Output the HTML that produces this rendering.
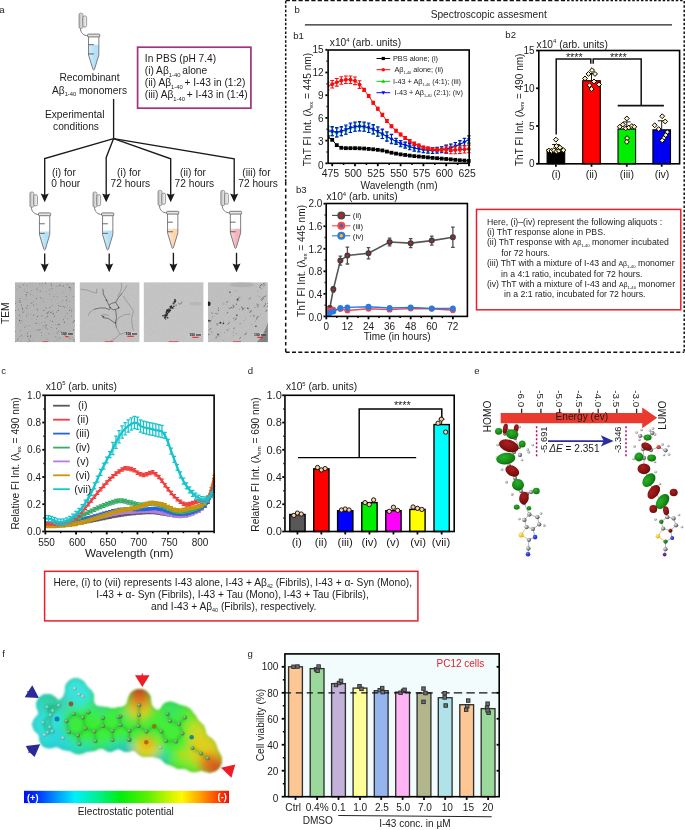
<!DOCTYPE html>
<html><head><meta charset="utf-8"><title>Figure</title>
<style>
html,body{margin:0;padding:0;background:#fff;}
body{width:685px;height:830px;overflow:hidden;font-family:"Liberation Sans",sans-serif;}
svg{display:block;will-change:transform;}
svg text{font-family:"Liberation Sans",sans-serif;fill:#1c1c1c;}
</style></head><body>
<svg width="685" height="830" viewBox="0 0 685 830">
<defs>
<filter id="blur1" x="-10%" y="-10%" width="120%" height="120%"><feGaussianBlur stdDeviation="1.2"/></filter>
<filter id="goo" x="-10%" y="-10%" width="120%" height="120%"><feGaussianBlur in="SourceGraphic" stdDeviation="2.6" result="b"/><feColorMatrix in="b" mode="matrix" values="1 0 0 0 0  0 1 0 0 0  0 0 1 0 0  0 0 0 16 -7.5" result="g"/><feGaussianBlur in="g" stdDeviation="0.85"/></filter>
<filter id="goo2" x="-10%" y="-10%" width="120%" height="120%"><feGaussianBlur in="SourceGraphic" stdDeviation="2.6" result="b"/><feColorMatrix in="b" mode="matrix" values="1 0 0 0 0  0 1 0 0 0  0 0 1 0 0  0 0 0 16 -7.5" result="g"/><feGaussianBlur in="g" stdDeviation="3.2"/></filter>
<filter id="grain" x="0" y="0" width="100%" height="100%"><feTurbulence type="fractalNoise" baseFrequency="0.85" numOctaves="2" seed="3" result="n"/><feColorMatrix in="n" type="matrix" values="0.33 0.33 0.33 0 0  0.33 0.33 0.33 0 0  0.33 0.33 0.33 0 0  0 0 0 0 0.35"/></filter>
<filter id="blur2" x="-20%" y="-20%" width="140%" height="140%"><feGaussianBlur stdDeviation="4"/></filter>
<radialGradient id="gDR" cx="0.4" cy="0.35" r="0.75"><stop offset="0" stop-color="#a82020"/><stop offset="0.6" stop-color="#861212"/><stop offset="1" stop-color="#560808"/></radialGradient>
<radialGradient id="gGR" cx="0.4" cy="0.35" r="0.75"><stop offset="0" stop-color="#2cb02c"/><stop offset="0.6" stop-color="#168a16"/><stop offset="1" stop-color="#0a5a0a"/></radialGradient>
<radialGradient id="gGY" cx="0.35" cy="0.35" r="0.7"><stop offset="0" stop-color="#ececec"/><stop offset="0.55" stop-color="#8e8e8e"/><stop offset="1" stop-color="#3c3c3c"/></radialGradient>
<radialGradient id="gWH" cx="0.35" cy="0.35" r="0.7"><stop offset="0" stop-color="#f6f6f6"/><stop offset="1" stop-color="#747474"/></radialGradient>
<radialGradient id="gYE" cx="0.35" cy="0.35" r="0.7"><stop offset="0" stop-color="#fff080"/><stop offset="1" stop-color="#d8b010"/></radialGradient>
<radialGradient id="gBL" cx="0.35" cy="0.35" r="0.7"><stop offset="0" stop-color="#5070ff"/><stop offset="1" stop-color="#1018c0"/></radialGradient>
<radialGradient id="gRD" cx="0.35" cy="0.35" r="0.7"><stop offset="0" stop-color="#ff6060"/><stop offset="1" stop-color="#e01010"/></radialGradient>
<radialGradient id="gPU" cx="0.35" cy="0.35" r="0.7"><stop offset="0" stop-color="#9040a0"/><stop offset="1" stop-color="#401080"/></radialGradient>
<radialGradient id="gGRs" cx="0.35" cy="0.35" r="0.7"><stop offset="0" stop-color="#30b030"/><stop offset="1" stop-color="#0a6a0a"/></radialGradient>
<radialGradient id="gDRs" cx="0.35" cy="0.35" r="0.7"><stop offset="0" stop-color="#a02020"/><stop offset="1" stop-color="#600808"/></radialGradient>
<radialGradient id="gAT" cx="0.35" cy="0.35" r="0.7"><stop offset="0" stop-color="#a8d0a0"/><stop offset="1" stop-color="#2c6630"/></radialGradient>
<linearGradient id="glid" x1="0" y1="0" x2="1" y2="0"><stop offset="0" stop-color="#b4b4b4"/><stop offset="1" stop-color="#f2f2f2"/></linearGradient>
<linearGradient id="glid2" x1="0" y1="0" x2="1" y2="0"><stop offset="0" stop-color="#c8c8c8"/><stop offset="1" stop-color="#f8f8f8"/></linearGradient>
<linearGradient id="gliq" x1="0" y1="0" x2="1" y2="0"><stop offset="0" stop-color="#fff" stop-opacity="0.45"/><stop offset="0.6" stop-color="#fff" stop-opacity="0"/></linearGradient>
<radialGradient id="gAT2" cx="0.35" cy="0.35" r="0.7"><stop offset="0" stop-color="#a8ece4"/><stop offset="1" stop-color="#2a9a94"/></radialGradient>
<linearGradient id="gsurf" x1="0" y1="0" x2="1" y2="0"><stop offset="0" stop-color="#34dce0"/><stop offset="0.2" stop-color="#30e0b8"/><stop offset="0.32" stop-color="#3cec40"/><stop offset="0.7" stop-color="#48ec38"/><stop offset="0.85" stop-color="#a8e824"/><stop offset="1" stop-color="#e08020"/></linearGradient>
<linearGradient id="gbar" x1="0" y1="0" x2="1" y2="0"><stop offset="0" stop-color="#0010f0"/><stop offset="0.07" stop-color="#0038ff"/><stop offset="0.16" stop-color="#0098ff"/><stop offset="0.25" stop-color="#00f0f8"/><stop offset="0.36" stop-color="#00f090"/><stop offset="0.47" stop-color="#00ee10"/><stop offset="0.6" stop-color="#58f000"/><stop offset="0.7" stop-color="#c0f400"/><stop offset="0.77" stop-color="#fff800"/><stop offset="0.86" stop-color="#ffa000"/><stop offset="0.94" stop-color="#ff4800"/><stop offset="1" stop-color="#f01000"/></linearGradient>
</defs>
<g id="pa">
<text x="-0.8" y="13.3" font-size="9.6">a</text>
<g><rect x="79" y="13.2" width="3.9" height="15.2" rx="1.5" fill="url(#glid)" stroke="#777" stroke-width="0.7"/><rect x="82.7" y="15.9" width="3.9" height="11.2" rx="1.6" fill="url(#glid2)" stroke="#777" stroke-width="0.7"/><path d="M80.5 28.4 C80.5 32.7 83.5 35.7 88 35.7" fill="none" stroke="#777" stroke-width="1"/><path d="M88.55 35.3 L88.55 55.03 L93 69.5 Q93.7 70.8 94.4 69.5 L98.85 55.03 L98.85 35.3 Z" fill="#fff" stroke="none"/><path d="M88.55 44.7 L88.55 55.03 L93 69.5 Q93.7 70.8 94.4 69.5 L98.85 55.03 L98.85 44.7 Z" fill="#b4e0f8"/><path d="M88.55 44.7 L88.55 55.03 L93 69.5 Q93.7 70.8 94.4 69.5 L98.85 55.03 L98.85 44.7 Z" fill="url(#gliq)"/><path d="M88.55 35.3 L88.55 55.03 L93 69.5 Q93.7 70.8 94.4 69.5 L98.85 55.03 L98.85 35.3 Z" fill="none" stroke="#707070" stroke-width="0.9"/><rect x="87.6" y="34.1" width="12.2" height="2.8" rx="0.9" fill="#e4e4e4" stroke="#5c5c5c" stroke-width="0.8"/><line x1="88.55" y1="44.66" x2="93.85" y2="44.66" stroke="#444" stroke-width="0.8" />
<line x1="88.55" y1="53.94" x2="93.85" y2="53.94" stroke="#444" stroke-width="0.8" />
</g>
<text x="89.5" y="81.4" font-size="10.2" text-anchor="middle">Recombinant</text>
<text x="89.5" y="93.8" font-size="10.2" text-anchor="middle">A&#946;<tspan font-size="5.8" dy="2.4">1-40</tspan><tspan dy="-2.4" dx="-0.2">&#8203;</tspan> monomers</text>
<text x="74.7" y="118.1" font-size="10.2" text-anchor="middle">Experimental</text>
<text x="76" y="130.4" font-size="10.2" text-anchor="middle">conditions</text>
<rect x="137.6" y="47.2" width="113.3" height="61" fill="#fff" stroke="#a3317b" stroke-width="1.7" />
<text x="144.8" y="61.5" font-size="10.2">In PBS (pH 7.4)</text>
<text x="144.8" y="74" font-size="10.2">(i) A&#946;<tspan font-size="5.8" dy="2.7">1-40</tspan><tspan dy="-2.7" dx="-1">&#8203;</tspan> alone</text>
<text x="144.8" y="86.1" font-size="10.2">(ii) A&#946;<tspan font-size="5.8" dy="2.7">1-40</tspan><tspan dy="-2.7" dx="-1">&#8203;</tspan> + I-43 in (1:2)</text>
<text x="144.8" y="98.3" font-size="10.2">(iii) A&#946;<tspan font-size="5.8" dy="2.7">1-40</tspan><tspan dy="-2.7" dx="-1">&#8203;</tspan> + I-43 in (1:4)</text>
<line x1="113.6" y1="99" x2="113.6" y2="138.6" stroke="#1a1a1a" stroke-width="1.35" />
<path d="M113.6 138.6 L44.7 158.6 L44.7 196" fill="none" stroke="#1a1a1a" stroke-width="1.35" stroke-linejoin="miter"/>
<path d="M44.7 202.2 L40.7 193.6 Q44.7 195.8 48.7 193.6 Z" fill="#1a1a1a"/>
<path d="M113.6 138.6 L106.2 157.5 L106.2 196" fill="none" stroke="#1a1a1a" stroke-width="1.35" stroke-linejoin="miter"/>
<path d="M106.2 202.2 L102.2 193.6 Q106.2 195.8 110.2 193.6 Z" fill="#1a1a1a"/>
<path d="M113.6 138.6 L170.7 158.8 L170.7 196" fill="none" stroke="#1a1a1a" stroke-width="1.35" stroke-linejoin="miter"/>
<path d="M170.7 202.2 L166.7 193.6 Q170.7 195.8 174.7 193.6 Z" fill="#1a1a1a"/>
<path d="M113.6 138.6 L234.2 158.8 L234.2 196" fill="none" stroke="#1a1a1a" stroke-width="1.35" stroke-linejoin="miter"/>
<path d="M234.2 202.2 L230.2 193.6 Q234.2 195.8 238.2 193.6 Z" fill="#1a1a1a"/>
<text x="64" y="176" font-size="10.2" text-anchor="middle">(i) for</text>
<text x="65.8" y="187.3" font-size="10.2" text-anchor="middle">0 hour</text>
<text x="129" y="176" font-size="10.2" text-anchor="middle">(i) for</text>
<text x="130.3" y="187.3" font-size="10.2" text-anchor="middle">72 hours</text>
<text x="193" y="176" font-size="10.2" text-anchor="middle">(ii) for</text>
<text x="194.4" y="187.3" font-size="10.2" text-anchor="middle">72 hours</text>
<text x="256.4" y="176" font-size="10.2" text-anchor="middle">(iii) for</text>
<text x="258.1" y="187.3" font-size="10.2" text-anchor="middle">72 hours</text>
<g><rect x="29.9" y="192" width="3.9" height="15.2" rx="1.5" fill="url(#glid)" stroke="#777" stroke-width="0.7"/><rect x="33.6" y="194.7" width="3.9" height="11.2" rx="1.6" fill="url(#glid2)" stroke="#777" stroke-width="0.7"/><path d="M31.4 207.2 C31.4 211.5 34.4 214.5 38.9 214.5" fill="none" stroke="#777" stroke-width="1"/><path d="M39.45 214.1 L39.45 234.46 L43.9 249.4 Q44.6 250.7 45.3 249.4 L49.75 234.46 L49.75 214.1 Z" fill="#fff" stroke="none"/><path d="M39.45 231.4 L39.45 234.46 L43.9 249.4 Q44.6 250.7 45.3 249.4 L49.75 234.46 L49.75 231.4 Z" fill="#b4e0f8"/><path d="M39.45 231.4 L39.45 234.46 L43.9 249.4 Q44.6 250.7 45.3 249.4 L49.75 234.46 L49.75 231.4 Z" fill="url(#gliq)"/><path d="M39.45 214.1 L39.45 234.46 L43.9 249.4 Q44.6 250.7 45.3 249.4 L49.75 234.46 L49.75 214.1 Z" fill="none" stroke="#707070" stroke-width="0.9"/><rect x="38.5" y="212.9" width="12.2" height="2.8" rx="0.9" fill="#e4e4e4" stroke="#5c5c5c" stroke-width="0.8"/><line x1="39.45" y1="223.78" x2="44.75" y2="223.78" stroke="#444" stroke-width="0.8" />
<line x1="39.45" y1="233.34" x2="44.75" y2="233.34" stroke="#444" stroke-width="0.8" />
</g>
<line x1="44.7" y1="253.5" x2="44.7" y2="266" stroke="#1a1a1a" stroke-width="1.35" />
<path d="M44.7 272.2 L40.7 263.6 Q44.7 265.8 48.7 263.6 Z" fill="#1a1a1a"/>
<g><rect x="93" y="192" width="3.9" height="15.2" rx="1.5" fill="url(#glid)" stroke="#777" stroke-width="0.7"/><rect x="96.7" y="194.7" width="3.9" height="11.2" rx="1.6" fill="url(#glid2)" stroke="#777" stroke-width="0.7"/><path d="M94.5 207.2 C94.5 211.5 97.5 214.5 102 214.5" fill="none" stroke="#777" stroke-width="1"/><path d="M102.55 214.1 L102.55 234.46 L107 249.4 Q107.7 250.7 108.4 249.4 L112.85 234.46 L112.85 214.1 Z" fill="#fff" stroke="none"/><path d="M102.55 230.5 L102.55 234.46 L107 249.4 Q107.7 250.7 108.4 249.4 L112.85 234.46 L112.85 230.5 Z" fill="#b4e0f8"/><path d="M102.55 230.5 L102.55 234.46 L107 249.4 Q107.7 250.7 108.4 249.4 L112.85 234.46 L112.85 230.5 Z" fill="url(#gliq)"/><path d="M102.55 214.1 L102.55 234.46 L107 249.4 Q107.7 250.7 108.4 249.4 L112.85 234.46 L112.85 214.1 Z" fill="none" stroke="#707070" stroke-width="0.9"/><rect x="101.6" y="212.9" width="12.2" height="2.8" rx="0.9" fill="#e4e4e4" stroke="#5c5c5c" stroke-width="0.8"/><line x1="102.55" y1="223.78" x2="107.85" y2="223.78" stroke="#444" stroke-width="0.8" />
<line x1="102.55" y1="233.34" x2="107.85" y2="233.34" stroke="#444" stroke-width="0.8" />
</g>
<line x1="109.2" y1="253.5" x2="109.2" y2="266" stroke="#1a1a1a" stroke-width="1.35" />
<path d="M109.2 272.2 L105.2 263.6 Q109.2 265.8 113.2 263.6 Z" fill="#1a1a1a"/>
<g><rect x="158" y="190.4" width="3.9" height="15.2" rx="1.5" fill="url(#glid)" stroke="#777" stroke-width="0.7"/><rect x="161.7" y="193.1" width="3.9" height="11.2" rx="1.6" fill="url(#glid2)" stroke="#777" stroke-width="0.7"/><path d="M159.5 205.6 C159.5 209.9 162.5 212.9 167 212.9" fill="none" stroke="#777" stroke-width="1"/><path d="M167.55 212.5 L167.55 232.86 L172 247.8 Q172.7 249.1 173.4 247.8 L177.85 232.86 L177.85 212.5 Z" fill="#fff" stroke="none"/><path d="M167.55 228.7 L167.55 232.86 L172 247.8 Q172.7 249.1 173.4 247.8 L177.85 232.86 L177.85 228.7 Z" fill="#fbd7ae"/><path d="M167.55 228.7 L167.55 232.86 L172 247.8 Q172.7 249.1 173.4 247.8 L177.85 232.86 L177.85 228.7 Z" fill="url(#gliq)"/><path d="M167.55 212.5 L167.55 232.86 L172 247.8 Q172.7 249.1 173.4 247.8 L177.85 232.86 L177.85 212.5 Z" fill="none" stroke="#707070" stroke-width="0.9"/><rect x="166.6" y="211.3" width="12.2" height="2.8" rx="0.9" fill="#e4e4e4" stroke="#5c5c5c" stroke-width="0.8"/><line x1="167.55" y1="222.18" x2="172.85" y2="222.18" stroke="#444" stroke-width="0.8" />
<line x1="167.55" y1="231.74" x2="172.85" y2="231.74" stroke="#444" stroke-width="0.8" />
</g>
<line x1="173.4" y1="252.8" x2="173.4" y2="266" stroke="#1a1a1a" stroke-width="1.35" />
<path d="M173.4 272.2 L169.4 263.6 Q173.4 265.8 177.4 263.6 Z" fill="#1a1a1a"/>
<g><rect x="220.8" y="190.4" width="3.9" height="15.2" rx="1.5" fill="url(#glid)" stroke="#777" stroke-width="0.7"/><rect x="224.5" y="193.1" width="3.9" height="11.2" rx="1.6" fill="url(#glid2)" stroke="#777" stroke-width="0.7"/><path d="M222.3 205.6 C222.3 209.9 225.3 212.9 229.8 212.9" fill="none" stroke="#777" stroke-width="1"/><path d="M230.35 212.5 L230.35 232.86 L234.8 247.8 Q235.5 249.1 236.2 247.8 L240.65 232.86 L240.65 212.5 Z" fill="#fff" stroke="none"/><path d="M230.35 228.7 L230.35 232.86 L234.8 247.8 Q235.5 249.1 236.2 247.8 L240.65 232.86 L240.65 228.7 Z" fill="#f2b4be"/><path d="M230.35 228.7 L230.35 232.86 L234.8 247.8 Q235.5 249.1 236.2 247.8 L240.65 232.86 L240.65 228.7 Z" fill="url(#gliq)"/><path d="M230.35 212.5 L230.35 232.86 L234.8 247.8 Q235.5 249.1 236.2 247.8 L240.65 232.86 L240.65 212.5 Z" fill="none" stroke="#707070" stroke-width="0.9"/><rect x="229.4" y="211.3" width="12.2" height="2.8" rx="0.9" fill="#e4e4e4" stroke="#5c5c5c" stroke-width="0.8"/><line x1="230.35" y1="222.18" x2="235.65" y2="222.18" stroke="#444" stroke-width="0.8" />
<line x1="230.35" y1="231.74" x2="235.65" y2="231.74" stroke="#444" stroke-width="0.8" />
</g>
<line x1="236.5" y1="252.8" x2="236.5" y2="266" stroke="#1a1a1a" stroke-width="1.35" />
<path d="M236.5 272.2 L232.5 263.6 Q236.5 265.8 240.5 263.6 Z" fill="#1a1a1a"/>
<text x="9.2" y="313.2" font-size="10.2" text-anchor="middle" transform="rotate(-90 9.2 313.2)">TEM</text>
<clipPath id="ct0"><rect x="14.9" y="282.2" width="60" height="60"/></clipPath><g clip-path="url(#ct0)"><rect x="14.9" y="282.2" width="60" height="60" fill="#b4b4b4" />
<rect x="14.9" y="282.2" width="60" height="60" fill="#808080" filter="url(#grain)" opacity="0.4"/>
<circle cx="42.04" cy="315.79" r="0.58" fill="#505050" opacity="0.66"/><circle cx="45.37" cy="317.44" r="0.36" fill="#505050" opacity="0.68"/><circle cx="52.69" cy="329.78" r="0.33" fill="#505050" opacity="0.59"/><circle cx="20.34" cy="330.78" r="0.51" fill="#505050" opacity="0.47"/><circle cx="73.83" cy="340.09" r="0.5" fill="#505050" opacity="0.73"/><circle cx="24.35" cy="283.1" r="0.46" fill="#505050" opacity="0.48"/><circle cx="26.31" cy="296.72" r="0.31" fill="#505050" opacity="0.66"/><circle cx="41.33" cy="332.75" r="0.46" fill="#505050" opacity="0.74"/><circle cx="44.89" cy="321.95" r="0.44" fill="#505050" opacity="0.58"/><circle cx="74.76" cy="341.94" r="0.55" fill="#505050" opacity="0.77"/><circle cx="33.82" cy="295.98" r="0.39" fill="#505050" opacity="0.48"/><circle cx="60.88" cy="306.22" r="0.55" fill="#505050" opacity="0.62"/><circle cx="72.38" cy="333.04" r="0.3" fill="#505050" opacity="0.54"/><circle cx="69.52" cy="310.4" r="0.59" fill="#505050" opacity="0.63"/><circle cx="19.28" cy="319.97" r="0.53" fill="#505050" opacity="0.57"/><circle cx="20.13" cy="302.16" r="0.59" fill="#505050" opacity="0.79"/><circle cx="21.98" cy="296.98" r="0.33" fill="#505050" opacity="0.48"/><circle cx="62.72" cy="292.86" r="0.47" fill="#505050" opacity="0.65"/><circle cx="26.34" cy="326.11" r="0.34" fill="#505050" opacity="0.74"/><circle cx="21.89" cy="307.45" r="0.36" fill="#505050" opacity="0.57"/><circle cx="73.16" cy="330.4" r="0.39" fill="#505050" opacity="0.85"/><circle cx="27.54" cy="305.86" r="0.56" fill="#505050" opacity="0.74"/><circle cx="20.92" cy="341.56" r="0.36" fill="#505050" opacity="0.57"/><circle cx="61.26" cy="301.94" r="0.39" fill="#505050" opacity="0.48"/><circle cx="20.31" cy="317.16" r="0.37" fill="#505050" opacity="0.72"/><circle cx="37.2" cy="309.39" r="0.59" fill="#505050" opacity="0.67"/><circle cx="49.37" cy="334.19" r="0.35" fill="#505050" opacity="0.52"/><circle cx="69.41" cy="331.27" r="0.37" fill="#505050" opacity="0.54"/><circle cx="59.27" cy="338.62" r="0.36" fill="#505050" opacity="0.88"/><circle cx="67.83" cy="318.41" r="0.43" fill="#505050" opacity="0.5"/><circle cx="17.22" cy="339.96" r="0.37" fill="#505050" opacity="0.77"/><circle cx="30.32" cy="331.62" r="0.48" fill="#505050" opacity="0.58"/><circle cx="25.43" cy="325.42" r="0.32" fill="#505050" opacity="0.55"/><circle cx="48.46" cy="333.34" r="0.48" fill="#505050" opacity="0.58"/><circle cx="69.94" cy="294.44" r="0.3" fill="#505050" opacity="0.57"/><circle cx="41.64" cy="285.83" r="0.35" fill="#505050" opacity="0.62"/><circle cx="49.23" cy="290.09" r="0.41" fill="#505050" opacity="0.85"/><circle cx="73.73" cy="321.62" r="0.51" fill="#505050" opacity="0.71"/><circle cx="23.32" cy="284.3" r="0.31" fill="#505050" opacity="0.86"/><circle cx="56.96" cy="339.97" r="0.31" fill="#505050" opacity="0.74"/><circle cx="43.83" cy="326.03" r="0.4" fill="#505050" opacity="0.9"/><circle cx="19.42" cy="314.97" r="0.52" fill="#505050" opacity="0.86"/><circle cx="59.13" cy="324.42" r="0.54" fill="#505050" opacity="0.86"/><circle cx="36.01" cy="323.31" r="0.57" fill="#505050" opacity="0.84"/><circle cx="39.93" cy="329.63" r="0.56" fill="#505050" opacity="0.71"/><circle cx="52.4" cy="305.14" r="0.47" fill="#505050" opacity="0.72"/><circle cx="19.71" cy="320.56" r="0.6" fill="#505050" opacity="0.85"/><circle cx="58.59" cy="305.51" r="0.52" fill="#505050" opacity="0.71"/><circle cx="41.33" cy="332.5" r="0.33" fill="#505050" opacity="0.79"/><circle cx="16.69" cy="318.28" r="0.44" fill="#505050" opacity="0.55"/><circle cx="56.8" cy="312.04" r="0.48" fill="#505050" opacity="0.86"/><circle cx="30.25" cy="282.88" r="0.39" fill="#505050" opacity="0.76"/><circle cx="27.05" cy="292.38" r="0.57" fill="#505050" opacity="0.75"/><circle cx="41.42" cy="335.7" r="0.4" fill="#505050" opacity="0.75"/><circle cx="26.81" cy="308.05" r="0.54" fill="#505050" opacity="0.86"/><circle cx="67.72" cy="305.27" r="0.47" fill="#505050" opacity="0.59"/><circle cx="23.07" cy="311.99" r="0.55" fill="#505050" opacity="0.83"/><circle cx="57.57" cy="339.2" r="0.38" fill="#505050" opacity="0.53"/><circle cx="41.94" cy="298.71" r="0.36" fill="#505050" opacity="0.64"/><circle cx="52.44" cy="311.83" r="0.39" fill="#505050" opacity="0.83"/><circle cx="73.82" cy="309.35" r="0.32" fill="#505050" opacity="0.46"/><circle cx="67.27" cy="284.69" r="0.51" fill="#505050" opacity="0.71"/><circle cx="33.44" cy="329.69" r="0.31" fill="#505050" opacity="0.51"/><circle cx="42.19" cy="283.68" r="0.55" fill="#505050" opacity="0.56"/><circle cx="23.35" cy="285.02" r="0.49" fill="#505050" opacity="0.65"/><circle cx="52.7" cy="321.5" r="0.54" fill="#505050" opacity="0.88"/><circle cx="55.97" cy="294.16" r="0.44" fill="#505050" opacity="0.53"/><circle cx="15.55" cy="310.53" r="0.51" fill="#505050" opacity="0.53"/><circle cx="31.24" cy="302.94" r="0.51" fill="#505050" opacity="0.68"/><circle cx="51.77" cy="327.57" r="0.42" fill="#505050" opacity="0.81"/><circle cx="69.27" cy="287.43" r="0.58" fill="#505050" opacity="0.78"/><circle cx="22.69" cy="309.41" r="0.49" fill="#505050" opacity="0.86"/><circle cx="37.51" cy="316.33" r="0.56" fill="#505050" opacity="0.81"/><circle cx="71.56" cy="310.02" r="0.5" fill="#505050" opacity="0.54"/><circle cx="58.22" cy="331.3" r="0.49" fill="#505050" opacity="0.77"/><circle cx="27.7" cy="336.2" r="0.59" fill="#505050" opacity="0.89"/><circle cx="47.12" cy="329.65" r="0.4" fill="#505050" opacity="0.86"/><circle cx="66.25" cy="303.11" r="0.32" fill="#505050" opacity="0.65"/><circle cx="47.92" cy="328.29" r="0.45" fill="#505050" opacity="0.46"/><circle cx="63.45" cy="286.04" r="0.54" fill="#505050" opacity="0.53"/><circle cx="35" cy="329.47" r="0.34" fill="#505050" opacity="0.52"/><circle cx="45.89" cy="325.61" r="0.55" fill="#505050" opacity="0.76"/><circle cx="71.64" cy="311.75" r="0.58" fill="#505050" opacity="0.49"/><circle cx="28.18" cy="313.8" r="0.39" fill="#505050" opacity="0.78"/><circle cx="53.23" cy="313.57" r="0.55" fill="#505050" opacity="0.7"/><circle cx="33.6" cy="305.07" r="0.55" fill="#505050" opacity="0.86"/><circle cx="27.39" cy="333.25" r="0.59" fill="#505050" opacity="0.69"/><circle cx="49.28" cy="294.26" r="0.46" fill="#505050" opacity="0.68"/><circle cx="51.21" cy="283.87" r="0.59" fill="#505050" opacity="0.68"/><circle cx="38.94" cy="330.26" r="0.47" fill="#505050" opacity="0.67"/><circle cx="56.36" cy="286.15" r="0.46" fill="#505050" opacity="0.64"/><circle cx="72.31" cy="337.61" r="0.38" fill="#505050" opacity="0.66"/><circle cx="22.52" cy="308.22" r="0.54" fill="#505050" opacity="0.86"/><circle cx="43.49" cy="301.23" r="0.36" fill="#505050" opacity="0.73"/><circle cx="70.42" cy="289.97" r="0.53" fill="#505050" opacity="0.46"/><circle cx="26.55" cy="295.84" r="0.51" fill="#505050" opacity="0.59"/><circle cx="36.22" cy="319.39" r="0.33" fill="#505050" opacity="0.78"/><circle cx="22.27" cy="312.83" r="0.38" fill="#505050" opacity="0.54"/><circle cx="46.72" cy="308.41" r="0.41" fill="#505050" opacity="0.64"/><circle cx="46.66" cy="291.78" r="0.36" fill="#505050" opacity="0.73"/><circle cx="53.21" cy="313.98" r="0.56" fill="#505050" opacity="0.73"/><circle cx="66.31" cy="296.16" r="0.52" fill="#505050" opacity="0.81"/><circle cx="69.06" cy="301.15" r="0.39" fill="#505050" opacity="0.87"/><circle cx="27.99" cy="342.1" r="0.57" fill="#505050" opacity="0.51"/><circle cx="29.26" cy="325.79" r="0.38" fill="#505050" opacity="0.49"/><circle cx="64.83" cy="307.5" r="0.54" fill="#505050" opacity="0.51"/><circle cx="39.07" cy="323.31" r="0.31" fill="#505050" opacity="0.54"/><circle cx="55.84" cy="336.88" r="0.59" fill="#505050" opacity="0.5"/><circle cx="45.24" cy="327.69" r="0.45" fill="#505050" opacity="0.76"/><circle cx="26.24" cy="286.43" r="0.33" fill="#505050" opacity="0.47"/><circle cx="48" cy="313.09" r="0.47" fill="#505050" opacity="0.52"/><circle cx="25.97" cy="294.43" r="0.55" fill="#505050" opacity="0.9"/><circle cx="70.51" cy="287.91" r="0.32" fill="#505050" opacity="0.88"/><circle cx="42.62" cy="328.08" r="0.4" fill="#505050" opacity="0.66"/><circle cx="45.82" cy="308" r="0.48" fill="#505050" opacity="0.46"/><circle cx="56.96" cy="332.86" r="0.35" fill="#505050" opacity="0.65"/><circle cx="59.26" cy="306.52" r="0.36" fill="#505050" opacity="0.52"/><circle cx="45.65" cy="283.13" r="0.57" fill="#505050" opacity="0.81"/><circle cx="57.18" cy="333.84" r="0.49" fill="#505050" opacity="0.63"/><circle cx="50.88" cy="312.46" r="0.59" fill="#505050" opacity="0.81"/><circle cx="30.4" cy="336.88" r="0.52" fill="#505050" opacity="0.8"/><circle cx="63.78" cy="306.54" r="0.57" fill="#505050" opacity="0.85"/><circle cx="56.59" cy="328.24" r="0.53" fill="#505050" opacity="0.63"/><circle cx="58.26" cy="286.43" r="0.4" fill="#505050" opacity="0.66"/><circle cx="15.54" cy="303.54" r="0.49" fill="#505050" opacity="0.73"/><circle cx="28.83" cy="338.88" r="0.5" fill="#505050" opacity="0.6"/><circle cx="54.49" cy="316.37" r="0.46" fill="#505050" opacity="0.63"/><circle cx="74.89" cy="320.74" r="0.51" fill="#505050" opacity="0.79"/><circle cx="73.71" cy="283.57" r="0.48" fill="#505050" opacity="0.78"/><circle cx="30.3" cy="306.29" r="0.32" fill="#505050" opacity="0.54"/><circle cx="37.44" cy="288.11" r="0.38" fill="#505050" opacity="0.86"/><circle cx="47.9" cy="312.67" r="0.59" fill="#505050" opacity="0.71"/><circle cx="74.61" cy="320.48" r="0.54" fill="#505050" opacity="0.48"/><circle cx="50.75" cy="327.75" r="0.31" fill="#505050" opacity="0.87"/><circle cx="24.5" cy="310.51" r="0.35" fill="#505050" opacity="0.67"/><circle cx="51.57" cy="285.71" r="0.58" fill="#505050" opacity="0.64"/><circle cx="46.51" cy="318.07" r="0.41" fill="#505050" opacity="0.58"/><circle cx="54.21" cy="315.84" r="0.39" fill="#505050" opacity="0.77"/><circle cx="32.66" cy="283.04" r="0.37" fill="#505050" opacity="0.47"/><circle cx="24.3" cy="327.48" r="0.42" fill="#505050" opacity="0.85"/><circle cx="59.8" cy="285.21" r="0.6" fill="#505050" opacity="0.88"/><circle cx="19.31" cy="336.53" r="0.43" fill="#505050" opacity="0.66"/><circle cx="73.29" cy="296.82" r="0.46" fill="#505050" opacity="0.87"/><circle cx="58.26" cy="310.3" r="0.59" fill="#505050" opacity="0.82"/><circle cx="51.12" cy="289.11" r="0.49" fill="#505050" opacity="0.66"/><circle cx="27.12" cy="285.32" r="0.46" fill="#505050" opacity="0.51"/><circle cx="41.47" cy="322.27" r="0.44" fill="#505050" opacity="0.57"/><circle cx="49.83" cy="307.37" r="0.53" fill="#505050" opacity="0.69"/><circle cx="74.76" cy="339.36" r="0.52" fill="#505050" opacity="0.56"/><circle cx="21.73" cy="335.76" r="0.54" fill="#505050" opacity="0.73"/><circle cx="36.45" cy="298.49" r="0.51" fill="#505050" opacity="0.7"/><circle cx="50.4" cy="320.19" r="0.53" fill="#505050" opacity="0.54"/><circle cx="29.84" cy="340.98" r="0.57" fill="#505050" opacity="0.85"/><circle cx="17.27" cy="285.85" r="0.38" fill="#505050" opacity="0.64"/><circle cx="52.3" cy="288.35" r="0.46" fill="#505050" opacity="0.48"/><circle cx="20.09" cy="322.78" r="0.47" fill="#505050" opacity="0.73"/><circle cx="37.29" cy="310.91" r="0.36" fill="#505050" opacity="0.6"/><circle cx="59.59" cy="332.51" r="0.32" fill="#505050" opacity="0.5"/><circle cx="63.45" cy="319.62" r="0.53" fill="#505050" opacity="0.55"/><circle cx="40.36" cy="297.68" r="0.54" fill="#505050" opacity="0.62"/><circle cx="54.12" cy="341.55" r="0.4" fill="#505050" opacity="0.7"/><circle cx="59.67" cy="337.45" r="0.43" fill="#505050" opacity="0.62"/><circle cx="20.72" cy="334.71" r="0.32" fill="#505050" opacity="0.49"/><circle cx="48.75" cy="311.29" r="0.51" fill="#505050" opacity="0.58"/><circle cx="61.43" cy="286.76" r="0.36" fill="#505050" opacity="0.75"/><circle cx="19.8" cy="300.43" r="0.52" fill="#505050" opacity="0.76"/><circle cx="31.87" cy="290.78" r="0.41" fill="#505050" opacity="0.78"/><circle cx="36.88" cy="289.24" r="0.51" fill="#505050" opacity="0.71"/><circle cx="70.01" cy="338.6" r="0.57" fill="#505050" opacity="0.65"/><circle cx="63.08" cy="300.49" r="0.4" fill="#505050" opacity="0.63"/><circle cx="70.98" cy="335.88" r="0.37" fill="#505050" opacity="0.61"/><circle cx="36.83" cy="304" r="0.42" fill="#505050" opacity="0.62"/><circle cx="26.6" cy="316.03" r="0.54" fill="#505050" opacity="0.69"/><circle cx="65.08" cy="315.97" r="0.35" fill="#505050" opacity="0.79"/><circle cx="67.75" cy="299.09" r="0.31" fill="#505050" opacity="0.68"/><circle cx="47.55" cy="316.25" r="0.59" fill="#505050" opacity="0.74"/><circle cx="63.16" cy="286.04" r="0.46" fill="#505050" opacity="0.8"/><circle cx="19.94" cy="287.1" r="0.52" fill="#505050" opacity="0.85"/><circle cx="19.98" cy="320.25" r="0.34" fill="#505050" opacity="0.79"/><circle cx="53.84" cy="296.93" r="0.37" fill="#505050" opacity="0.79"/><circle cx="46.19" cy="328.08" r="0.42" fill="#505050" opacity="0.6"/><circle cx="73" cy="322.54" r="0.45" fill="#505050" opacity="0.69"/><circle cx="58.16" cy="324.69" r="0.57" fill="#505050" opacity="0.63"/><circle cx="64.47" cy="322.2" r="0.56" fill="#505050" opacity="0.81"/><circle cx="64.93" cy="335.52" r="0.59" fill="#505050" opacity="0.74"/><circle cx="46.33" cy="324.81" r="0.54" fill="#505050" opacity="0.64"/><circle cx="40.13" cy="290.97" r="0.52" fill="#505050" opacity="0.9"/><circle cx="37.43" cy="292.26" r="0.36" fill="#505050" opacity="0.64"/><circle cx="32.42" cy="340.39" r="0.32" fill="#505050" opacity="0.59"/><circle cx="21.79" cy="321.08" r="0.53" fill="#505050" opacity="0.53"/><circle cx="18.64" cy="309.73" r="0.48" fill="#505050" opacity="0.86"/><circle cx="17.08" cy="288.72" r="0.36" fill="#505050" opacity="0.55"/><circle cx="29.02" cy="325.23" r="0.48" fill="#505050" opacity="0.55"/><circle cx="26" cy="299.06" r="0.35" fill="#505050" opacity="0.79"/><circle cx="33.6" cy="315.09" r="0.55" fill="#505050" opacity="0.67"/><circle cx="30.53" cy="335.45" r="0.57" fill="#505050" opacity="0.6"/><circle cx="47.74" cy="339.62" r="0.44" fill="#505050" opacity="0.55"/><circle cx="17.88" cy="339.05" r="0.54" fill="#505050" opacity="0.62"/><circle cx="46.56" cy="313.15" r="0.38" fill="#505050" opacity="0.9"/><circle cx="54.35" cy="296.46" r="0.3" fill="#505050" opacity="0.66"/><circle cx="37.19" cy="330.01" r="0.51" fill="#505050" opacity="0.72"/><circle cx="24.34" cy="291.61" r="0.4" fill="#505050" opacity="0.57"/><circle cx="67.05" cy="313.17" r="0.49" fill="#505050" opacity="0.9"/><circle cx="30.89" cy="314.27" r="0.35" fill="#505050" opacity="0.8"/><circle cx="14.98" cy="331.49" r="0.55" fill="#505050" opacity="0.82"/><circle cx="19.85" cy="298.4" r="0.51" fill="#505050" opacity="0.49"/><circle cx="43.71" cy="310.32" r="0.59" fill="#505050" opacity="0.71"/><circle cx="66.34" cy="300.42" r="0.54" fill="#505050" opacity="0.64"/><circle cx="69.91" cy="287.66" r="0.55" fill="#505050" opacity="0.54"/><circle cx="47.5" cy="313.74" r="0.35" fill="#505050" opacity="0.82"/><circle cx="33.58" cy="300.84" r="0.32" fill="#505050" opacity="0.59"/><circle cx="42.93" cy="325.11" r="0.41" fill="#505050" opacity="0.76"/><circle cx="21.25" cy="305.85" r="0.44" fill="#505050" opacity="0.89"/><circle cx="64.68" cy="321.44" r="0.3" fill="#505050" opacity="0.62"/><circle cx="57.5" cy="296.45" r="0.47" fill="#505050" opacity="0.66"/><circle cx="15.53" cy="341.7" r="0.54" fill="#505050" opacity="0.54"/><circle cx="51.86" cy="299.62" r="0.41" fill="#505050" opacity="0.69"/><circle cx="32.79" cy="302.44" r="0.42" fill="#505050" opacity="0.75"/><circle cx="30.29" cy="294.2" r="0.52" fill="#505050" opacity="0.6"/><circle cx="71.6" cy="315.97" r="0.52" fill="#505050" opacity="0.6"/><circle cx="64.51" cy="287.74" r="0.34" fill="#505050" opacity="0.49"/><circle cx="55.56" cy="324.7" r="0.35" fill="#505050" opacity="0.63"/><circle cx="65.12" cy="317.76" r="0.33" fill="#505050" opacity="0.55"/><circle cx="24.33" cy="289.65" r="0.42" fill="#505050" opacity="0.48"/><circle cx="70.14" cy="307.82" r="0.45" fill="#505050" opacity="0.74"/><circle cx="60.91" cy="331.47" r="0.42" fill="#505050" opacity="0.6"/><circle cx="39.63" cy="283.13" r="0.42" fill="#505050" opacity="0.76"/><circle cx="73.82" cy="329.58" r="0.5" fill="#505050" opacity="0.72"/><circle cx="16.01" cy="302.06" r="0.4" fill="#505050" opacity="0.74"/><circle cx="21.28" cy="304.86" r="0.45" fill="#505050" opacity="0.8"/>
<rect x="60.2" y="332.6" width="13.4" height="3" fill="#e8e8e8" opacity="0.3"/>
<text x="66.9" y="335.2" font-size="3.4" text-anchor="middle" style="fill:#000" font-weight="bold">100 nm</text>
<rect x="65.2" y="336.2" width="3.5" height="1" fill="#ee1c1c" />
<rect x="42.4" y="341.2" width="6" height="0.9" fill="#e03838" opacity="0.85"/>
</g>
<clipPath id="ct1"><rect x="79.6" y="282.2" width="60" height="60"/></clipPath><g clip-path="url(#ct1)"><rect x="79.6" y="282.2" width="60" height="60" fill="#c2c2c2" />
<rect x="79.6" y="282.2" width="60" height="60" fill="#808080" filter="url(#grain)" opacity="0.4"/>
<path d="M23.3 6.6 L23.7 11.7 L26.1 16.4 L28.4 21.1 L30.8 25.8 L33.6 27.6 L37.9 26.7 L39.3 25.3" transform="translate(79.6 282.2)" fill="none" stroke="#3a3a3a" stroke-width="0.75" stroke-linejoin="round" opacity="0.8"/><path d="M39.3 25.3 L36 20.1 L38.8 15.5 L42.6 10.8" transform="translate(79.6 282.2)" fill="none" stroke="#3a3a3a" stroke-width="0.75" stroke-linejoin="round" opacity="0.8"/><path d="M14.3 27.2 L20 25.8 L25.6 25.8 L30.3 27.6" transform="translate(79.6 282.2)" fill="none" stroke="#3a3a3a" stroke-width="0.75" stroke-linejoin="round" opacity="0.8"/><path d="M21.8 32.8 L23.7 35.6 L28.4 36.1 L31.3 38 L36 41.2 L36.9 45.5" transform="translate(79.6 282.2)" fill="none" stroke="#3a3a3a" stroke-width="0.75" stroke-linejoin="round" opacity="0.8"/><path d="M36 27.6 L36.9 35.1 L36 39.8" transform="translate(79.6 282.2)" fill="none" stroke="#3a3a3a" stroke-width="0.75" stroke-linejoin="round" opacity="0.8"/><path d="M29.4 23 L32.2 21.1 L36 20.1" transform="translate(79.6 282.2)" fill="none" stroke="#3a3a3a" stroke-width="0.75" stroke-linejoin="round" opacity="0.8"/><path d="M42.6 10.8 L45.4 7 L47.3 3.3" transform="translate(79.6 282.2)" fill="none" stroke="#4a4a4a" stroke-width="0.42" stroke-linejoin="round" opacity="0.75"/><path d="M41.6 0.5 L42.1 5.2 L40.7 9.8 L37.9 14.5" transform="translate(79.6 282.2)" fill="none" stroke="#4a4a4a" stroke-width="0.42" stroke-linejoin="round" opacity="0.75"/><path d="M8.7 33.7 L10.1 30 L14.3 27.2" transform="translate(79.6 282.2)" fill="none" stroke="#4a4a4a" stroke-width="0.42" stroke-linejoin="round" opacity="0.75"/><path d="M1.1 7 L7.7 8 L14.3 10.3 L17.1 10.8 L17.1 6.6" transform="translate(79.6 282.2)" fill="none" stroke="#4a4a4a" stroke-width="0.42" stroke-linejoin="round" opacity="0.75"/><path d="M36.9 45.5 L38.8 49.2 L40.7 52 L36 55.8 L30.3 59.5" transform="translate(79.6 282.2)" fill="none" stroke="#4a4a4a" stroke-width="0.42" stroke-linejoin="round" opacity="0.75"/><path d="M21.8 32.8 L25.6 32.3 L29.4 33.3" transform="translate(79.6 282.2)" fill="none" stroke="#4a4a4a" stroke-width="0.42" stroke-linejoin="round" opacity="0.75"/><path d="M36 39.8 L39.7 35.1 L45.4 32.3 L51 31.9" transform="translate(79.6 282.2)" fill="none" stroke="#4a4a4a" stroke-width="0.42" stroke-linejoin="round" opacity="0.75"/><path d="M43.5 13.6 L49.2 22 L53.9 28.6 L52 37 L52.9 44.5 L53.9 48.3" transform="translate(79.6 282.2)" fill="none" stroke="#4a4a4a" stroke-width="0.42" stroke-linejoin="round" opacity="0.75"/><path d="M40.7 52 L47.3 50.1 L51 53" transform="translate(79.6 282.2)" fill="none" stroke="#4a4a4a" stroke-width="0.42" stroke-linejoin="round" opacity="0.75"/><circle cx="118.6" cy="307.8" r="0.8" fill="#2a2a2a" opacity="0.8"/><circle cx="115.6" cy="322.7" r="0.8" fill="#2a2a2a" opacity="0.8"/><circle cx="110.1" cy="307.7" r="0.8" fill="#2a2a2a" opacity="0.8"/><circle cx="103.6" cy="316.7" r="0.8" fill="#2a2a2a" opacity="0.8"/><circle cx="106.6" cy="300.2" r="0.8" fill="#2a2a2a" opacity="0.8"/>
<rect x="125.6" y="332.2" width="11.5" height="3" fill="#e8e8e8" opacity="0.3"/>
<text x="131.35" y="334.8" font-size="3.4" text-anchor="middle" style="fill:#000" font-weight="bold">100 nm</text>
<rect x="127.3" y="335.8" width="6.5" height="1" fill="#ee1c1c" />
<rect x="104.6" y="341.2" width="8.8" height="0.9" fill="#e03838" opacity="0.85"/>
</g>
<clipPath id="ct2"><rect x="143.6" y="282.2" width="60" height="60"/></clipPath><g clip-path="url(#ct2)"><rect x="143.6" y="282.2" width="60" height="60" fill="#c6c6c6" />
<rect x="143.6" y="282.2" width="60" height="60" fill="#808080" filter="url(#grain)" opacity="0.4"/>
<circle cx="167.41" cy="310.22" r="0.96" fill="#262626" opacity="0.85"/><circle cx="167.55" cy="314.25" r="0.59" fill="#262626" opacity="0.85"/><circle cx="174.03" cy="306.54" r="0.58" fill="#262626" opacity="0.85"/><circle cx="166.29" cy="312.97" r="0.82" fill="#262626" opacity="0.85"/><circle cx="165.63" cy="316.82" r="0.97" fill="#262626" opacity="0.85"/><circle cx="174.54" cy="301.42" r="0.9" fill="#262626" opacity="0.85"/><circle cx="175.37" cy="300.85" r="0.96" fill="#262626" opacity="0.85"/><circle cx="170.52" cy="306.97" r="0.71" fill="#262626" opacity="0.85"/><circle cx="168.22" cy="311.29" r="0.52" fill="#262626" opacity="0.85"/><circle cx="174.93" cy="299.73" r="0.86" fill="#262626" opacity="0.85"/><circle cx="171.14" cy="307.08" r="0.86" fill="#262626" opacity="0.85"/><circle cx="170.42" cy="310.45" r="0.76" fill="#262626" opacity="0.85"/><circle cx="166.42" cy="312.92" r="0.69" fill="#262626" opacity="0.85"/><circle cx="165.96" cy="314.3" r="0.59" fill="#262626" opacity="0.85"/><circle cx="167.21" cy="313.72" r="0.84" fill="#262626" opacity="0.85"/><circle cx="173.54" cy="303.42" r="1.01" fill="#262626" opacity="0.85"/><circle cx="167.51" cy="317.66" r="0.95" fill="#262626" opacity="0.85"/><circle cx="172.71" cy="307.92" r="0.97" fill="#262626" opacity="0.85"/><circle cx="174.75" cy="301.95" r="0.96" fill="#262626" opacity="0.85"/><circle cx="169.2" cy="309.78" r="1.03" fill="#262626" opacity="0.85"/><circle cx="171.48" cy="306.13" r="0.82" fill="#262626" opacity="0.85"/><circle cx="170.38" cy="306.72" r="0.89" fill="#262626" opacity="0.85"/><circle cx="168.79" cy="311.94" r="0.86" fill="#262626" opacity="0.85"/><circle cx="166.8" cy="315.08" r="0.84" fill="#262626" opacity="0.85"/><circle cx="170.81" cy="307.74" r="0.71" fill="#262626" opacity="0.85"/><circle cx="169.11" cy="311.12" r="1.05" fill="#262626" opacity="0.85"/><circle cx="166.49" cy="315.5" r="0.81" fill="#262626" opacity="0.85"/><circle cx="165.15" cy="315.31" r="0.95" fill="#262626" opacity="0.85"/><circle cx="164.88" cy="317.63" r="1.03" fill="#262626" opacity="0.85"/><circle cx="168.86" cy="308.81" r="0.63" fill="#262626" opacity="0.85"/><circle cx="163.06" cy="315.7" r="0.89" fill="#262626" opacity="0.85"/><circle cx="167.17" cy="309.65" r="0.61" fill="#262626" opacity="0.85"/><circle cx="170.88" cy="308.26" r="0.62" fill="#262626" opacity="0.85"/><circle cx="167.42" cy="313.48" r="0.69" fill="#262626" opacity="0.85"/><circle cx="166.56" cy="312.87" r="0.45" fill="#262626" opacity="0.85"/><circle cx="173.88" cy="306.19" r="0.78" fill="#262626" opacity="0.85"/><circle cx="168.59" cy="312.76" r="0.53" fill="#262626" opacity="0.85"/><circle cx="176.08" cy="305.05" r="0.58" fill="#262626" opacity="0.85"/><circle cx="168.37" cy="311.9" r="0.53" fill="#262626" opacity="0.85"/><circle cx="166.73" cy="311.88" r="1.04" fill="#262626" opacity="0.85"/><circle cx="165.37" cy="315.37" r="0.93" fill="#262626" opacity="0.85"/><circle cx="170.1" cy="310.19" r="0.53" fill="#262626" opacity="0.85"/><circle cx="165.68" cy="319.14" r="0.54" fill="#262626" opacity="0.85"/><circle cx="169.56" cy="310.01" r="0.93" fill="#262626" opacity="0.85"/><circle cx="167.36" cy="310.81" r="1.01" fill="#262626" opacity="0.85"/><circle cx="172.03" cy="307.63" r="0.79" fill="#262626" opacity="0.85"/><circle cx="180.58" cy="303.8" r="0.5" fill="#444" opacity="0.7"/><circle cx="181.69" cy="301.99" r="0.5" fill="#444" opacity="0.7"/><circle cx="178.65" cy="303.03" r="0.5" fill="#444" opacity="0.7"/><circle cx="181.35" cy="303.03" r="0.5" fill="#444" opacity="0.7"/><circle cx="179.3" cy="304.1" r="0.5" fill="#444" opacity="0.7"/><ellipse cx="195.6" cy="303.7" rx="6.5" ry="2" fill="#a8a8a8" opacity="0.45"/>
<rect x="188.6" y="333.2" width="13" height="3" fill="#e8e8e8" opacity="0.3"/>
<text x="195.1" y="335.8" font-size="3.4" text-anchor="middle" style="fill:#000" font-weight="bold">100 nm</text>
<rect x="192.3" y="336.8" width="6.3" height="1" fill="#ee1c1c" />
<rect x="168.6" y="341.2" width="10" height="0.9" fill="#e03838" opacity="0.85"/>
</g>
<clipPath id="ct3"><rect x="207.9" y="282.2" width="60" height="60"/></clipPath><g clip-path="url(#ct3)"><rect x="207.9" y="282.2" width="60" height="60" fill="#c0c0c0" />
<rect x="207.9" y="282.2" width="60" height="60" fill="#808080" filter="url(#grain)" opacity="0.4"/>
<path d="M207.9 282.2 H231.9 L207.9 300.2 Z" fill="#c0c0c0" opacity="0.3"/><circle cx="223.25" cy="303.91" r="0.49" fill="#3a3a3a" opacity="0.59"/><circle cx="248.95" cy="310.2" r="0.36" fill="#3a3a3a" opacity="0.84"/><circle cx="226.84" cy="329.4" r="0.4" fill="#3a3a3a" opacity="0.73"/><circle cx="238.88" cy="296.5" r="0.33" fill="#3a3a3a" opacity="0.74"/><circle cx="215.28" cy="338.68" r="0.29" fill="#3a3a3a" opacity="0.57"/><circle cx="259.14" cy="296.75" r="0.42" fill="#3a3a3a" opacity="0.72"/><circle cx="242.63" cy="308.68" r="0.56" fill="#3a3a3a" opacity="0.68"/><circle cx="245.35" cy="318.91" r="0.31" fill="#3a3a3a" opacity="0.82"/><circle cx="213.27" cy="339.55" r="0.32" fill="#3a3a3a" opacity="0.52"/><circle cx="239.99" cy="323.4" r="0.41" fill="#3a3a3a" opacity="0.82"/><circle cx="216.5" cy="338.01" r="0.46" fill="#3a3a3a" opacity="0.46"/><circle cx="250.19" cy="315.99" r="0.4" fill="#3a3a3a" opacity="0.66"/><circle cx="231.17" cy="295.76" r="0.34" fill="#3a3a3a" opacity="0.46"/><circle cx="229.4" cy="328.53" r="0.32" fill="#3a3a3a" opacity="0.88"/><circle cx="223.77" cy="321.38" r="0.35" fill="#3a3a3a" opacity="0.76"/><circle cx="227.82" cy="330.16" r="0.52" fill="#3a3a3a" opacity="0.8"/><circle cx="217.39" cy="325.26" r="0.4" fill="#3a3a3a" opacity="0.62"/><circle cx="265.5" cy="303.41" r="0.44" fill="#3a3a3a" opacity="0.88"/><circle cx="236.04" cy="319.22" r="0.32" fill="#3a3a3a" opacity="0.47"/><circle cx="210.95" cy="322.03" r="0.36" fill="#3a3a3a" opacity="0.62"/><circle cx="233.4" cy="304.98" r="0.54" fill="#3a3a3a" opacity="0.53"/><circle cx="208.93" cy="334.34" r="0.59" fill="#3a3a3a" opacity="0.84"/><circle cx="257.1" cy="316.07" r="0.29" fill="#3a3a3a" opacity="0.63"/><circle cx="223.86" cy="340.5" r="0.38" fill="#3a3a3a" opacity="0.48"/><circle cx="212.02" cy="313.03" r="0.56" fill="#3a3a3a" opacity="0.82"/><circle cx="254.96" cy="307.16" r="0.51" fill="#3a3a3a" opacity="0.46"/><circle cx="240.8" cy="297.32" r="0.39" fill="#3a3a3a" opacity="0.5"/><circle cx="234.62" cy="317.15" r="0.36" fill="#3a3a3a" opacity="0.58"/><circle cx="241.89" cy="307.15" r="0.59" fill="#3a3a3a" opacity="0.69"/><circle cx="258.02" cy="306.7" r="0.6" fill="#3a3a3a" opacity="0.6"/><circle cx="233.25" cy="335.83" r="0.4" fill="#3a3a3a" opacity="0.77"/><circle cx="222.7" cy="302.08" r="0.3" fill="#3a3a3a" opacity="0.54"/><circle cx="256.62" cy="319.1" r="0.49" fill="#3a3a3a" opacity="0.8"/><circle cx="233.34" cy="306.62" r="0.3" fill="#3a3a3a" opacity="0.77"/><circle cx="250.98" cy="311.17" r="0.5" fill="#3a3a3a" opacity="0.62"/><circle cx="244.05" cy="320.29" r="0.39" fill="#3a3a3a" opacity="0.69"/><circle cx="224.4" cy="332.45" r="0.45" fill="#3a3a3a" opacity="0.52"/><circle cx="239.16" cy="309.14" r="0.4" fill="#3a3a3a" opacity="0.88"/><circle cx="218.37" cy="310.43" r="0.35" fill="#3a3a3a" opacity="0.8"/><circle cx="267.72" cy="306.01" r="0.55" fill="#3a3a3a" opacity="0.72"/><circle cx="257.3" cy="295.74" r="0.34" fill="#3a3a3a" opacity="0.56"/><circle cx="259.69" cy="287.27" r="0.59" fill="#3a3a3a" opacity="0.5"/><circle cx="218.21" cy="323.86" r="0.44" fill="#3a3a3a" opacity="0.78"/><circle cx="267.23" cy="306.68" r="0.52" fill="#3a3a3a" opacity="0.48"/><circle cx="240.44" cy="337.78" r="0.4" fill="#3a3a3a" opacity="0.69"/><circle cx="260.22" cy="314.6" r="0.31" fill="#3a3a3a" opacity="0.66"/><circle cx="236.15" cy="333.41" r="0.44" fill="#3a3a3a" opacity="0.74"/><circle cx="261.18" cy="288.81" r="0.55" fill="#3a3a3a" opacity="0.52"/><circle cx="236.93" cy="290.62" r="0.48" fill="#3a3a3a" opacity="0.47"/><circle cx="234.98" cy="291.08" r="0.34" fill="#3a3a3a" opacity="0.69"/><circle cx="229.1" cy="308.09" r="0.57" fill="#3a3a3a" opacity="0.64"/><circle cx="218.6" cy="308.1" r="0.54" fill="#3a3a3a" opacity="0.7"/><circle cx="265.04" cy="296.42" r="0.33" fill="#3a3a3a" opacity="0.87"/><circle cx="240.4" cy="323.31" r="0.37" fill="#3a3a3a" opacity="0.53"/><circle cx="220.72" cy="332.35" r="0.32" fill="#3a3a3a" opacity="0.55"/><circle cx="219.71" cy="336.35" r="0.36" fill="#3a3a3a" opacity="0.6"/><circle cx="216" cy="313.27" r="0.54" fill="#3a3a3a" opacity="0.82"/><circle cx="237.17" cy="300.22" r="0.52" fill="#3a3a3a" opacity="0.67"/><circle cx="216.96" cy="324.02" r="0.59" fill="#3a3a3a" opacity="0.87"/><circle cx="264.05" cy="306.57" r="0.47" fill="#3a3a3a" opacity="0.75"/><circle cx="263.23" cy="297.23" r="0.59" fill="#3a3a3a" opacity="0.6"/><circle cx="233.35" cy="318.53" r="0.45" fill="#3a3a3a" opacity="0.83"/><circle cx="212.06" cy="318.21" r="0.33" fill="#3a3a3a" opacity="0.53"/><circle cx="264.14" cy="296.54" r="0.46" fill="#3a3a3a" opacity="0.83"/><circle cx="212.54" cy="316.68" r="0.44" fill="#3a3a3a" opacity="0.71"/><circle cx="253.9" cy="315.95" r="0.58" fill="#3a3a3a" opacity="0.87"/><circle cx="250.75" cy="312.55" r="0.39" fill="#3a3a3a" opacity="0.62"/><circle cx="241.94" cy="307.45" r="0.29" fill="#3a3a3a" opacity="0.78"/><circle cx="256.82" cy="304.11" r="0.58" fill="#3a3a3a" opacity="0.47"/><circle cx="232.65" cy="305.36" r="0.47" fill="#3a3a3a" opacity="0.84"/><circle cx="218.52" cy="310.27" r="0.55" fill="#3a3a3a" opacity="0.6"/><circle cx="211.74" cy="331.9" r="0.58" fill="#3a3a3a" opacity="0.46"/><circle cx="251.49" cy="324.41" r="0.35" fill="#3a3a3a" opacity="0.63"/><circle cx="260.72" cy="287.45" r="0.39" fill="#3a3a3a" opacity="0.72"/><circle cx="233.04" cy="332.48" r="0.45" fill="#3a3a3a" opacity="0.46"/><circle cx="265.72" cy="295.76" r="0.54" fill="#3a3a3a" opacity="0.51"/><circle cx="225.95" cy="304.22" r="0.29" fill="#3a3a3a" opacity="0.78"/><circle cx="257.77" cy="291.56" r="0.37" fill="#3a3a3a" opacity="0.88"/><circle cx="236.38" cy="304.09" r="0.56" fill="#3a3a3a" opacity="0.75"/><circle cx="255.04" cy="321.19" r="0.35" fill="#3a3a3a" opacity="0.89"/><circle cx="217.53" cy="313.94" r="0.5" fill="#3a3a3a" opacity="0.6"/><path d="M263.28 284.23 l1.08 -1.35" stroke="#333" stroke-width="0.72" opacity="0.8" stroke-linecap="round"/><path d="M209.63 321.76 l1.22 -1.53" stroke="#333" stroke-width="0.82" opacity="0.8" stroke-linecap="round"/><path d="M217.66 336.07 l1.32 -1.66" stroke="#333" stroke-width="0.65" opacity="0.8" stroke-linecap="round"/><path d="M230.81 308.23 l0.68 -0.85" stroke="#333" stroke-width="0.9" opacity="0.8" stroke-linecap="round"/><path d="M261.67 300.51 l1.66 -2.09" stroke="#333" stroke-width="0.62" opacity="0.8" stroke-linecap="round"/><path d="M260.23 286.15 l1.36 -1.71" stroke="#333" stroke-width="0.86" opacity="0.8" stroke-linecap="round"/><path d="M267.63 303.58 l0.89 -1.12" stroke="#333" stroke-width="0.68" opacity="0.8" stroke-linecap="round"/><path d="M261.16 299.22 l1.03 -1.29" stroke="#333" stroke-width="0.55" opacity="0.8" stroke-linecap="round"/><path d="M227.89 324.33 l1.68 -2.12" stroke="#333" stroke-width="0.59" opacity="0.8" stroke-linecap="round"/><path d="M249.16 299.36 l1.41 -1.78" stroke="#333" stroke-width="0.54" opacity="0.8" stroke-linecap="round"/><path d="M234.84 320.11 l1.75 -2.2" stroke="#333" stroke-width="0.61" opacity="0.8" stroke-linecap="round"/><path d="M227.01 313.23 l0.71 -0.89" stroke="#333" stroke-width="0.61" opacity="0.8" stroke-linecap="round"/><path d="M244.94 334.82 l1.52 -1.92" stroke="#333" stroke-width="0.74" opacity="0.8" stroke-linecap="round"/><path d="M264.3 306.02 l1.04 -1.31" stroke="#333" stroke-width="0.66" opacity="0.8" stroke-linecap="round"/><path d="M226.66 302.64 l1.15 -1.45" stroke="#333" stroke-width="0.54" opacity="0.8" stroke-linecap="round"/><path d="M232.76 308.12 l1.72 -2.16" stroke="#333" stroke-width="0.68" opacity="0.8" stroke-linecap="round"/><path d="M263.54 286.31 l1.33 -1.67" stroke="#333" stroke-width="0.62" opacity="0.8" stroke-linecap="round"/><path d="M233.68 328.89 l0.87 -1.1" stroke="#333" stroke-width="0.61" opacity="0.8" stroke-linecap="round"/><path d="M257.53 305.49 l0.78 -0.99" stroke="#333" stroke-width="0.66" opacity="0.8" stroke-linecap="round"/><path d="M242.55 310 l1.7 -2.13" stroke="#333" stroke-width="0.61" opacity="0.8" stroke-linecap="round"/><path d="M266.07 311.25 l0.79 -1" stroke="#333" stroke-width="0.88" opacity="0.8" stroke-linecap="round"/><path d="M209.21 330.33 l1.66 -2.08" stroke="#333" stroke-width="0.55" opacity="0.8" stroke-linecap="round"/><path d="M256.89 318.1 l1.28 -1.61" stroke="#333" stroke-width="0.78" opacity="0.8" stroke-linecap="round"/><path d="M249.85 312.35 l1.28 -1.61" stroke="#333" stroke-width="0.57" opacity="0.8" stroke-linecap="round"/><path d="M237.56 300.98 l1.15 -1.45" stroke="#333" stroke-width="0.64" opacity="0.8" stroke-linecap="round"/><path d="M215.83 337.74 l0.86 -1.08" stroke="#333" stroke-width="0.61" opacity="0.8" stroke-linecap="round"/><path d="M238.54 298.44 l0.82 -1.03" stroke="#333" stroke-width="0.64" opacity="0.8" stroke-linecap="round"/><path d="M239.76 338.23 l0.6 -0.75" stroke="#333" stroke-width="0.58" opacity="0.8" stroke-linecap="round"/><circle cx="220.4" cy="322.7" r="1.0" fill="#1e1e1e" opacity="0.85"/><circle cx="223.4" cy="323.4" r="0.8" fill="#1e1e1e" opacity="0.85"/><circle cx="236.9" cy="315.2" r="0.8" fill="#1e1e1e" opacity="0.85"/><circle cx="237.4" cy="299.2" r="0.8" fill="#1e1e1e" opacity="0.85"/><circle cx="229.9" cy="292.2" r="0.7" fill="#1e1e1e" opacity="0.85"/><circle cx="208.9" cy="320.7" r="0.9" fill="#1e1e1e" opacity="0.85"/><circle cx="247.9" cy="308.2" r="0.7" fill="#1e1e1e" opacity="0.85"/><circle cx="255.9" cy="326.2" r="0.8" fill="#1e1e1e" opacity="0.85"/><circle cx="217.9" cy="334.2" r="0.7" fill="#1e1e1e" opacity="0.85"/><path d="M267.9 322.2 L267.9 342.2 L256.9 342.2 Q263.9 335.2 267.9 322.2 Z" fill="#6c6c6c" opacity="0.75"/><ellipse cx="208.9" cy="303.7" rx="1.7" ry="2.3" fill="#1c1c1c"/><ellipse cx="241.9" cy="284.7" rx="12" ry="2.6" fill="#8e8e8e" opacity="0.3"/>
<rect x="253.9" y="333.2" width="12" height="3" fill="#e8e8e8" opacity="0.3"/>
<text x="259.9" y="335.8" font-size="3.4" text-anchor="middle" style="fill:#000" font-weight="bold">100 nm</text>
<rect x="257.2" y="336.8" width="5.9" height="1" fill="#ee1c1c" />
<rect x="232.9" y="341.2" width="8" height="0.9" fill="#e03838" opacity="0.85"/>
</g>
</g>
<g id="pb">
<g fill="none" stroke="#111" stroke-width="1.5">
<path d="M285.7 0.6 H567" stroke-dasharray="4.2 2.2"/>
<path d="M567 0.6 H684.2" stroke-dasharray="2.5 1.85"/>
<path d="M684.2 1 V352.2" stroke-dasharray="2.5 1.85"/>
<path d="M285.7 1 V182" stroke-dasharray="2.5 1.85"/>
<path d="M285.7 182 V352.2" stroke-dasharray="3.6 2.8"/>
<path d="M285.7 352.2 H684.2" stroke-dasharray="4 2.3"/>
</g>
<text x="294.6" y="13.4" font-size="9.6">b</text>
<text x="488.7" y="18.4" font-size="10.2" text-anchor="middle">Spectroscopic assesment</text>
<line x1="304.9" y1="24.85" x2="672" y2="24.85" stroke="#222" stroke-width="1.2" />
<g id="b1">
<text x="293.2" y="38.7" font-size="9.6">b1</text>
<text x="329.8" y="45.9" font-size="10.2">x10<tspan font-size="5.92" dy="-4.08">4</tspan><tspan dy="4.08"> (arb. units)</tspan></text>
<clipPath id="cb1"><rect x="328.1" y="50.0" width="142.6" height="113.3"/></clipPath>
<g clip-path="url(#cb1)">
<path d="M327.64 136.82 L332.2 139.84 L336.76 145.14 L341.32 147.79 L345.88 148.17 L350.44 148.17 L355 148.17 L359.56 148.32 L364.12 148.54 L368.68 148.92 L373.24 149.3 L377.8 149.83 L382.36 150.44 L386.92 151.57 L391.48 152.71 L396.04 153.61 L400.6 154.37 L405.16 154.98 L409.72 155.58 L414.28 156.11 L418.84 156.49 L423.4 156.94 L427.96 157.4 L432.52 157.85 L437.08 158.23 L441.64 158.61 L446.2 158.99 L450.76 159.37 L455.32 159.82 L459.88 160.27 L464.44 160.58 L469 160.88" fill="none" stroke="#000" stroke-width="1" />
<rect x="325.74" y="134.92" width="3.8" height="3.8" fill="#000" />
<rect x="330.3" y="137.94" width="3.8" height="3.8" fill="#000" />
<rect x="334.86" y="143.24" width="3.8" height="3.8" fill="#000" />
<rect x="339.42" y="145.89" width="3.8" height="3.8" fill="#000" />
<rect x="343.98" y="146.27" width="3.8" height="3.8" fill="#000" />
<rect x="348.54" y="146.27" width="3.8" height="3.8" fill="#000" />
<rect x="353.1" y="146.27" width="3.8" height="3.8" fill="#000" />
<rect x="357.66" y="146.42" width="3.8" height="3.8" fill="#000" />
<rect x="362.22" y="146.64" width="3.8" height="3.8" fill="#000" />
<rect x="366.78" y="147.02" width="3.8" height="3.8" fill="#000" />
<rect x="371.34" y="147.4" width="3.8" height="3.8" fill="#000" />
<rect x="375.9" y="147.93" width="3.8" height="3.8" fill="#000" />
<rect x="380.46" y="148.54" width="3.8" height="3.8" fill="#000" />
<rect x="385.02" y="149.67" width="3.8" height="3.8" fill="#000" />
<rect x="389.58" y="150.81" width="3.8" height="3.8" fill="#000" />
<rect x="394.14" y="151.71" width="3.8" height="3.8" fill="#000" />
<rect x="398.7" y="152.47" width="3.8" height="3.8" fill="#000" />
<rect x="403.26" y="153.08" width="3.8" height="3.8" fill="#000" />
<rect x="407.82" y="153.68" width="3.8" height="3.8" fill="#000" />
<rect x="412.38" y="154.21" width="3.8" height="3.8" fill="#000" />
<rect x="416.94" y="154.59" width="3.8" height="3.8" fill="#000" />
<rect x="421.5" y="155.04" width="3.8" height="3.8" fill="#000" />
<rect x="426.06" y="155.5" width="3.8" height="3.8" fill="#000" />
<rect x="430.62" y="155.95" width="3.8" height="3.8" fill="#000" />
<rect x="435.18" y="156.33" width="3.8" height="3.8" fill="#000" />
<rect x="439.74" y="156.71" width="3.8" height="3.8" fill="#000" />
<rect x="444.3" y="157.09" width="3.8" height="3.8" fill="#000" />
<rect x="448.86" y="157.47" width="3.8" height="3.8" fill="#000" />
<rect x="453.42" y="157.92" width="3.8" height="3.8" fill="#000" />
<rect x="457.98" y="158.37" width="3.8" height="3.8" fill="#000" />
<rect x="462.54" y="158.68" width="3.8" height="3.8" fill="#000" />
<rect x="467.1" y="158.98" width="3.8" height="3.8" fill="#000" />

<path d="M327.64 131.22 L332.2 131.59 L336.76 132.73 L341.32 131.59 L345.88 130.08 L350.44 128.19 L355 127.05 L359.56 126.68 L364.12 127.05 L368.68 128.19 L373.24 129.7 L377.8 131.97 L382.36 134.24 L386.92 136.89 L391.48 138.93 L396.04 141.2 L400.6 143.47 L405.16 144.99 L409.72 146.5 L414.28 148.01 L418.84 148.77 L423.4 149.53 L427.96 150.13 L432.52 150.28 L437.08 150.13 L441.64 149.53 L446.2 148.77 L450.76 147.64 L455.32 146.12 L459.88 144.23 L464.44 141.96 L469 139.31" fill="none" stroke="#00d000" stroke-width="1" />
<g stroke="#00d000" stroke-width="1.05"><path d="M327.64 127.05 V135.38 M325.94 127.05 h3.4 M325.94 135.38 h3.4"/><path d="M332.2 127.43 V135.76 M330.5 127.43 h3.4 M330.5 135.76 h3.4"/><path d="M336.76 128.57 V136.89 M335.06 128.57 h3.4 M335.06 136.89 h3.4"/><path d="M341.32 127.43 V135.76 M339.62 127.43 h3.4 M339.62 135.76 h3.4"/><path d="M345.88 125.92 V134.24 M344.18 125.92 h3.4 M344.18 134.24 h3.4"/><path d="M350.44 124.03 V132.35 M348.74 124.03 h3.4 M348.74 132.35 h3.4"/><path d="M355 122.89 V131.22 M353.3 122.89 h3.4 M353.3 131.22 h3.4"/><path d="M359.56 122.51 V130.84 M357.86 122.51 h3.4 M357.86 130.84 h3.4"/><path d="M364.12 122.89 V131.22 M362.42 122.89 h3.4 M362.42 131.22 h3.4"/><path d="M368.68 124.03 V132.35 M366.98 124.03 h3.4 M366.98 132.35 h3.4"/><path d="M373.24 125.54 V133.86 M371.54 125.54 h3.4 M371.54 133.86 h3.4"/><path d="M377.8 127.81 V136.13 M376.1 127.81 h3.4 M376.1 136.13 h3.4"/><path d="M382.36 130.08 V138.4 M380.66 130.08 h3.4 M380.66 138.4 h3.4"/><path d="M386.92 132.73 V141.05 M385.22 132.73 h3.4 M385.22 141.05 h3.4"/><path d="M391.48 134.77 V143.1 M389.78 134.77 h3.4 M389.78 143.1 h3.4"/><path d="M396.04 138.56 V143.85 M394.34 138.56 h3.4 M394.34 143.85 h3.4"/><path d="M400.6 140.83 V146.12 M398.9 140.83 h3.4 M398.9 146.12 h3.4"/><path d="M405.16 142.34 V147.64 M403.46 142.34 h3.4 M403.46 147.64 h3.4"/><path d="M409.72 143.85 V149.15 M408.02 143.85 h3.4 M408.02 149.15 h3.4"/><path d="M414.28 145.37 V150.66 M412.58 145.37 h3.4 M412.58 150.66 h3.4"/><path d="M418.84 146.12 V151.42 M417.14 146.12 h3.4 M417.14 151.42 h3.4"/><path d="M423.4 146.88 V152.18 M421.7 146.88 h3.4 M421.7 152.18 h3.4"/><path d="M427.96 147.48 V152.78 M426.26 147.48 h3.4 M426.26 152.78 h3.4"/><path d="M432.52 147.64 V152.93 M430.82 147.64 h3.4 M430.82 152.93 h3.4"/><path d="M437.08 147.48 V152.78 M435.38 147.48 h3.4 M435.38 152.78 h3.4"/><path d="M441.64 146.88 V152.18 M439.94 146.88 h3.4 M439.94 152.18 h3.4"/><path d="M446.2 145.37 V152.18 M444.5 145.37 h3.4 M444.5 152.18 h3.4"/><path d="M450.76 144.23 V151.04 M449.06 144.23 h3.4 M449.06 151.04 h3.4"/><path d="M455.32 142.72 V149.53 M453.62 142.72 h3.4 M453.62 149.53 h3.4"/><path d="M459.88 140.83 V147.64 M458.18 140.83 h3.4 M458.18 147.64 h3.4"/><path d="M464.44 138.56 V145.37 M462.74 138.56 h3.4 M462.74 145.37 h3.4"/><path d="M469 135.91 V142.72 M467.3 135.91 h3.4 M467.3 142.72 h3.4"/></g>
<path d="M327.64 129.12 L325.74 132.62 L329.54 132.62 Z" fill="#00d800"/><path d="M332.2 129.49 L330.3 132.99 L334.1 132.99 Z" fill="#00d800"/><path d="M336.76 130.63 L334.86 134.13 L338.66 134.13 Z" fill="#00d800"/><path d="M341.32 129.49 L339.42 132.99 L343.22 132.99 Z" fill="#00d800"/><path d="M345.88 127.98 L343.98 131.48 L347.78 131.48 Z" fill="#00d800"/><path d="M350.44 126.09 L348.54 129.59 L352.34 129.59 Z" fill="#00d800"/><path d="M355 124.95 L353.1 128.45 L356.9 128.45 Z" fill="#00d800"/><path d="M359.56 124.58 L357.66 128.08 L361.46 128.08 Z" fill="#00d800"/><path d="M364.12 124.95 L362.22 128.45 L366.02 128.45 Z" fill="#00d800"/><path d="M368.68 126.09 L366.78 129.59 L370.58 129.59 Z" fill="#00d800"/><path d="M373.24 127.6 L371.34 131.1 L375.14 131.1 Z" fill="#00d800"/><path d="M377.8 129.87 L375.9 133.37 L379.7 133.37 Z" fill="#00d800"/><path d="M382.36 132.14 L380.46 135.64 L384.26 135.64 Z" fill="#00d800"/><path d="M386.92 134.79 L385.02 138.29 L388.82 138.29 Z" fill="#00d800"/><path d="M391.48 136.83 L389.58 140.33 L393.38 140.33 Z" fill="#00d800"/><path d="M396.04 139.1 L394.14 142.6 L397.94 142.6 Z" fill="#00d800"/><path d="M400.6 141.37 L398.7 144.87 L402.5 144.87 Z" fill="#00d800"/><path d="M405.16 142.89 L403.26 146.39 L407.06 146.39 Z" fill="#00d800"/><path d="M409.72 144.4 L407.82 147.9 L411.62 147.9 Z" fill="#00d800"/><path d="M414.28 145.91 L412.38 149.41 L416.18 149.41 Z" fill="#00d800"/><path d="M418.84 146.67 L416.94 150.17 L420.74 150.17 Z" fill="#00d800"/><path d="M423.4 147.43 L421.5 150.93 L425.3 150.93 Z" fill="#00d800"/><path d="M427.96 148.03 L426.06 151.53 L429.86 151.53 Z" fill="#00d800"/><path d="M432.52 148.18 L430.62 151.68 L434.42 151.68 Z" fill="#00d800"/><path d="M437.08 148.03 L435.18 151.53 L438.98 151.53 Z" fill="#00d800"/><path d="M441.64 147.43 L439.74 150.93 L443.54 150.93 Z" fill="#00d800"/><path d="M446.2 146.67 L444.3 150.17 L448.1 150.17 Z" fill="#00d800"/><path d="M450.76 145.54 L448.86 149.04 L452.66 149.04 Z" fill="#00d800"/><path d="M455.32 144.02 L453.42 147.52 L457.22 147.52 Z" fill="#00d800"/><path d="M459.88 142.13 L457.98 145.63 L461.78 145.63 Z" fill="#00d800"/><path d="M464.44 139.86 L462.54 143.36 L466.34 143.36 Z" fill="#00d800"/><path d="M469 137.21 L467.1 140.71 L470.9 140.71 Z" fill="#00d800"/>
<path d="M327.64 130.76 L332.2 131.14 L336.76 132.28 L341.32 131.14 L345.88 129.63 L350.44 127.74 L355 126.6 L359.56 126.22 L364.12 126.6 L368.68 127.74 L373.24 129.25 L377.8 131.52 L382.36 133.79 L386.92 136.44 L391.48 139.09 L396.04 141.36 L400.6 143.63 L405.16 145.14 L409.72 146.65 L414.28 148.17 L418.84 148.92 L423.4 149.68 L427.96 150.28 L432.52 150.44 L437.08 150.28 L441.64 149.68 L446.2 148.92 L450.76 147.79 L455.32 146.27 L459.88 144.38 L464.44 142.11 L469 139.46" fill="none" stroke="#0a0af4" stroke-width="1" />
<g stroke="#0a0af4" stroke-width="1.05"><path d="M327.64 126.07 V135.45 M325.94 126.07 h3.4 M325.94 135.45 h3.4"/><path d="M332.2 126.45 V135.83 M330.5 126.45 h3.4 M330.5 135.83 h3.4"/><path d="M336.76 127.58 V136.97 M335.06 127.58 h3.4 M335.06 136.97 h3.4"/><path d="M341.32 126.45 V135.83 M339.62 126.45 h3.4 M339.62 135.83 h3.4"/><path d="M345.88 124.94 V134.32 M344.18 124.94 h3.4 M344.18 134.32 h3.4"/><path d="M350.44 123.04 V132.43 M348.74 123.04 h3.4 M348.74 132.43 h3.4"/><path d="M355 121.91 V131.29 M353.3 121.91 h3.4 M353.3 131.29 h3.4"/><path d="M359.56 121.53 V130.91 M357.86 121.53 h3.4 M357.86 130.91 h3.4"/><path d="M364.12 121.91 V131.29 M362.42 121.91 h3.4 M362.42 131.29 h3.4"/><path d="M368.68 123.04 V132.43 M366.98 123.04 h3.4 M366.98 132.43 h3.4"/><path d="M373.24 124.56 V133.94 M371.54 124.56 h3.4 M371.54 133.94 h3.4"/><path d="M377.8 126.83 V136.21 M376.1 126.83 h3.4 M376.1 136.21 h3.4"/><path d="M382.36 129.1 V138.48 M380.66 129.1 h3.4 M380.66 138.48 h3.4"/><path d="M386.92 131.75 V141.13 M385.22 131.75 h3.4 M385.22 141.13 h3.4"/><path d="M391.48 134.39 V143.78 M389.78 134.39 h3.4 M389.78 143.78 h3.4"/><path d="M396.04 138.33 V144.38 M394.34 138.33 h3.4 M394.34 144.38 h3.4"/><path d="M400.6 140.6 V146.65 M398.9 140.6 h3.4 M398.9 146.65 h3.4"/><path d="M405.16 142.11 V148.17 M403.46 142.11 h3.4 M403.46 148.17 h3.4"/><path d="M409.72 143.63 V149.68 M408.02 143.63 h3.4 M408.02 149.68 h3.4"/><path d="M414.28 145.14 V151.19 M412.58 145.14 h3.4 M412.58 151.19 h3.4"/><path d="M418.84 145.9 V151.95 M417.14 145.9 h3.4 M417.14 151.95 h3.4"/><path d="M423.4 146.65 V152.71 M421.7 146.65 h3.4 M421.7 152.71 h3.4"/><path d="M427.96 147.26 V153.31 M426.26 147.26 h3.4 M426.26 153.31 h3.4"/><path d="M432.52 147.41 V153.46 M430.82 147.41 h3.4 M430.82 153.46 h3.4"/><path d="M437.08 147.26 V153.31 M435.38 147.26 h3.4 M435.38 153.31 h3.4"/><path d="M441.64 146.65 V152.71 M439.94 146.65 h3.4 M439.94 152.71 h3.4"/><path d="M446.2 145.14 V152.71 M444.5 145.14 h3.4 M444.5 152.71 h3.4"/><path d="M450.76 144 V151.57 M449.06 144 h3.4 M449.06 151.57 h3.4"/><path d="M455.32 142.49 V150.06 M453.62 142.49 h3.4 M453.62 150.06 h3.4"/><path d="M459.88 140.6 V148.17 M458.18 140.6 h3.4 M458.18 148.17 h3.4"/><path d="M464.44 138.33 V145.9 M462.74 138.33 h3.4 M462.74 145.9 h3.4"/><path d="M469 135.68 V143.25 M467.3 135.68 h3.4 M467.3 143.25 h3.4"/></g>
<path d="M327.64 132.86 L325.74 129.36 L329.54 129.36 Z" fill="#0a0af4"/><path d="M332.2 133.24 L330.3 129.74 L334.1 129.74 Z" fill="#0a0af4"/><path d="M336.76 134.38 L334.86 130.88 L338.66 130.88 Z" fill="#0a0af4"/><path d="M341.32 133.24 L339.42 129.74 L343.22 129.74 Z" fill="#0a0af4"/><path d="M345.88 131.73 L343.98 128.23 L347.78 128.23 Z" fill="#0a0af4"/><path d="M350.44 129.84 L348.54 126.34 L352.34 126.34 Z" fill="#0a0af4"/><path d="M355 128.7 L353.1 125.2 L356.9 125.2 Z" fill="#0a0af4"/><path d="M359.56 128.32 L357.66 124.82 L361.46 124.82 Z" fill="#0a0af4"/><path d="M364.12 128.7 L362.22 125.2 L366.02 125.2 Z" fill="#0a0af4"/><path d="M368.68 129.84 L366.78 126.34 L370.58 126.34 Z" fill="#0a0af4"/><path d="M373.24 131.35 L371.34 127.85 L375.14 127.85 Z" fill="#0a0af4"/><path d="M377.8 133.62 L375.9 130.12 L379.7 130.12 Z" fill="#0a0af4"/><path d="M382.36 135.89 L380.46 132.39 L384.26 132.39 Z" fill="#0a0af4"/><path d="M386.92 138.54 L385.02 135.04 L388.82 135.04 Z" fill="#0a0af4"/><path d="M391.48 141.19 L389.58 137.69 L393.38 137.69 Z" fill="#0a0af4"/><path d="M396.04 143.46 L394.14 139.96 L397.94 139.96 Z" fill="#0a0af4"/><path d="M400.6 145.73 L398.7 142.23 L402.5 142.23 Z" fill="#0a0af4"/><path d="M405.16 147.24 L403.26 143.74 L407.06 143.74 Z" fill="#0a0af4"/><path d="M409.72 148.75 L407.82 145.25 L411.62 145.25 Z" fill="#0a0af4"/><path d="M414.28 150.27 L412.38 146.77 L416.18 146.77 Z" fill="#0a0af4"/><path d="M418.84 151.02 L416.94 147.52 L420.74 147.52 Z" fill="#0a0af4"/><path d="M423.4 151.78 L421.5 148.28 L425.3 148.28 Z" fill="#0a0af4"/><path d="M427.96 152.38 L426.06 148.88 L429.86 148.88 Z" fill="#0a0af4"/><path d="M432.52 152.54 L430.62 149.04 L434.42 149.04 Z" fill="#0a0af4"/><path d="M437.08 152.38 L435.18 148.88 L438.98 148.88 Z" fill="#0a0af4"/><path d="M441.64 151.78 L439.74 148.28 L443.54 148.28 Z" fill="#0a0af4"/><path d="M446.2 151.02 L444.3 147.52 L448.1 147.52 Z" fill="#0a0af4"/><path d="M450.76 149.89 L448.86 146.39 L452.66 146.39 Z" fill="#0a0af4"/><path d="M455.32 148.37 L453.42 144.87 L457.22 144.87 Z" fill="#0a0af4"/><path d="M459.88 146.48 L457.98 142.98 L461.78 142.98 Z" fill="#0a0af4"/><path d="M464.44 144.21 L462.54 140.71 L466.34 140.71 Z" fill="#0a0af4"/><path d="M469 141.56 L467.1 138.06 L470.9 138.06 Z" fill="#0a0af4"/>
<path d="M327.64 86.12 L332.2 84.22 L336.76 82.33 L341.32 80.44 L345.88 79.68 L350.44 79.68 L355 80.82 L359.56 84.6 L364.12 89.9 L368.68 95.95 L373.24 102.76 L377.8 108.82 L382.36 114.87 L386.92 120.92 L391.48 126.22 L396.04 130.76 L400.6 134.55 L405.16 137.95 L409.72 140.98 L414.28 143.63 L418.84 145.52 L423.4 147.41 L427.96 148.54 L432.52 149.3 L437.08 149.68 L441.64 149.68 L446.2 149.68 L450.76 150.06 L455.32 150.06 L459.88 149.68 L464.44 149.3 L469 148.92" fill="none" stroke="#f80c0c" stroke-width="1" />
<g stroke="#f80c0c" stroke-width="1.05"><path d="M327.64 82.33 V89.9 M325.74 82.33 h3.8 M325.74 89.9 h3.8"/><path d="M332.2 80.44 V88.01 M330.3 80.44 h3.8 M330.3 88.01 h3.8"/><path d="M336.76 78.55 V86.12 M334.86 78.55 h3.8 M334.86 86.12 h3.8"/><path d="M341.32 76.66 V84.22 M339.42 76.66 h3.8 M339.42 84.22 h3.8"/><path d="M345.88 75.9 V83.47 M343.98 75.9 h3.8 M343.98 83.47 h3.8"/><path d="M350.44 75.9 V83.47 M348.54 75.9 h3.8 M348.54 83.47 h3.8"/><path d="M355 77.04 V84.6 M353.1 77.04 h3.8 M353.1 84.6 h3.8"/><path d="M359.56 80.82 V88.39 M357.66 80.82 h3.8 M357.66 88.39 h3.8"/><path d="M364.12 88.39 V91.41 M362.22 88.39 h3.8 M362.22 91.41 h3.8"/><path d="M368.68 94.44 V97.47 M366.78 94.44 h3.8 M366.78 97.47 h3.8"/><path d="M373.24 101.25 V104.28 M371.34 101.25 h3.8 M371.34 104.28 h3.8"/><path d="M377.8 107.3 V110.33 M375.9 107.3 h3.8 M375.9 110.33 h3.8"/><path d="M382.36 113.36 V116.38 M380.46 113.36 h3.8 M380.46 116.38 h3.8"/><path d="M386.92 119.41 V122.44 M385.02 119.41 h3.8 M385.02 122.44 h3.8"/><path d="M391.48 124.71 V127.74 M389.58 124.71 h3.8 M389.58 127.74 h3.8"/><path d="M396.04 129.25 V132.28 M394.14 129.25 h3.8 M394.14 132.28 h3.8"/><path d="M400.6 133.03 V136.06 M398.7 133.03 h3.8 M398.7 136.06 h3.8"/><path d="M405.16 136.44 V139.46 M403.26 136.44 h3.8 M403.26 139.46 h3.8"/><path d="M409.72 139.46 V142.49 M407.82 139.46 h3.8 M407.82 142.49 h3.8"/><path d="M414.28 142.11 V145.14 M412.38 142.11 h3.8 M412.38 145.14 h3.8"/><path d="M418.84 144 V147.03 M416.94 144 h3.8 M416.94 147.03 h3.8"/><path d="M423.4 145.9 V148.92 M421.5 145.9 h3.8 M421.5 148.92 h3.8"/><path d="M427.96 147.03 V150.06 M426.06 147.03 h3.8 M426.06 150.06 h3.8"/><path d="M432.52 147.79 V150.81 M430.62 147.79 h3.8 M430.62 150.81 h3.8"/><path d="M437.08 148.17 V151.19 M435.18 148.17 h3.8 M435.18 151.19 h3.8"/><path d="M441.64 148.17 V151.19 M439.74 148.17 h3.8 M439.74 151.19 h3.8"/><path d="M446.2 145.9 V153.46 M444.3 145.9 h3.8 M444.3 153.46 h3.8"/><path d="M450.76 146.27 V153.84 M448.86 146.27 h3.8 M448.86 153.84 h3.8"/><path d="M455.32 146.27 V153.84 M453.42 146.27 h3.8 M453.42 153.84 h3.8"/><path d="M459.88 145.9 V153.46 M457.98 145.9 h3.8 M457.98 153.46 h3.8"/><path d="M464.44 145.52 V153.08 M462.54 145.52 h3.8 M462.54 153.08 h3.8"/><path d="M469 145.14 V152.71 M467.1 145.14 h3.8 M467.1 152.71 h3.8"/></g>
<circle cx="327.64" cy="86.12" r="1.95" fill="#f80c0c" />
<circle cx="332.2" cy="84.22" r="1.95" fill="#f80c0c" />
<circle cx="336.76" cy="82.33" r="1.95" fill="#f80c0c" />
<circle cx="341.32" cy="80.44" r="1.95" fill="#f80c0c" />
<circle cx="345.88" cy="79.68" r="1.95" fill="#f80c0c" />
<circle cx="350.44" cy="79.68" r="1.95" fill="#f80c0c" />
<circle cx="355" cy="80.82" r="1.95" fill="#f80c0c" />
<circle cx="359.56" cy="84.6" r="1.95" fill="#f80c0c" />
<circle cx="364.12" cy="89.9" r="1.95" fill="#f80c0c" />
<circle cx="368.68" cy="95.95" r="1.95" fill="#f80c0c" />
<circle cx="373.24" cy="102.76" r="1.95" fill="#f80c0c" />
<circle cx="377.8" cy="108.82" r="1.95" fill="#f80c0c" />
<circle cx="382.36" cy="114.87" r="1.95" fill="#f80c0c" />
<circle cx="386.92" cy="120.92" r="1.95" fill="#f80c0c" />
<circle cx="391.48" cy="126.22" r="1.95" fill="#f80c0c" />
<circle cx="396.04" cy="130.76" r="1.95" fill="#f80c0c" />
<circle cx="400.6" cy="134.55" r="1.95" fill="#f80c0c" />
<circle cx="405.16" cy="137.95" r="1.95" fill="#f80c0c" />
<circle cx="409.72" cy="140.98" r="1.95" fill="#f80c0c" />
<circle cx="414.28" cy="143.63" r="1.95" fill="#f80c0c" />
<circle cx="418.84" cy="145.52" r="1.95" fill="#f80c0c" />
<circle cx="423.4" cy="147.41" r="1.95" fill="#f80c0c" />
<circle cx="427.96" cy="148.54" r="1.95" fill="#f80c0c" />
<circle cx="432.52" cy="149.3" r="1.95" fill="#f80c0c" />
<circle cx="437.08" cy="149.68" r="1.95" fill="#f80c0c" />
<circle cx="441.64" cy="149.68" r="1.95" fill="#f80c0c" />
<circle cx="446.2" cy="149.68" r="1.95" fill="#f80c0c" />
<circle cx="450.76" cy="150.06" r="1.95" fill="#f80c0c" />
<circle cx="455.32" cy="150.06" r="1.95" fill="#f80c0c" />
<circle cx="459.88" cy="149.68" r="1.95" fill="#f80c0c" />
<circle cx="464.44" cy="149.3" r="1.95" fill="#f80c0c" />
<circle cx="469" cy="148.92" r="1.95" fill="#f80c0c" />
</g>
<rect x="328.1" y="50" width="141.1" height="113.3" fill="none" stroke="#000" stroke-width="1.6" />
<line x1="325.4" y1="163.3" x2="327.5" y2="163.3" stroke="#000" stroke-width="1.8" />
<text x="323.6" y="168.65" font-size="10" text-anchor="end">0</text>
<line x1="325.4" y1="140.6" x2="327.5" y2="140.6" stroke="#000" stroke-width="1.8" />
<text x="323.6" y="145.4" font-size="10" text-anchor="end">3</text>
<line x1="325.4" y1="117.9" x2="327.5" y2="117.9" stroke="#000" stroke-width="1.8" />
<text x="323.6" y="122.35" font-size="10" text-anchor="end">6</text>
<line x1="325.4" y1="95.2" x2="327.5" y2="95.2" stroke="#000" stroke-width="1.8" />
<text x="323.6" y="99.25" font-size="10" text-anchor="end">9</text>
<line x1="325.4" y1="72.5" x2="327.5" y2="72.5" stroke="#000" stroke-width="1.8" />
<text x="323.6" y="76.15" font-size="10" text-anchor="end">12</text>
<line x1="325.4" y1="49.8" x2="327.5" y2="49.8" stroke="#000" stroke-width="1.8" />
<text x="323.6" y="53.3" font-size="10" text-anchor="end">15</text>
<line x1="326.5" y1="151.95" x2="327.5" y2="151.95" stroke="#000" stroke-width="1.5" />
<line x1="326.5" y1="129.25" x2="327.5" y2="129.25" stroke="#000" stroke-width="1.5" />
<line x1="326.5" y1="106.55" x2="327.5" y2="106.55" stroke="#000" stroke-width="1.5" />
<line x1="326.5" y1="83.85" x2="327.5" y2="83.85" stroke="#000" stroke-width="1.5" />
<line x1="326.5" y1="61.15" x2="327.5" y2="61.15" stroke="#000" stroke-width="1.5" />
<line x1="332.2" y1="163.9" x2="332.2" y2="166.2" stroke="#000" stroke-width="1.8" />
<text x="330.4" y="177" font-size="10.4" text-anchor="middle">475</text>
<line x1="355" y1="163.9" x2="355" y2="166.2" stroke="#000" stroke-width="1.8" />
<text x="353.2" y="177" font-size="10.4" text-anchor="middle">500</text>
<line x1="377.8" y1="163.9" x2="377.8" y2="166.2" stroke="#000" stroke-width="1.8" />
<text x="376" y="177" font-size="10.4" text-anchor="middle">525</text>
<line x1="400.6" y1="163.9" x2="400.6" y2="166.2" stroke="#000" stroke-width="1.8" />
<text x="398.8" y="177" font-size="10.4" text-anchor="middle">550</text>
<line x1="423.4" y1="163.9" x2="423.4" y2="166.2" stroke="#000" stroke-width="1.8" />
<text x="421.6" y="177" font-size="10.4" text-anchor="middle">575</text>
<line x1="446.2" y1="163.9" x2="446.2" y2="166.2" stroke="#000" stroke-width="1.8" />
<text x="444.4" y="177" font-size="10.4" text-anchor="middle">600</text>
<line x1="469" y1="163.9" x2="469" y2="166.2" stroke="#000" stroke-width="1.8" />
<text x="467.2" y="177" font-size="10.4" text-anchor="middle">625</text>
<line x1="343.6" y1="163.9" x2="343.6" y2="165" stroke="#000" stroke-width="1.5" />
<line x1="366.4" y1="163.9" x2="366.4" y2="165" stroke="#000" stroke-width="1.5" />
<line x1="389.2" y1="163.9" x2="389.2" y2="165" stroke="#000" stroke-width="1.5" />
<line x1="412" y1="163.9" x2="412" y2="165" stroke="#000" stroke-width="1.5" />
<line x1="434.8" y1="163.9" x2="434.8" y2="165" stroke="#000" stroke-width="1.5" />
<line x1="457.6" y1="163.9" x2="457.6" y2="165" stroke="#000" stroke-width="1.5" />
<text x="399" y="188.6" font-size="10.2" text-anchor="middle">Wavelength (nm)</text>
<text x="311.2" y="109.5" font-size="10.2" text-anchor="middle" transform="rotate(-90 311.2 109.5)">ThT FI Int. (&#955;<tspan font-size="6" dy="1.8">ex</tspan><tspan dy="-1.8"> = 445 nm)</tspan></text>
<line x1="376.5" y1="58.5" x2="390.2" y2="58.5" stroke="#000" stroke-width="1" />
<rect x="381.7" y="56.9" width="3.2" height="3.2" fill="#000" />
<text x="393" y="61.1" font-size="7.3">PBS alone; (i)</text>
<line x1="376.5" y1="69.7" x2="390.2" y2="69.7" stroke="#f80c0c" stroke-width="1" />
<circle cx="383.3" cy="69.7" r="1.75" fill="#f80c0c" />
<text x="394.5" y="72.3" font-size="7.3">A&#946;<tspan font-size="3.8" dy="1.6">1-40</tspan><tspan dy="-1.6"> alone; (ii)</tspan></text>
<line x1="376.5" y1="81.3" x2="390.2" y2="81.3" stroke="#00d000" stroke-width="1" />
<path d="M383.3 79.2 l-1.9 3.5 h3.8 Z" fill="#00d800"/><text x="393" y="83.9" font-size="7.3">I-43 + A&#946;<tspan font-size="3.8" dy="1.6">1-40</tspan><tspan dy="-1.6"> (4:1); (iii)</tspan></text>
<line x1="376.5" y1="92.7" x2="390.2" y2="92.7" stroke="#0a0af4" stroke-width="1" />
<path d="M383.3 94.8 l-1.9 -3.5 h3.8 Z" fill="#0a0af4"/><text x="394.5" y="95.3" font-size="7.3">I-43 + A&#946;<tspan font-size="3.8" dy="1.6">1-40</tspan><tspan dy="-1.6"> (2:1); (iv)</tspan></text>
</g>
<g id="b2">
<text x="505.3" y="37.7" font-size="9.6">b2</text>
<text x="536.6" y="47.5" font-size="10.2">x10<tspan font-size="5.92" dy="-4.08">4</tspan><tspan dy="4.08"> (arb. units)</tspan></text>
<rect x="547.1" y="149.45" width="17.6" height="14.35" fill="#000" stroke="#000" stroke-width="1.1" />
<path d="M555.9 149.45 V144.54 M552.1 144.54 h7.6" stroke="#000" stroke-width="0.9" fill="none"/><path d="M548.9 148.13 L551.35 150.58 L548.9 153.03 L546.45 150.58 Z" fill="#fff0b4" stroke="#000" stroke-width="1"/><path d="M551.4 148.51 L553.85 150.96 L551.4 153.41 L548.95 150.96 Z" fill="#fff0b4" stroke="#000" stroke-width="1"/><path d="M553.9 147.75 L556.35 150.2 L553.9 152.65 L551.45 150.2 Z" fill="#fff0b4" stroke="#000" stroke-width="1"/><path d="M556.4 149.11 L558.85 151.56 L556.4 154.01 L553.95 151.56 Z" fill="#fff0b4" stroke="#000" stroke-width="1"/><path d="M558.9 148.36 L561.35 150.81 L558.9 153.26 L556.45 150.81 Z" fill="#fff0b4" stroke="#000" stroke-width="1"/><path d="M561.4 146.85 L563.85 149.3 L561.4 151.75 L558.95 149.3 Z" fill="#fff0b4" stroke="#000" stroke-width="1"/><path d="M563.4 147.75 L565.85 150.2 L563.4 152.65 L560.95 150.2 Z" fill="#fff0b4" stroke="#000" stroke-width="1"/><path d="M556.4 143.6 L558.85 146.05 L556.4 148.5 L553.95 146.05 Z" fill="#fff0b4" stroke="#000" stroke-width="1"/><path d="M559.9 145.11 L562.35 147.56 L559.9 150.01 L557.45 147.56 Z" fill="#fff0b4" stroke="#000" stroke-width="1"/><path d="M555.9 137.18 L558.35 139.63 L555.9 142.08 L553.45 139.63 Z" fill="#fff0b4" stroke="#000" stroke-width="1"/>
<rect x="582.7" y="80.72" width="17.6" height="83.08" fill="#ff0000" stroke="#000" stroke-width="1.1" />
<path d="M591.5 80.72 V73.54 M587.7 73.54 h7.6" stroke="#000" stroke-width="0.9" fill="none"/><path d="M585 76 L587.45 78.45 L585 80.9 L582.55 78.45 Z" fill="#fff0b4" stroke="#000" stroke-width="1"/><path d="M588.5 71.47 L590.95 73.92 L588.5 76.37 L586.05 73.92 Z" fill="#fff0b4" stroke="#000" stroke-width="1"/><path d="M592 67.69 L594.45 70.14 L592 72.59 L589.55 70.14 Z" fill="#fff0b4" stroke="#000" stroke-width="1"/><path d="M595 71.47 L597.45 73.92 L595 76.37 L592.55 73.92 Z" fill="#fff0b4" stroke="#000" stroke-width="1"/><path d="M599 82.04 L601.45 84.49 L599 86.94 L596.55 84.49 Z" fill="#fff0b4" stroke="#000" stroke-width="1"/><path d="M589.5 82.8 L591.95 85.25 L589.5 87.7 L587.05 85.25 Z" fill="#fff0b4" stroke="#000" stroke-width="1"/><path d="M594 79.02 L596.45 81.47 L594 83.92 L591.55 81.47 Z" fill="#fff0b4" stroke="#000" stroke-width="1"/><path d="M591.5 86.58 L593.95 89.03 L591.5 91.48 L589.05 89.03 Z" fill="#fff0b4" stroke="#000" stroke-width="1"/>
<rect x="618" y="129.06" width="17.6" height="34.74" fill="#00ee00" stroke="#000" stroke-width="1.1" />
<path d="M626.8 129.06 V121.88 M623 121.88 h7.6" stroke="#000" stroke-width="0.9" fill="none"/><path d="M619.8 124.34 L622.25 126.79 L619.8 129.24 L617.35 126.79 Z" fill="#fff0b4" stroke="#000" stroke-width="1"/><path d="M622.8 122.07 L625.25 124.52 L622.8 126.97 L620.35 124.52 Z" fill="#fff0b4" stroke="#000" stroke-width="1"/><path d="M625.8 125.85 L628.25 128.3 L625.8 130.75 L623.35 128.3 Z" fill="#fff0b4" stroke="#000" stroke-width="1"/><path d="M628.8 125.1 L631.25 127.55 L628.8 130 L626.35 127.55 Z" fill="#fff0b4" stroke="#000" stroke-width="1"/><path d="M631.8 123.59 L634.25 126.04 L631.8 128.49 L629.35 126.04 Z" fill="#fff0b4" stroke="#000" stroke-width="1"/><path d="M634.3 124.34 L636.75 126.79 L634.3 129.24 L631.85 126.79 Z" fill="#fff0b4" stroke="#000" stroke-width="1"/><path d="M626.8 116.03 L629.25 118.48 L626.8 120.93 L624.35 118.48 Z" fill="#fff0b4" stroke="#000" stroke-width="1"/><path d="M627.1 135.67 L629.55 138.12 L627.1 140.57 L624.65 138.12 Z" fill="#fff0b4" stroke="#000" stroke-width="1"/><path d="M626.8 139.45 L629.25 141.9 L626.8 144.35 L624.35 141.9 Z" fill="#fff0b4" stroke="#000" stroke-width="1"/>
<rect x="652.9" y="129.81" width="17.6" height="33.99" fill="#0000f0" stroke="#000" stroke-width="1.1" />
<path d="M661.7 129.81 V120.75 M657.9 120.75 h7.6" stroke="#000" stroke-width="0.9" fill="none"/><path d="M654.7 122.83 L657.15 125.28 L654.7 127.73 L652.25 125.28 Z" fill="#fff0b4" stroke="#000" stroke-width="1"/><path d="M658.7 126.61 L661.15 129.06 L658.7 131.51 L656.25 129.06 Z" fill="#fff0b4" stroke="#000" stroke-width="1"/><path d="M662.2 113.77 L664.65 116.22 L662.2 118.67 L659.75 116.22 Z" fill="#fff0b4" stroke="#000" stroke-width="1"/><path d="M665.2 119.05 L667.65 121.5 L665.2 123.95 L662.75 121.5 Z" fill="#fff0b4" stroke="#000" stroke-width="1"/><path d="M667.2 129.63 L669.65 132.08 L667.2 134.53 L664.75 132.08 Z" fill="#fff0b4" stroke="#000" stroke-width="1"/><path d="M663.7 135.67 L666.15 138.12 L663.7 140.57 L661.25 138.12 Z" fill="#fff0b4" stroke="#000" stroke-width="1"/><path d="M662.2 137.94 L664.65 140.39 L662.2 142.84 L659.75 140.39 Z" fill="#fff0b4" stroke="#000" stroke-width="1"/><path d="M665.7 132.65 L668.15 135.1 L665.7 137.55 L663.25 135.1 Z" fill="#fff0b4" stroke="#000" stroke-width="1"/>
<rect x="538.8" y="50.5" width="140.8" height="113.3" fill="none" stroke="#000" stroke-width="1.6" />
<line x1="536.1" y1="163.8" x2="538.2" y2="163.8" stroke="#000" stroke-width="1.8" />
<text x="534.5" y="167.4" font-size="10" text-anchor="end">0</text>
<line x1="536.1" y1="126.04" x2="538.2" y2="126.04" stroke="#000" stroke-width="1.8" />
<text x="534.5" y="129.64" font-size="10" text-anchor="end">5</text>
<line x1="536.1" y1="88.27" x2="538.2" y2="88.27" stroke="#000" stroke-width="1.8" />
<text x="534.5" y="91.87" font-size="10" text-anchor="end">10</text>
<line x1="536.1" y1="50.51" x2="538.2" y2="50.51" stroke="#000" stroke-width="1.8" />
<text x="534.5" y="54.11" font-size="10" text-anchor="end">15</text>
<line x1="555.9" y1="164.4" x2="555.9" y2="166.7" stroke="#000" stroke-width="1.8" />
<line x1="591.5" y1="164.4" x2="591.5" y2="166.7" stroke="#000" stroke-width="1.8" />
<line x1="626.8" y1="164.4" x2="626.8" y2="166.7" stroke="#000" stroke-width="1.8" />
<line x1="661.7" y1="164.4" x2="661.7" y2="166.7" stroke="#000" stroke-width="1.8" />
<text x="556.2" y="177.6" font-size="10.6" text-anchor="middle">(i)</text>
<text x="591.6" y="177.6" font-size="10.6" text-anchor="middle">(ii)</text>
<text x="626.9" y="177.6" font-size="10.6" text-anchor="middle">(iii)</text>
<text x="662" y="177.6" font-size="10.6" text-anchor="middle">(iv)</text>
<text x="522.6" y="109.8" font-size="10" text-anchor="middle" transform="rotate(-90 522.6 109.8)">ThT FI Int. (&#955;<tspan font-size="5.2" dy="1.8">em</tspan><tspan dy="-1.8"> = 490 nm)</tspan></text>
<path d="M556.2 134.4 V58.9 H590.8 V63.8" fill="none" stroke="#111" stroke-width="1.5" />
<path d="M593.2 63.8 V58.9 H641.2 V105.6" fill="none" stroke="#111" stroke-width="1.5" />
<path d="M617.7 105.7 H663.9" fill="none" stroke="#111" stroke-width="1.8" />
<text x="574.3" y="61.3" font-size="10.8" text-anchor="middle">****</text>
<text x="618.3" y="61.3" font-size="10.8" text-anchor="middle">****</text>
</g>
<g id="b3">
<text x="296" y="193.1" font-size="9.6">b3</text>
<text x="326.4" y="199.6" font-size="10.2">x10<tspan font-size="5.92" dy="-4.08">4</tspan><tspan dy="4.08"> (arb. units)</tspan></text>
<clipPath id="cb3"><rect x="326.2" y="203.5" width="141.2" height="113.9"/></clipPath>
<g clip-path="url(#cb3)">
<path d="M326.3 310.76 L329.82 307.95 L333.33 289.35 L340.36 260.61 L347.4 255.54 L368.49 253.29 L389.59 242.02 L410.68 243.14 L431.78 240.61 L452.88 237.23" fill="none" stroke="#555555" stroke-width="1.6" />
<path d="M326.3 309.64 V311.89 M324.5 309.64 h3.6 M324.5 311.89 h3.6" stroke="#505050" stroke-width="1.3" fill="none"/><path d="M329.82 306.26 V309.64 M328.02 306.26 h3.6 M328.02 309.64 h3.6" stroke="#505050" stroke-width="1.3" fill="none"/><path d="M333.33 286.53 V292.17 M331.53 286.53 h3.6 M331.53 292.17 h3.6" stroke="#505050" stroke-width="1.3" fill="none"/><path d="M340.36 256.11 V265.12 M338.56 256.11 h3.6 M338.56 265.12 h3.6" stroke="#505050" stroke-width="1.3" fill="none"/><path d="M347.4 247.09 V263.99 M345.6 247.09 h3.6 M345.6 263.99 h3.6" stroke="#505050" stroke-width="1.3" fill="none"/><path d="M368.49 247.65 V258.92 M366.69 247.65 h3.6 M366.69 258.92 h3.6" stroke="#505050" stroke-width="1.3" fill="none"/><path d="M389.59 238.07 V245.96 M387.79 238.07 h3.6 M387.79 245.96 h3.6" stroke="#505050" stroke-width="1.3" fill="none"/><path d="M410.68 238.64 V247.65 M408.88 238.64 h3.6 M408.88 247.65 h3.6" stroke="#505050" stroke-width="1.3" fill="none"/><path d="M431.78 236.1 V245.12 M429.98 236.1 h3.6 M429.98 245.12 h3.6" stroke="#505050" stroke-width="1.3" fill="none"/><path d="M452.88 227.09 V247.37 M451.08 227.09 h3.6 M451.08 247.37 h3.6" stroke="#505050" stroke-width="1.3" fill="none"/><circle cx="326.3" cy="310.76" r="2.05" fill="#e8141c" stroke="#404040" stroke-width="1.9" />
<circle cx="329.82" cy="307.95" r="2.05" fill="#e8141c" stroke="#404040" stroke-width="1.9" />
<circle cx="333.33" cy="289.35" r="2.05" fill="#e8141c" stroke="#404040" stroke-width="1.9" />
<circle cx="340.36" cy="260.61" r="2.05" fill="#e8141c" stroke="#404040" stroke-width="1.9" />
<circle cx="347.4" cy="255.54" r="2.05" fill="#e8141c" stroke="#404040" stroke-width="1.9" />
<circle cx="368.49" cy="253.29" r="2.05" fill="#e8141c" stroke="#404040" stroke-width="1.9" />
<circle cx="389.59" cy="242.02" r="2.05" fill="#e8141c" stroke="#404040" stroke-width="1.9" />
<circle cx="410.68" cy="243.14" r="2.05" fill="#e8141c" stroke="#404040" stroke-width="1.9" />
<circle cx="431.78" cy="240.61" r="2.05" fill="#e8141c" stroke="#404040" stroke-width="1.9" />
<circle cx="452.88" cy="237.23" r="2.05" fill="#e8141c" stroke="#404040" stroke-width="1.9" />

<path d="M326.3 309.64 L329.82 310.76 L333.33 309.64 L340.36 309.07 L347.4 310.48 L368.49 308.79 L389.59 309.64 L410.68 308.51 L431.78 308.79 L452.88 310.2" fill="none" stroke="#ef4a52" stroke-width="1.4" />
<circle cx="326.3" cy="309.64" r="2" fill="#4a6a9a" stroke="#ef4a52" stroke-width="1.9" />
<circle cx="329.82" cy="310.76" r="2" fill="#4a6a9a" stroke="#ef4a52" stroke-width="1.9" />
<circle cx="333.33" cy="309.64" r="2" fill="#4a6a9a" stroke="#ef4a52" stroke-width="1.9" />
<circle cx="340.36" cy="309.07" r="2" fill="#4a6a9a" stroke="#ef4a52" stroke-width="1.9" />
<circle cx="347.4" cy="310.48" r="2" fill="#4a6a9a" stroke="#ef4a52" stroke-width="1.9" />
<circle cx="368.49" cy="308.79" r="2" fill="#4a6a9a" stroke="#ef4a52" stroke-width="1.9" />
<circle cx="389.59" cy="309.64" r="2" fill="#4a6a9a" stroke="#ef4a52" stroke-width="1.9" />
<circle cx="410.68" cy="308.51" r="2" fill="#4a6a9a" stroke="#ef4a52" stroke-width="1.9" />
<circle cx="431.78" cy="308.79" r="2" fill="#4a6a9a" stroke="#ef4a52" stroke-width="1.9" />
<circle cx="452.88" cy="310.2" r="2" fill="#4a6a9a" stroke="#ef4a52" stroke-width="1.9" />

<path d="M326.3 313.58 L329.82 313.02 L333.33 311.61 L340.36 307.95 L347.4 307.38 L368.49 306.82 L389.59 307.95 L410.68 307.38 L431.78 308.51 L452.88 308.51" fill="none" stroke="#2a7ae2" stroke-width="1.4" />
<circle cx="326.3" cy="313.58" r="2" fill="#2a7ae2" stroke="#2a7ae2" stroke-width="1.9" />
<circle cx="329.82" cy="313.02" r="2" fill="#2a7ae2" stroke="#2a7ae2" stroke-width="1.9" />
<circle cx="333.33" cy="311.61" r="2" fill="#2a7ae2" stroke="#2a7ae2" stroke-width="1.9" />
<circle cx="340.36" cy="307.95" r="2" fill="#2a7ae2" stroke="#2a7ae2" stroke-width="1.9" />
<circle cx="347.4" cy="307.38" r="2" fill="#2a7ae2" stroke="#2a7ae2" stroke-width="1.9" />
<circle cx="368.49" cy="306.82" r="2" fill="#2a7ae2" stroke="#2a7ae2" stroke-width="1.9" />
<circle cx="389.59" cy="307.95" r="2" fill="#2a7ae2" stroke="#2a7ae2" stroke-width="1.9" />
<circle cx="410.68" cy="307.38" r="2" fill="#2a7ae2" stroke="#2a7ae2" stroke-width="1.9" />
<circle cx="431.78" cy="308.51" r="2" fill="#2a7ae2" stroke="#2a7ae2" stroke-width="1.9" />
<circle cx="452.88" cy="308.51" r="2" fill="#2a7ae2" stroke="#2a7ae2" stroke-width="1.9" />
</g>
<rect x="326.2" y="203.5" width="141.2" height="112.9" fill="none" stroke="#000" stroke-width="1.6" />
<line x1="323.5" y1="316.4" x2="325.6" y2="316.4" stroke="#000" stroke-width="1.8" />
<text x="322.4" y="321.2" font-size="10" text-anchor="end">0.0</text>
<line x1="323.5" y1="293.86" x2="325.6" y2="293.86" stroke="#000" stroke-width="1.8" />
<text x="322.4" y="298.16" font-size="10" text-anchor="end">0.4</text>
<line x1="323.5" y1="271.32" x2="325.6" y2="271.32" stroke="#000" stroke-width="1.8" />
<text x="322.4" y="275.42" font-size="10" text-anchor="end">0.8</text>
<line x1="323.5" y1="248.78" x2="325.6" y2="248.78" stroke="#000" stroke-width="1.8" />
<text x="322.4" y="252.78" font-size="10" text-anchor="end">1.2</text>
<line x1="323.5" y1="226.24" x2="325.6" y2="226.24" stroke="#000" stroke-width="1.8" />
<text x="322.4" y="229.94" font-size="10" text-anchor="end">1.6</text>
<line x1="323.5" y1="203.7" x2="325.6" y2="203.7" stroke="#000" stroke-width="1.8" />
<text x="322.4" y="207.3" font-size="10" text-anchor="end">2.0</text>
<line x1="324.6" y1="305.13" x2="325.6" y2="305.13" stroke="#000" stroke-width="1.5" />
<line x1="324.6" y1="282.59" x2="325.6" y2="282.59" stroke="#000" stroke-width="1.5" />
<line x1="324.6" y1="260.05" x2="325.6" y2="260.05" stroke="#000" stroke-width="1.5" />
<line x1="324.6" y1="237.51" x2="325.6" y2="237.51" stroke="#000" stroke-width="1.5" />
<line x1="324.6" y1="214.97" x2="325.6" y2="214.97" stroke="#000" stroke-width="1.5" />
<line x1="326.3" y1="317" x2="326.3" y2="319.3" stroke="#000" stroke-width="1.8" />
<text x="326.3" y="330.2" font-size="10" text-anchor="middle">0</text>
<line x1="347.4" y1="317" x2="347.4" y2="319.3" stroke="#000" stroke-width="1.8" />
<text x="347.4" y="330.2" font-size="10" text-anchor="middle">12</text>
<line x1="368.49" y1="317" x2="368.49" y2="319.3" stroke="#000" stroke-width="1.8" />
<text x="368.49" y="330.2" font-size="10" text-anchor="middle">24</text>
<line x1="389.59" y1="317" x2="389.59" y2="319.3" stroke="#000" stroke-width="1.8" />
<text x="389.59" y="330.2" font-size="10" text-anchor="middle">36</text>
<line x1="410.68" y1="317" x2="410.68" y2="319.3" stroke="#000" stroke-width="1.8" />
<text x="410.68" y="330.2" font-size="10" text-anchor="middle">48</text>
<line x1="431.78" y1="317" x2="431.78" y2="319.3" stroke="#000" stroke-width="1.8" />
<text x="431.78" y="330.2" font-size="10" text-anchor="middle">60</text>
<line x1="452.88" y1="317" x2="452.88" y2="319.3" stroke="#000" stroke-width="1.8" />
<text x="452.88" y="330.2" font-size="10" text-anchor="middle">72</text>
<line x1="336.85" y1="317" x2="336.85" y2="318.1" stroke="#000" stroke-width="1.5" />
<line x1="357.94" y1="317" x2="357.94" y2="318.1" stroke="#000" stroke-width="1.5" />
<line x1="379.04" y1="317" x2="379.04" y2="318.1" stroke="#000" stroke-width="1.5" />
<line x1="400.14" y1="317" x2="400.14" y2="318.1" stroke="#000" stroke-width="1.5" />
<line x1="421.23" y1="317" x2="421.23" y2="318.1" stroke="#000" stroke-width="1.5" />
<line x1="442.33" y1="317" x2="442.33" y2="318.1" stroke="#000" stroke-width="1.5" />
<text x="397.2" y="339.6" font-size="10" text-anchor="middle">Time (in hours)</text>
<text x="304.9" y="261" font-size="10.1" text-anchor="middle" transform="rotate(-90 304.9 261)">ThT FI Int. (&#955;<tspan font-size="5.6" dy="1.8">ex</tspan><tspan dy="-1.8"> = 445 nm)</tspan></text>
<line x1="332" y1="215.4" x2="350.3" y2="215.4" stroke="#484848" stroke-width="1.1" />
<circle cx="341.3" cy="215.4" r="2.9" fill="#f01010" stroke="#484848" stroke-width="2.2" />
<line x1="332" y1="225.8" x2="350.3" y2="225.8" stroke="#ef4a52" stroke-width="1.1" />
<circle cx="341.3" cy="225.8" r="2.9" fill="#3a6aa8" stroke="#ef4a52" stroke-width="2.2" />
<line x1="332" y1="235.8" x2="350.3" y2="235.8" stroke="#2a7ae2" stroke-width="1.1" />
<circle cx="341.3" cy="235.8" r="2.9" fill="#f8bc10" stroke="#2a7ae2" stroke-width="2.2" />
<text x="352.8" y="218.1" font-size="7.8">(ii)</text>
<text x="352.8" y="228.5" font-size="7.8">(iii)</text>
<text x="352.8" y="238.5" font-size="7.8">(iv)</text>
</g>
<g id="btext">
<rect x="476.5" y="209.4" width="204.3" height="100.4" fill="#fff" stroke="#e8202c" stroke-width="1.5" />
<text x="486.9" y="224.9" font-size="8.7">Here, (i)&#8211;(iv) represent the following aliquots :</text>
<text x="486.9" y="235" font-size="8.7">(i) ThT response alone in PBS.</text>
<text x="486.9" y="245.4" font-size="8.7">(ii) ThT response with <tspan font-size="7">A&#946;</tspan><tspan font-size="4.2" dy="1.8">1-40</tspan><tspan dy="-1.8"> monomer incubated</tspan></text>
<text x="501.2" y="255.8" font-size="8.7">for 72 hours.</text>
<text x="486.9" y="266.2" font-size="8.7">(iii) ThT with a mixture of I-43 and <tspan font-size="7">A&#946;</tspan><tspan font-size="4.2" dy="1.8">1-40</tspan><tspan dy="-1.8"> monomer</tspan></text>
<text x="501" y="276.5" font-size="8.7">in a 4:1 ratio, incubated for 72 hours.</text>
<text x="486.9" y="286.8" font-size="8.7">(iv) ThT with a mixture of I-43 and <tspan font-size="7">A&#946;</tspan><tspan font-size="4.2" dy="1.8">1-40</tspan><tspan dy="-1.8"> monomer</tspan></text>
<text x="504" y="297.2" font-size="8.7">in a 2:1 ratio, incubated for 72 hours.</text>
</g>
</g>
<g id="pc">
<text x="1.2" y="374.3" font-size="9.6">c</text>
<text x="45.7" y="389.5" font-size="10.2">x10<tspan font-size="5.92" dy="-4.08">5</tspan><tspan dy="4.08"> (arb. units)</tspan></text>
<clipPath id="cc"><rect x="45.0" y="395.3" width="170.1" height="136.2"/></clipPath>
<g clip-path="url(#cc)">
<path d="M45.4 526.05 L48.47 526.05 L51.53 526.05 L54.6 525.92 L57.67 525.78 L60.74 525.51 L63.8 525.23 L66.87 524.96 L69.94 524.69 L73.01 524.28 L76.08 523.87 L79.14 523.33 L82.21 522.78 L85.28 522.17 L88.34 521.56 L91.41 520.94 L94.48 520.33 L97.55 519.72 L100.62 519.11 L103.68 518.49 L106.75 517.88 L109.82 517.2 L112.88 516.52 L115.95 515.97 L119.02 515.43 L122.09 514.95 L125.16 514.48 L128.22 514.13 L131.29 513.79 L134.36 513.45 L137.43 513.11 L140.49 512.91 L143.56 512.7 L146.63 512.57 L149.69 512.43 L152.76 512.64 L155.83 512.84 L158.9 513.32 L161.97 513.79 L165.03 514.34 L168.1 514.88 L171.17 515.29 L174.24 515.7 L177.3 515.7 L180.37 515.7 L183.44 515.36 L186.51 515.02 L189.57 514.13 L192.64 513.25 L195.71 512.16 L198.78 511.07 L201.84 508.69 L204.91 506.3 L207.98 502.22 L211.05 496.09 L214.11 487.92" fill="none" stroke="#585858" stroke-width="2.3" stroke-linejoin="round"/>
<path d="M45.4 524.96 V527.14 M43.6 524.96 h3.6 M43.6 527.14 h3.6 M48.47 524.96 V527.14 M46.67 524.96 h3.6 M46.67 527.14 h3.6 M51.53 524.96 V527.14 M49.73 524.96 h3.6 M49.73 527.14 h3.6 M54.6 524.83 V527.01 M52.8 524.83 h3.6 M52.8 527.01 h3.6 M57.67 524.69 V526.87 M55.87 524.69 h3.6 M55.87 526.87 h3.6 M60.74 524.42 V526.6 M58.94 524.42 h3.6 M58.94 526.6 h3.6 M63.8 524.15 V526.32 M62.01 524.15 h3.6 M62.01 526.32 h3.6 M66.87 523.87 V526.05 M65.07 523.87 h3.6 M65.07 526.05 h3.6 M69.94 523.6 V525.78 M68.14 523.6 h3.6 M68.14 525.78 h3.6 M73.01 523.19 V525.37 M71.21 523.19 h3.6 M71.21 525.37 h3.6 M76.08 522.78 V524.96 M74.28 522.78 h3.6 M74.28 524.96 h3.6 M79.14 522.24 V524.42 M77.34 522.24 h3.6 M77.34 524.42 h3.6 M82.21 521.69 V523.87 M80.41 521.69 h3.6 M80.41 523.87 h3.6 M85.28 521.08 V523.26 M83.48 521.08 h3.6 M83.48 523.26 h3.6 M88.34 520.47 V522.65 M86.55 520.47 h3.6 M86.55 522.65 h3.6 M91.41 519.85 V522.03 M89.61 519.85 h3.6 M89.61 522.03 h3.6 M94.48 519.24 V521.42 M92.68 519.24 h3.6 M92.68 521.42 h3.6 M97.55 518.63 V520.81 M95.75 518.63 h3.6 M95.75 520.81 h3.6 M100.62 518.02 V520.2 M98.82 518.02 h3.6 M98.82 520.2 h3.6 M103.68 517.4 V519.58 M101.88 517.4 h3.6 M101.88 519.58 h3.6 M106.75 516.79 V518.97 M104.95 516.79 h3.6 M104.95 518.97 h3.6 M109.82 516.11 V518.29 M108.02 516.11 h3.6 M108.02 518.29 h3.6 M112.88 515.43 V517.61 M111.08 515.43 h3.6 M111.08 517.61 h3.6 M115.95 514.88 V517.06 M114.15 514.88 h3.6 M114.15 517.06 h3.6 M119.02 514.34 V516.52 M117.22 514.34 h3.6 M117.22 516.52 h3.6 M122.09 513.86 V516.04 M120.29 513.86 h3.6 M120.29 516.04 h3.6 M125.16 513.39 V515.56 M123.36 513.39 h3.6 M123.36 515.56 h3.6 M128.22 513.04 V515.22 M126.42 513.04 h3.6 M126.42 515.22 h3.6 M131.29 512.7 V514.88 M129.49 512.7 h3.6 M129.49 514.88 h3.6 M134.36 512.36 V514.54 M132.56 512.36 h3.6 M132.56 514.54 h3.6 M137.43 512.02 V514.2 M135.62 512.02 h3.6 M135.62 514.2 h3.6 M140.49 511.82 V514 M138.69 511.82 h3.6 M138.69 514 h3.6 M143.56 511.61 V513.79 M141.76 511.61 h3.6 M141.76 513.79 h3.6 M146.63 511.48 V513.66 M144.83 511.48 h3.6 M144.83 513.66 h3.6 M149.69 511.34 V513.52 M147.89 511.34 h3.6 M147.89 513.52 h3.6 M152.76 511.55 V513.73 M150.96 511.55 h3.6 M150.96 513.73 h3.6 M155.83 511.75 V513.93 M154.03 511.75 h3.6 M154.03 513.93 h3.6 M158.9 512.23 V514.41 M157.1 512.23 h3.6 M157.1 514.41 h3.6 M161.97 512.7 V514.88 M160.16 512.7 h3.6 M160.16 514.88 h3.6 M165.03 513.25 V515.43 M163.23 513.25 h3.6 M163.23 515.43 h3.6 M168.1 513.79 V515.97 M166.3 513.79 h3.6 M166.3 515.97 h3.6 M171.17 514.2 V516.38 M169.37 514.2 h3.6 M169.37 516.38 h3.6 M174.24 514.61 V516.79 M172.44 514.61 h3.6 M172.44 516.79 h3.6 M177.3 514.61 V516.79 M175.5 514.61 h3.6 M175.5 516.79 h3.6 M180.37 514.61 V516.79 M178.57 514.61 h3.6 M178.57 516.79 h3.6 M183.44 514.27 V516.45 M181.64 514.27 h3.6 M181.64 516.45 h3.6 M186.51 513.93 V516.11 M184.71 513.93 h3.6 M184.71 516.11 h3.6 M189.57 513.04 V515.22 M187.77 513.04 h3.6 M187.77 515.22 h3.6 M192.64 512.16 V514.34 M190.84 512.16 h3.6 M190.84 514.34 h3.6 M195.71 511.07 V513.25 M193.91 511.07 h3.6 M193.91 513.25 h3.6 M198.78 509.98 V512.16 M196.97 509.98 h3.6 M196.97 512.16 h3.6 M201.84 507.6 V509.78 M200.04 507.6 h3.6 M200.04 509.78 h3.6 M204.91 505.21 V507.39 M203.11 505.21 h3.6 M203.11 507.39 h3.6 M207.98 501.13 V503.31 M206.18 501.13 h3.6 M206.18 503.31 h3.6 M211.05 495 V497.18 M209.25 495 h3.6 M209.25 497.18 h3.6 M214.11 486.83 V489.01 M212.31 486.83 h3.6 M212.31 489.01 h3.6 " stroke="#585858" stroke-width="1.25" fill="none"/>
<path d="M45.4 524.69 L48.47 524.69 L51.53 524.69 L54.6 524.69 L57.67 524.69 L60.74 524.55 L63.8 524.42 L66.87 524.01 L69.94 523.6 L73.01 523.06 L76.08 522.51 L79.14 521.83 L82.21 521.15 L85.28 520.47 L88.34 519.79 L91.41 519.24 L94.48 518.7 L97.55 518.08 L100.62 517.47 L103.68 516.72 L106.75 515.97 L109.82 515.22 L112.88 514.48 L115.95 513.86 L119.02 513.25 L122.09 512.84 L125.16 512.43 L128.22 512.23 L131.29 512.02 L134.36 511.82 L137.43 511.61 L140.49 511.48 L143.56 511.34 L146.63 511.21 L149.69 511.07 L152.76 511.34 L155.83 511.61 L158.9 512.3 L161.97 512.98 L165.03 513.73 L168.1 514.48 L171.17 515.09 L174.24 515.7 L177.3 516.11 L180.37 516.52 L183.44 516.18 L186.51 515.84 L189.57 514.82 L192.64 513.79 L195.71 512.43 L198.78 511.07 L201.84 508.35 L204.91 505.62 L207.98 500.17 L211.05 492 L214.11 481.11" fill="none" stroke="#b57ce0" stroke-width="2.3" stroke-linejoin="round"/>
<path d="M45.4 523.46 V525.92 M43.6 523.46 h3.6 M43.6 525.92 h3.6 M48.47 523.46 V525.92 M46.67 523.46 h3.6 M46.67 525.92 h3.6 M51.53 523.46 V525.92 M49.73 523.46 h3.6 M49.73 525.92 h3.6 M54.6 523.46 V525.92 M52.8 523.46 h3.6 M52.8 525.92 h3.6 M57.67 523.46 V525.92 M55.87 523.46 h3.6 M55.87 525.92 h3.6 M60.74 523.33 V525.78 M58.94 523.33 h3.6 M58.94 525.78 h3.6 M63.8 523.19 V525.64 M62.01 523.19 h3.6 M62.01 525.64 h3.6 M66.87 522.78 V525.23 M65.07 522.78 h3.6 M65.07 525.23 h3.6 M69.94 522.37 V524.83 M68.14 522.37 h3.6 M68.14 524.83 h3.6 M73.01 521.83 V524.28 M71.21 521.83 h3.6 M71.21 524.28 h3.6 M76.08 521.28 V523.74 M74.28 521.28 h3.6 M74.28 523.74 h3.6 M79.14 520.6 V523.06 M77.34 520.6 h3.6 M77.34 523.06 h3.6 M82.21 519.92 V522.37 M80.41 519.92 h3.6 M80.41 522.37 h3.6 M85.28 519.24 V521.69 M83.48 519.24 h3.6 M83.48 521.69 h3.6 M88.34 518.56 V521.01 M86.55 518.56 h3.6 M86.55 521.01 h3.6 M91.41 518.02 V520.47 M89.61 518.02 h3.6 M89.61 520.47 h3.6 M94.48 517.47 V519.92 M92.68 517.47 h3.6 M92.68 519.92 h3.6 M97.55 516.86 V519.31 M95.75 516.86 h3.6 M95.75 519.31 h3.6 M100.62 516.25 V518.7 M98.82 516.25 h3.6 M98.82 518.7 h3.6 M103.68 515.5 V517.95 M101.88 515.5 h3.6 M101.88 517.95 h3.6 M106.75 514.75 V517.2 M104.95 514.75 h3.6 M104.95 517.2 h3.6 M109.82 514 V516.45 M108.02 514 h3.6 M108.02 516.45 h3.6 M112.88 513.25 V515.7 M111.08 513.25 h3.6 M111.08 515.7 h3.6 M115.95 512.64 V515.09 M114.15 512.64 h3.6 M114.15 515.09 h3.6 M119.02 512.02 V514.48 M117.22 512.02 h3.6 M117.22 514.48 h3.6 M122.09 511.61 V514.07 M120.29 511.61 h3.6 M120.29 514.07 h3.6 M125.16 511.21 V513.66 M123.36 511.21 h3.6 M123.36 513.66 h3.6 M128.22 511 V513.45 M126.42 511 h3.6 M126.42 513.45 h3.6 M131.29 510.8 V513.25 M129.49 510.8 h3.6 M129.49 513.25 h3.6 M134.36 510.59 V513.04 M132.56 510.59 h3.6 M132.56 513.04 h3.6 M137.43 510.39 V512.84 M135.62 510.39 h3.6 M135.62 512.84 h3.6 M140.49 510.25 V512.7 M138.69 510.25 h3.6 M138.69 512.7 h3.6 M143.56 510.12 V512.57 M141.76 510.12 h3.6 M141.76 512.57 h3.6 M146.63 509.98 V512.43 M144.83 509.98 h3.6 M144.83 512.43 h3.6 M149.69 509.84 V512.3 M147.89 509.84 h3.6 M147.89 512.3 h3.6 M152.76 510.12 V512.57 M150.96 510.12 h3.6 M150.96 512.57 h3.6 M155.83 510.39 V512.84 M154.03 510.39 h3.6 M154.03 512.84 h3.6 M158.9 511.07 V513.52 M157.1 511.07 h3.6 M157.1 513.52 h3.6 M161.97 511.75 V514.2 M160.16 511.75 h3.6 M160.16 514.2 h3.6 M165.03 512.5 V514.95 M163.23 512.5 h3.6 M163.23 514.95 h3.6 M168.1 513.25 V515.7 M166.3 513.25 h3.6 M166.3 515.7 h3.6 M171.17 513.86 V516.31 M169.37 513.86 h3.6 M169.37 516.31 h3.6 M174.24 514.48 V516.93 M172.44 514.48 h3.6 M172.44 516.93 h3.6 M177.3 514.88 V517.34 M175.5 514.88 h3.6 M175.5 517.34 h3.6 M180.37 515.29 V517.74 M178.57 515.29 h3.6 M178.57 517.74 h3.6 M183.44 514.95 V517.4 M181.64 514.95 h3.6 M181.64 517.4 h3.6 M186.51 514.61 V517.06 M184.71 514.61 h3.6 M184.71 517.06 h3.6 M189.57 513.59 V516.04 M187.77 513.59 h3.6 M187.77 516.04 h3.6 M192.64 512.57 V515.02 M190.84 512.57 h3.6 M190.84 515.02 h3.6 M195.71 511.21 V513.66 M193.91 511.21 h3.6 M193.91 513.66 h3.6 M198.78 509.84 V512.3 M196.97 509.84 h3.6 M196.97 512.3 h3.6 M201.84 507.12 V509.57 M200.04 507.12 h3.6 M200.04 509.57 h3.6 M204.91 504.4 V506.85 M203.11 504.4 h3.6 M203.11 506.85 h3.6 M207.98 498.95 V501.4 M206.18 498.95 h3.6 M206.18 501.4 h3.6 M211.05 490.78 V493.23 M209.25 490.78 h3.6 M209.25 493.23 h3.6 M214.11 479.88 V482.33 M212.31 479.88 h3.6 M212.31 482.33 h3.6 " stroke="#b57ce0" stroke-width="1.25" fill="none"/>
<path d="M45.4 523.33 L48.47 523.46 L51.53 523.6 L54.6 523.8 L57.67 524.01 L60.74 523.8 L63.8 523.6 L66.87 523.19 L69.94 522.78 L73.01 522.24 L76.08 521.69 L79.14 520.74 L82.21 519.79 L85.28 518.83 L88.34 517.88 L91.41 516.99 L94.48 516.11 L97.55 515.22 L100.62 514.34 L103.68 513.45 L106.75 512.57 L109.82 511.75 L112.88 510.93 L115.95 510.32 L119.02 509.71 L122.09 509.37 L125.16 509.03 L128.22 509.1 L131.29 509.16 L134.36 509.37 L137.43 509.57 L140.49 509.5 L143.56 509.44 L146.63 509.16 L149.69 508.89 L152.76 508.62 L155.83 508.35 L158.9 509.03 L161.97 509.71 L165.03 510.73 L168.1 511.75 L171.17 512.64 L174.24 513.52 L177.3 513.86 L180.37 514.2 L183.44 514 L186.51 513.79 L189.57 512.98 L192.64 512.16 L195.71 510.93 L198.78 509.71 L201.84 507.67 L204.91 505.62 L207.98 501.54 L211.05 494.73 L214.11 486.55" fill="none" stroke="#2864d8" stroke-width="2.3" stroke-linejoin="round"/>
<path d="M45.4 522.1 V524.55 M43.6 522.1 h3.6 M43.6 524.55 h3.6 M48.47 522.24 V524.69 M46.67 522.24 h3.6 M46.67 524.69 h3.6 M51.53 522.37 V524.83 M49.73 522.37 h3.6 M49.73 524.83 h3.6 M54.6 522.58 V525.03 M52.8 522.58 h3.6 M52.8 525.03 h3.6 M57.67 522.78 V525.23 M55.87 522.78 h3.6 M55.87 525.23 h3.6 M60.74 522.58 V525.03 M58.94 522.58 h3.6 M58.94 525.03 h3.6 M63.8 522.37 V524.83 M62.01 522.37 h3.6 M62.01 524.83 h3.6 M66.87 521.97 V524.42 M65.07 521.97 h3.6 M65.07 524.42 h3.6 M69.94 521.56 V524.01 M68.14 521.56 h3.6 M68.14 524.01 h3.6 M73.01 521.01 V523.46 M71.21 521.01 h3.6 M71.21 523.46 h3.6 M76.08 520.47 V522.92 M74.28 520.47 h3.6 M74.28 522.92 h3.6 M79.14 519.51 V521.97 M77.34 519.51 h3.6 M77.34 521.97 h3.6 M82.21 518.56 V521.01 M80.41 518.56 h3.6 M80.41 521.01 h3.6 M85.28 517.61 V520.06 M83.48 517.61 h3.6 M83.48 520.06 h3.6 M88.34 516.65 V519.11 M86.55 516.65 h3.6 M86.55 519.11 h3.6 M91.41 515.77 V518.22 M89.61 515.77 h3.6 M89.61 518.22 h3.6 M94.48 514.88 V517.34 M92.68 514.88 h3.6 M92.68 517.34 h3.6 M97.55 514 V516.45 M95.75 514 h3.6 M95.75 516.45 h3.6 M100.62 513.11 V515.56 M98.82 513.11 h3.6 M98.82 515.56 h3.6 M103.68 512.23 V514.68 M101.88 512.23 h3.6 M101.88 514.68 h3.6 M106.75 511.34 V513.79 M104.95 511.34 h3.6 M104.95 513.79 h3.6 M109.82 510.53 V512.98 M108.02 510.53 h3.6 M108.02 512.98 h3.6 M112.88 509.71 V512.16 M111.08 509.71 h3.6 M111.08 512.16 h3.6 M115.95 509.1 V511.55 M114.15 509.1 h3.6 M114.15 511.55 h3.6 M119.02 508.48 V510.93 M117.22 508.48 h3.6 M117.22 510.93 h3.6 M122.09 508.14 V510.59 M120.29 508.14 h3.6 M120.29 510.59 h3.6 M125.16 507.8 V510.25 M123.36 507.8 h3.6 M123.36 510.25 h3.6 M128.22 507.87 V510.32 M126.42 507.87 h3.6 M126.42 510.32 h3.6 M131.29 507.94 V510.39 M129.49 507.94 h3.6 M129.49 510.39 h3.6 M134.36 508.14 V510.59 M132.56 508.14 h3.6 M132.56 510.59 h3.6 M137.43 508.35 V510.8 M135.62 508.35 h3.6 M135.62 510.8 h3.6 M140.49 508.28 V510.73 M138.69 508.28 h3.6 M138.69 510.73 h3.6 M143.56 508.21 V510.66 M141.76 508.21 h3.6 M141.76 510.66 h3.6 M146.63 507.94 V510.39 M144.83 507.94 h3.6 M144.83 510.39 h3.6 M149.69 507.67 V510.12 M147.89 507.67 h3.6 M147.89 510.12 h3.6 M152.76 507.39 V509.84 M150.96 507.39 h3.6 M150.96 509.84 h3.6 M155.83 507.12 V509.57 M154.03 507.12 h3.6 M154.03 509.57 h3.6 M158.9 507.8 V510.25 M157.1 507.8 h3.6 M157.1 510.25 h3.6 M161.97 508.48 V510.93 M160.16 508.48 h3.6 M160.16 510.93 h3.6 M165.03 509.5 V511.96 M163.23 509.5 h3.6 M163.23 511.96 h3.6 M168.1 510.53 V512.98 M166.3 510.53 h3.6 M166.3 512.98 h3.6 M171.17 511.41 V513.86 M169.37 511.41 h3.6 M169.37 513.86 h3.6 M174.24 512.3 V514.75 M172.44 512.3 h3.6 M172.44 514.75 h3.6 M177.3 512.64 V515.09 M175.5 512.64 h3.6 M175.5 515.09 h3.6 M180.37 512.98 V515.43 M178.57 512.98 h3.6 M178.57 515.43 h3.6 M183.44 512.77 V515.22 M181.64 512.77 h3.6 M181.64 515.22 h3.6 M186.51 512.57 V515.02 M184.71 512.57 h3.6 M184.71 515.02 h3.6 M189.57 511.75 V514.2 M187.77 511.75 h3.6 M187.77 514.2 h3.6 M192.64 510.93 V513.39 M190.84 510.93 h3.6 M190.84 513.39 h3.6 M195.71 509.71 V512.16 M193.91 509.71 h3.6 M193.91 512.16 h3.6 M198.78 508.48 V510.93 M196.97 508.48 h3.6 M196.97 510.93 h3.6 M201.84 506.44 V508.89 M200.04 506.44 h3.6 M200.04 508.89 h3.6 M204.91 504.4 V506.85 M203.11 504.4 h3.6 M203.11 506.85 h3.6 M207.98 500.31 V502.76 M206.18 500.31 h3.6 M206.18 502.76 h3.6 M211.05 493.5 V495.95 M209.25 493.5 h3.6 M209.25 495.95 h3.6 M214.11 485.33 V487.78 M212.31 485.33 h3.6 M212.31 487.78 h3.6 " stroke="#2864d8" stroke-width="1.25" fill="none"/>
<path d="M45.4 524.69 L48.47 524.69 L51.53 524.69 L54.6 524.55 L57.67 524.42 L60.74 523.87 L63.8 523.33 L66.87 522.51 L69.94 521.69 L73.01 520.47 L76.08 519.24 L79.14 517.54 L82.21 515.84 L85.28 514.13 L88.34 512.43 L91.41 510.93 L94.48 509.44 L97.55 508.07 L100.62 506.71 L103.68 505.49 L106.75 504.26 L109.82 503.24 L112.88 502.22 L115.95 501.26 L119.02 500.72 L122.09 500.72 L125.16 501.26 L128.22 502.22 L131.29 502.9 L134.36 503.72 L137.43 504.53 L140.49 504.94 L143.56 504.8 L146.63 504.26 L149.69 503.44 L152.76 503.17 L155.83 503.58 L158.9 504.53 L161.97 505.62 L165.03 506.98 L168.1 508.35 L171.17 509.71 L174.24 510.8 L177.3 511.48 L180.37 511.75 L183.44 511.61 L186.51 511.07 L189.57 510.39 L192.64 509.44 L195.71 508.35 L198.78 506.98 L201.84 505.62 L204.91 503.58 L207.98 499.49 L211.05 492.68 L214.11 483.83" fill="none" stroke="#3aaa68" stroke-width="2.3" stroke-linejoin="round"/>
<path d="M45.4 522.78 V526.6 M43.6 522.78 h3.6 M43.6 526.6 h3.6 M48.47 522.78 V526.6 M46.67 522.78 h3.6 M46.67 526.6 h3.6 M51.53 522.78 V526.6 M49.73 522.78 h3.6 M49.73 526.6 h3.6 M54.6 522.65 V526.46 M52.8 522.65 h3.6 M52.8 526.46 h3.6 M57.67 522.51 V526.32 M55.87 522.51 h3.6 M55.87 526.32 h3.6 M60.74 521.97 V525.78 M58.94 521.97 h3.6 M58.94 525.78 h3.6 M63.8 521.42 V525.23 M62.01 521.42 h3.6 M62.01 525.23 h3.6 M66.87 520.6 V524.42 M65.07 520.6 h3.6 M65.07 524.42 h3.6 M69.94 519.79 V523.6 M68.14 519.79 h3.6 M68.14 523.6 h3.6 M73.01 518.56 V522.37 M71.21 518.56 h3.6 M71.21 522.37 h3.6 M76.08 517.34 V521.15 M74.28 517.34 h3.6 M74.28 521.15 h3.6 M79.14 515.63 V519.45 M77.34 515.63 h3.6 M77.34 519.45 h3.6 M82.21 513.93 V517.74 M80.41 513.93 h3.6 M80.41 517.74 h3.6 M85.28 512.23 V516.04 M83.48 512.23 h3.6 M83.48 516.04 h3.6 M88.34 510.53 V514.34 M86.55 510.53 h3.6 M86.55 514.34 h3.6 M91.41 509.03 V512.84 M89.61 509.03 h3.6 M89.61 512.84 h3.6 M94.48 507.53 V511.34 M92.68 507.53 h3.6 M92.68 511.34 h3.6 M97.55 506.17 V509.98 M95.75 506.17 h3.6 M95.75 509.98 h3.6 M100.62 504.8 V508.62 M98.82 504.8 h3.6 M98.82 508.62 h3.6 M103.68 503.58 V507.39 M101.88 503.58 h3.6 M101.88 507.39 h3.6 M106.75 502.35 V506.17 M104.95 502.35 h3.6 M104.95 506.17 h3.6 M109.82 501.33 V505.15 M108.02 501.33 h3.6 M108.02 505.15 h3.6 M112.88 500.31 V504.12 M111.08 500.31 h3.6 M111.08 504.12 h3.6 M115.95 499.36 V503.17 M114.15 499.36 h3.6 M114.15 503.17 h3.6 M119.02 498.81 V502.63 M117.22 498.81 h3.6 M117.22 502.63 h3.6 M122.09 498.81 V502.63 M120.29 498.81 h3.6 M120.29 502.63 h3.6 M125.16 499.36 V503.17 M123.36 499.36 h3.6 M123.36 503.17 h3.6 M128.22 500.31 V504.12 M126.42 500.31 h3.6 M126.42 504.12 h3.6 M131.29 500.99 V504.8 M129.49 500.99 h3.6 M129.49 504.8 h3.6 M134.36 501.81 V505.62 M132.56 501.81 h3.6 M132.56 505.62 h3.6 M137.43 502.63 V506.44 M135.62 502.63 h3.6 M135.62 506.44 h3.6 M140.49 503.03 V506.85 M138.69 503.03 h3.6 M138.69 506.85 h3.6 M143.56 502.9 V506.71 M141.76 502.9 h3.6 M141.76 506.71 h3.6 M146.63 502.35 V506.17 M144.83 502.35 h3.6 M144.83 506.17 h3.6 M149.69 501.54 V505.35 M147.89 501.54 h3.6 M147.89 505.35 h3.6 M152.76 501.26 V505.08 M150.96 501.26 h3.6 M150.96 505.08 h3.6 M155.83 501.67 V505.49 M154.03 501.67 h3.6 M154.03 505.49 h3.6 M158.9 502.63 V506.44 M157.1 502.63 h3.6 M157.1 506.44 h3.6 M161.97 503.72 V507.53 M160.16 503.72 h3.6 M160.16 507.53 h3.6 M165.03 505.08 V508.89 M163.23 505.08 h3.6 M163.23 508.89 h3.6 M168.1 506.44 V510.25 M166.3 506.44 h3.6 M166.3 510.25 h3.6 M171.17 507.8 V511.61 M169.37 507.8 h3.6 M169.37 511.61 h3.6 M174.24 508.89 V512.7 M172.44 508.89 h3.6 M172.44 512.7 h3.6 M177.3 509.57 V513.39 M175.5 509.57 h3.6 M175.5 513.39 h3.6 M180.37 509.84 V513.66 M178.57 509.84 h3.6 M178.57 513.66 h3.6 M183.44 509.71 V513.52 M181.64 509.71 h3.6 M181.64 513.52 h3.6 M186.51 509.16 V512.98 M184.71 509.16 h3.6 M184.71 512.98 h3.6 M189.57 508.48 V512.3 M187.77 508.48 h3.6 M187.77 512.3 h3.6 M192.64 507.53 V511.34 M190.84 507.53 h3.6 M190.84 511.34 h3.6 M195.71 506.44 V510.25 M193.91 506.44 h3.6 M193.91 510.25 h3.6 M198.78 505.08 V508.89 M196.97 505.08 h3.6 M196.97 508.89 h3.6 M201.84 503.72 V507.53 M200.04 503.72 h3.6 M200.04 507.53 h3.6 M204.91 501.67 V505.49 M203.11 501.67 h3.6 M203.11 505.49 h3.6 M207.98 497.59 V501.4 M206.18 497.59 h3.6 M206.18 501.4 h3.6 M211.05 490.78 V494.59 M209.25 490.78 h3.6 M209.25 494.59 h3.6 M214.11 481.92 V485.74 M212.31 481.92 h3.6 M212.31 485.74 h3.6 " stroke="#3aaa68" stroke-width="1.25" fill="none"/>
<path d="M45.4 526.05 L48.47 526.05 L51.53 526.05 L54.6 525.92 L57.67 525.78 L60.74 525.58 L63.8 525.37 L66.87 525.03 L69.94 524.69 L73.01 524.28 L76.08 523.87 L79.14 523.06 L82.21 522.24 L85.28 521.42 L88.34 520.6 L91.41 519.58 L94.48 518.56 L97.55 517.54 L100.62 516.52 L103.68 515.5 L106.75 514.48 L109.82 513.45 L112.88 512.43 L115.95 511.61 L119.02 510.8 L122.09 510.25 L125.16 509.71 L128.22 509.16 L131.29 508.62 L134.36 508.07 L137.43 507.53 L140.49 506.58 L143.56 505.35 L146.63 503.99 L149.69 502.9 L152.76 502.9 L155.83 503.44 L158.9 503.72 L161.97 504.26 L165.03 505.35 L168.1 506.98 L171.17 508.35 L174.24 509.71 L177.3 510.25 L180.37 510.39 L183.44 509.71 L186.51 508.89 L189.57 508.35 L192.64 507.67 L195.71 506.98 L198.78 506.17 L201.84 504.94 L204.91 502.9 L207.98 497.45 L211.05 489.28 L214.11 477.02" fill="none" stroke="#c8960c" stroke-width="2.3" stroke-linejoin="round"/>
<path d="M45.4 524.42 V527.69 M43.6 524.42 h3.6 M43.6 527.69 h3.6 M48.47 524.42 V527.69 M46.67 524.42 h3.6 M46.67 527.69 h3.6 M51.53 524.42 V527.69 M49.73 524.42 h3.6 M49.73 527.69 h3.6 M54.6 524.28 V527.55 M52.8 524.28 h3.6 M52.8 527.55 h3.6 M57.67 524.15 V527.41 M55.87 524.15 h3.6 M55.87 527.41 h3.6 M60.74 523.94 V527.21 M58.94 523.94 h3.6 M58.94 527.21 h3.6 M63.8 523.74 V527.01 M62.01 523.74 h3.6 M62.01 527.01 h3.6 M66.87 523.4 V526.66 M65.07 523.4 h3.6 M65.07 526.66 h3.6 M69.94 523.06 V526.32 M68.14 523.06 h3.6 M68.14 526.32 h3.6 M73.01 522.65 V525.92 M71.21 522.65 h3.6 M71.21 525.92 h3.6 M76.08 522.24 V525.51 M74.28 522.24 h3.6 M74.28 525.51 h3.6 M79.14 521.42 V524.69 M77.34 521.42 h3.6 M77.34 524.69 h3.6 M82.21 520.6 V523.87 M80.41 520.6 h3.6 M80.41 523.87 h3.6 M85.28 519.79 V523.06 M83.48 519.79 h3.6 M83.48 523.06 h3.6 M88.34 518.97 V522.24 M86.55 518.97 h3.6 M86.55 522.24 h3.6 M91.41 517.95 V521.22 M89.61 517.95 h3.6 M89.61 521.22 h3.6 M94.48 516.93 V520.2 M92.68 516.93 h3.6 M92.68 520.2 h3.6 M97.55 515.91 V519.17 M95.75 515.91 h3.6 M95.75 519.17 h3.6 M100.62 514.88 V518.15 M98.82 514.88 h3.6 M98.82 518.15 h3.6 M103.68 513.86 V517.13 M101.88 513.86 h3.6 M101.88 517.13 h3.6 M106.75 512.84 V516.11 M104.95 512.84 h3.6 M104.95 516.11 h3.6 M109.82 511.82 V515.09 M108.02 511.82 h3.6 M108.02 515.09 h3.6 M112.88 510.8 V514.07 M111.08 510.8 h3.6 M111.08 514.07 h3.6 M115.95 509.98 V513.25 M114.15 509.98 h3.6 M114.15 513.25 h3.6 M119.02 509.16 V512.43 M117.22 509.16 h3.6 M117.22 512.43 h3.6 M122.09 508.62 V511.89 M120.29 508.62 h3.6 M120.29 511.89 h3.6 M125.16 508.07 V511.34 M123.36 508.07 h3.6 M123.36 511.34 h3.6 M128.22 507.53 V510.8 M126.42 507.53 h3.6 M126.42 510.8 h3.6 M131.29 506.98 V510.25 M129.49 506.98 h3.6 M129.49 510.25 h3.6 M134.36 506.44 V509.71 M132.56 506.44 h3.6 M132.56 509.71 h3.6 M137.43 505.89 V509.16 M135.62 505.89 h3.6 M135.62 509.16 h3.6 M140.49 504.94 V508.21 M138.69 504.94 h3.6 M138.69 508.21 h3.6 M143.56 503.72 V506.98 M141.76 503.72 h3.6 M141.76 506.98 h3.6 M146.63 502.35 V505.62 M144.83 502.35 h3.6 M144.83 505.62 h3.6 M149.69 501.26 V504.53 M147.89 501.26 h3.6 M147.89 504.53 h3.6 M152.76 501.26 V504.53 M150.96 501.26 h3.6 M150.96 504.53 h3.6 M155.83 501.81 V505.08 M154.03 501.81 h3.6 M154.03 505.08 h3.6 M158.9 502.08 V505.35 M157.1 502.08 h3.6 M157.1 505.35 h3.6 M161.97 502.63 V505.89 M160.16 502.63 h3.6 M160.16 505.89 h3.6 M165.03 503.72 V506.98 M163.23 503.72 h3.6 M163.23 506.98 h3.6 M168.1 505.35 V508.62 M166.3 505.35 h3.6 M166.3 508.62 h3.6 M171.17 506.71 V509.98 M169.37 506.71 h3.6 M169.37 509.98 h3.6 M174.24 508.07 V511.34 M172.44 508.07 h3.6 M172.44 511.34 h3.6 M177.3 508.62 V511.89 M175.5 508.62 h3.6 M175.5 511.89 h3.6 M180.37 508.75 V512.02 M178.57 508.75 h3.6 M178.57 512.02 h3.6 M183.44 508.07 V511.34 M181.64 508.07 h3.6 M181.64 511.34 h3.6 M186.51 507.26 V510.53 M184.71 507.26 h3.6 M184.71 510.53 h3.6 M189.57 506.71 V509.98 M187.77 506.71 h3.6 M187.77 509.98 h3.6 M192.64 506.03 V509.3 M190.84 506.03 h3.6 M190.84 509.3 h3.6 M195.71 505.35 V508.62 M193.91 505.35 h3.6 M193.91 508.62 h3.6 M198.78 504.53 V507.8 M196.97 504.53 h3.6 M196.97 507.8 h3.6 M201.84 503.31 V506.58 M200.04 503.31 h3.6 M200.04 506.58 h3.6 M204.91 501.26 V504.53 M203.11 501.26 h3.6 M203.11 504.53 h3.6 M207.98 495.82 V499.08 M206.18 495.82 h3.6 M206.18 499.08 h3.6 M211.05 487.64 V490.91 M209.25 487.64 h3.6 M209.25 490.91 h3.6 M214.11 475.39 V478.65 M212.31 475.39 h3.6 M212.31 478.65 h3.6 " stroke="#c8960c" stroke-width="1.25" fill="none"/>
<path d="M45.4 523.33 L48.47 523.46 L51.53 523.6 L54.6 523.8 L57.67 524.01 L60.74 523.67 L63.8 523.33 L66.87 522.31 L69.94 521.28 L73.01 519.58 L76.08 517.88 L79.14 515.16 L82.21 511.75 L85.28 508.07 L88.34 504.26 L91.41 500.45 L94.48 496.77 L97.55 492.68 L100.62 489.28 L103.68 485.87 L106.75 482.47 L109.82 479.06 L112.88 476.34 L115.95 473.62 L119.02 471.57 L122.09 469.53 L125.16 468.17 L128.22 468.58 L131.29 469.12 L134.36 470.21 L137.43 472.66 L140.49 474.3 L143.56 474.98 L146.63 474.3 L149.69 472.93 L152.76 472.25 L155.83 474.3 L158.9 477.02 L161.97 480.83 L165.03 485.19 L168.1 489.28 L171.17 492.96 L174.24 496.36 L177.3 499.36 L180.37 501.81 L183.44 503.85 L186.51 504.53 L189.57 503.99 L192.64 502.9 L195.71 502.08 L198.78 501.26 L201.84 501.26 L204.91 500.86 L207.98 498.13 L211.05 492 L214.11 479.74" fill="none" stroke="#ee4040" stroke-width="2.3" stroke-linejoin="round"/>
<path d="M45.4 521.69 V524.96 M43.6 521.69 h3.6 M43.6 524.96 h3.6 M48.47 521.83 V525.1 M46.67 521.83 h3.6 M46.67 525.1 h3.6 M51.53 521.97 V525.23 M49.73 521.97 h3.6 M49.73 525.23 h3.6 M54.6 522.17 V525.44 M52.8 522.17 h3.6 M52.8 525.44 h3.6 M57.67 522.37 V525.64 M55.87 522.37 h3.6 M55.87 525.64 h3.6 M60.74 522.03 V525.3 M58.94 522.03 h3.6 M58.94 525.3 h3.6 M63.8 521.69 V524.96 M62.01 521.69 h3.6 M62.01 524.96 h3.6 M66.87 520.67 V523.94 M65.07 520.67 h3.6 M65.07 523.94 h3.6 M69.94 519.65 V522.92 M68.14 519.65 h3.6 M68.14 522.92 h3.6 M73.01 517.95 V521.22 M71.21 517.95 h3.6 M71.21 521.22 h3.6 M76.08 516.25 V519.51 M74.28 516.25 h3.6 M74.28 519.51 h3.6 M79.14 513.52 V516.79 M77.34 513.52 h3.6 M77.34 516.79 h3.6 M82.21 510.12 V513.39 M80.41 510.12 h3.6 M80.41 513.39 h3.6 M85.28 506.44 V509.71 M83.48 506.44 h3.6 M83.48 509.71 h3.6 M88.34 502.63 V505.89 M86.55 502.63 h3.6 M86.55 505.89 h3.6 M91.41 498.81 V502.08 M89.61 498.81 h3.6 M89.61 502.08 h3.6 M94.48 495.13 V498.4 M92.68 495.13 h3.6 M92.68 498.4 h3.6 M97.55 491.05 V494.32 M95.75 491.05 h3.6 M95.75 494.32 h3.6 M100.62 487.64 V490.91 M98.82 487.64 h3.6 M98.82 490.91 h3.6 M103.68 484.24 V487.51 M101.88 484.24 h3.6 M101.88 487.51 h3.6 M106.75 480.83 V484.1 M104.95 480.83 h3.6 M104.95 484.1 h3.6 M109.82 477.43 V480.7 M108.02 477.43 h3.6 M108.02 480.7 h3.6 M112.88 474.7 V477.97 M111.08 474.7 h3.6 M111.08 477.97 h3.6 M115.95 471.98 V475.25 M114.15 471.98 h3.6 M114.15 475.25 h3.6 M119.02 469.94 V473.21 M117.22 469.94 h3.6 M117.22 473.21 h3.6 M122.09 467.89 V471.16 M120.29 467.89 h3.6 M120.29 471.16 h3.6 M125.16 466.53 V469.8 M123.36 466.53 h3.6 M123.36 469.8 h3.6 M128.22 466.94 V470.21 M126.42 466.94 h3.6 M126.42 470.21 h3.6 M131.29 467.49 V470.75 M129.49 467.49 h3.6 M129.49 470.75 h3.6 M134.36 468.58 V471.84 M132.56 468.58 h3.6 M132.56 471.84 h3.6 M137.43 471.03 V474.3 M135.62 471.03 h3.6 M135.62 474.3 h3.6 M140.49 472.66 V475.93 M138.69 472.66 h3.6 M138.69 475.93 h3.6 M143.56 473.34 V476.61 M141.76 473.34 h3.6 M141.76 476.61 h3.6 M146.63 472.66 V475.93 M144.83 472.66 h3.6 M144.83 475.93 h3.6 M149.69 471.3 V474.57 M147.89 471.3 h3.6 M147.89 474.57 h3.6 M152.76 470.62 V473.89 M150.96 470.62 h3.6 M150.96 473.89 h3.6 M155.83 472.66 V475.93 M154.03 472.66 h3.6 M154.03 475.93 h3.6 M158.9 475.39 V478.65 M157.1 475.39 h3.6 M157.1 478.65 h3.6 M161.97 479.2 V482.47 M160.16 479.2 h3.6 M160.16 482.47 h3.6 M165.03 483.56 V486.83 M163.23 483.56 h3.6 M163.23 486.83 h3.6 M168.1 487.64 V490.91 M166.3 487.64 h3.6 M166.3 490.91 h3.6 M171.17 491.32 V494.59 M169.37 491.32 h3.6 M169.37 494.59 h3.6 M174.24 494.73 V497.99 M172.44 494.73 h3.6 M172.44 497.99 h3.6 M177.3 497.72 V500.99 M175.5 497.72 h3.6 M175.5 500.99 h3.6 M180.37 500.17 V503.44 M178.57 500.17 h3.6 M178.57 503.44 h3.6 M183.44 502.22 V505.49 M181.64 502.22 h3.6 M181.64 505.49 h3.6 M186.51 502.9 V506.17 M184.71 502.9 h3.6 M184.71 506.17 h3.6 M189.57 502.35 V505.62 M187.77 502.35 h3.6 M187.77 505.62 h3.6 M192.64 501.26 V504.53 M190.84 501.26 h3.6 M190.84 504.53 h3.6 M195.71 500.45 V503.72 M193.91 500.45 h3.6 M193.91 503.72 h3.6 M198.78 499.63 V502.9 M196.97 499.63 h3.6 M196.97 502.9 h3.6 M201.84 499.63 V502.9 M200.04 499.63 h3.6 M200.04 502.9 h3.6 M204.91 499.22 V502.49 M203.11 499.22 h3.6 M203.11 502.49 h3.6 M207.98 496.5 V499.77 M206.18 496.5 h3.6 M206.18 499.77 h3.6 M211.05 490.37 V493.64 M209.25 490.37 h3.6 M209.25 493.64 h3.6 M214.11 478.11 V481.38 M212.31 478.11 h3.6 M212.31 481.38 h3.6 " stroke="#ee4040" stroke-width="1.25" fill="none"/>
<path d="M45.4 518.56 L48.47 518.56 L51.53 519.24 L54.6 520.6 L57.67 521.97 L60.74 522.24 L63.8 521.97 L66.87 520.88 L69.94 519.24 L73.01 517.2 L76.08 514.48 L79.14 511.34 L82.21 507.67 L85.28 503.17 L88.34 498.13 L91.41 492.68 L94.48 485.87 L97.55 479.06 L100.62 472.25 L103.68 466.12 L106.75 460 L109.82 454.55 L112.88 448.42 L115.95 442.29 L119.02 436.84 L122.09 432.07 L125.16 428.67 L128.22 425.94 L131.29 423.9 L134.36 422.54 L137.43 423.22 L140.49 425.94 L143.56 427.31 L146.63 427.99 L149.69 428.67 L152.76 429.35 L155.83 430.03 L158.9 430.71 L161.97 431.39 L165.03 435.48 L168.1 442.29 L171.17 451.14 L174.24 459.31 L177.3 467.49 L180.37 474.98 L183.44 481.11 L186.51 485.87 L189.57 489.96 L192.64 493.36 L195.71 496.09 L198.78 498.13 L201.84 499.49 L204.91 499.9 L207.98 498.81 L211.05 494.73 L214.11 489.28" fill="none" stroke="#18c4cc" stroke-width="2.3" stroke-linejoin="round"/>
<path d="M45.4 515.56 V521.56 M43.6 515.56 h3.6 M43.6 521.56 h3.6 M48.47 515.56 V521.56 M46.67 515.56 h3.6 M46.67 521.56 h3.6 M51.53 516.25 V522.24 M49.73 516.25 h3.6 M49.73 522.24 h3.6 M54.6 517.61 V523.6 M52.8 517.61 h3.6 M52.8 523.6 h3.6 M57.67 518.97 V524.96 M55.87 518.97 h3.6 M55.87 524.96 h3.6 M60.74 519.24 V525.23 M58.94 519.24 h3.6 M58.94 525.23 h3.6 M63.8 518.97 V524.96 M62.01 518.97 h3.6 M62.01 524.96 h3.6 M66.87 517.88 V523.87 M65.07 517.88 h3.6 M65.07 523.87 h3.6 M69.94 516.25 V522.24 M68.14 516.25 h3.6 M68.14 522.24 h3.6 M73.01 514.2 V520.2 M71.21 514.2 h3.6 M71.21 520.2 h3.6 M76.08 511.48 V517.47 M74.28 511.48 h3.6 M74.28 517.47 h3.6 M79.14 508.35 V514.34 M77.34 508.35 h3.6 M77.34 514.34 h3.6 M82.21 504.67 V510.66 M80.41 504.67 h3.6 M80.41 510.66 h3.6 M85.28 500.17 V506.17 M83.48 500.17 h3.6 M83.48 506.17 h3.6 M88.34 495.13 V501.13 M86.55 495.13 h3.6 M86.55 501.13 h3.6 M91.41 489.69 V495.68 M89.61 489.69 h3.6 M89.61 495.68 h3.6 M94.48 482.88 V488.87 M92.68 482.88 h3.6 M92.68 488.87 h3.6 M97.55 476.07 V482.06 M95.75 476.07 h3.6 M95.75 482.06 h3.6 M100.62 469.26 V475.25 M98.82 469.26 h3.6 M98.82 475.25 h3.6 M103.68 463.13 V469.12 M101.88 463.13 h3.6 M101.88 469.12 h3.6 M106.75 457 V462.99 M104.95 457 h3.6 M104.95 462.99 h3.6 M109.82 451.55 V457.54 M108.02 451.55 h3.6 M108.02 457.54 h3.6 M112.88 442.29 V454.55 M111.08 442.29 h3.6 M111.08 454.55 h3.6 M115.95 436.16 V448.42 M114.15 436.16 h3.6 M114.15 448.42 h3.6 M119.02 430.71 V442.97 M117.22 430.71 h3.6 M117.22 442.97 h3.6 M122.09 425.94 V438.2 M120.29 425.94 h3.6 M120.29 438.2 h3.6 M125.16 422.54 V434.8 M123.36 422.54 h3.6 M123.36 434.8 h3.6 M128.22 419.82 V432.07 M126.42 419.82 h3.6 M126.42 432.07 h3.6 M131.29 417.77 V430.03 M129.49 417.77 h3.6 M129.49 430.03 h3.6 M134.36 416.41 V428.67 M132.56 416.41 h3.6 M132.56 428.67 h3.6 M137.43 417.09 V429.35 M135.62 417.09 h3.6 M135.62 429.35 h3.6 M140.49 419.82 V432.07 M138.69 419.82 h3.6 M138.69 432.07 h3.6 M143.56 421.18 V433.44 M141.76 421.18 h3.6 M141.76 433.44 h3.6 M146.63 421.86 V434.12 M144.83 421.86 h3.6 M144.83 434.12 h3.6 M149.69 422.54 V434.8 M147.89 422.54 h3.6 M147.89 434.8 h3.6 M152.76 423.22 V435.48 M150.96 423.22 h3.6 M150.96 435.48 h3.6 M155.83 423.9 V436.16 M154.03 423.9 h3.6 M154.03 436.16 h3.6 M158.9 424.58 V436.84 M157.1 424.58 h3.6 M157.1 436.84 h3.6 M161.97 425.26 V437.52 M160.16 425.26 h3.6 M160.16 437.52 h3.6 M165.03 432.48 V438.48 M163.23 432.48 h3.6 M163.23 438.48 h3.6 M168.1 439.29 V445.29 M166.3 439.29 h3.6 M166.3 445.29 h3.6 M171.17 448.15 V454.14 M169.37 448.15 h3.6 M169.37 454.14 h3.6 M174.24 456.32 V462.31 M172.44 456.32 h3.6 M172.44 462.31 h3.6 M177.3 464.49 V470.48 M175.5 464.49 h3.6 M175.5 470.48 h3.6 M180.37 471.98 V477.97 M178.57 471.98 h3.6 M178.57 477.97 h3.6 M183.44 478.11 V484.1 M181.64 478.11 h3.6 M181.64 484.1 h3.6 M186.51 482.88 V488.87 M184.71 482.88 h3.6 M184.71 488.87 h3.6 M189.57 486.96 V492.96 M187.77 486.96 h3.6 M187.77 492.96 h3.6 M192.64 490.37 V496.36 M190.84 490.37 h3.6 M190.84 496.36 h3.6 M195.71 493.09 V499.08 M193.91 493.09 h3.6 M193.91 499.08 h3.6 M198.78 495.13 V501.13 M196.97 495.13 h3.6 M196.97 501.13 h3.6 M201.84 496.5 V502.49 M200.04 496.5 h3.6 M200.04 502.49 h3.6 M204.91 496.91 V502.9 M203.11 496.91 h3.6 M203.11 502.9 h3.6 M207.98 495.82 V501.81 M206.18 495.82 h3.6 M206.18 501.81 h3.6 M211.05 491.73 V497.72 M209.25 491.73 h3.6 M209.25 497.72 h3.6 M214.11 486.28 V492.27 M212.31 486.28 h3.6 M212.31 492.27 h3.6 " stroke="#18c4cc" stroke-width="1.25" fill="none"/>
</g>
<rect x="45" y="395.3" width="169.1" height="136.2" fill="none" stroke="#000" stroke-width="1.6" />
<line x1="42.3" y1="531.5" x2="44.4" y2="531.5" stroke="#000" stroke-width="1.8" />
<text x="41" y="535.1" font-size="10" text-anchor="end">0.0</text>
<line x1="42.3" y1="504.26" x2="44.4" y2="504.26" stroke="#000" stroke-width="1.8" />
<text x="41" y="507.86" font-size="10" text-anchor="end">0.2</text>
<line x1="42.3" y1="477.02" x2="44.4" y2="477.02" stroke="#000" stroke-width="1.8" />
<text x="41" y="480.62" font-size="10" text-anchor="end">0.4</text>
<line x1="42.3" y1="449.78" x2="44.4" y2="449.78" stroke="#000" stroke-width="1.8" />
<text x="41" y="453.38" font-size="10" text-anchor="end">0.6</text>
<line x1="42.3" y1="422.54" x2="44.4" y2="422.54" stroke="#000" stroke-width="1.8" />
<text x="41" y="426.14" font-size="10" text-anchor="end">0.8</text>
<line x1="42.3" y1="395.3" x2="44.4" y2="395.3" stroke="#000" stroke-width="1.8" />
<text x="41" y="398.9" font-size="10" text-anchor="end">1.0</text>
<line x1="43.4" y1="517.88" x2="44.4" y2="517.88" stroke="#000" stroke-width="1.5" />
<line x1="43.4" y1="490.64" x2="44.4" y2="490.64" stroke="#000" stroke-width="1.5" />
<line x1="43.4" y1="463.4" x2="44.4" y2="463.4" stroke="#000" stroke-width="1.5" />
<line x1="43.4" y1="436.16" x2="44.4" y2="436.16" stroke="#000" stroke-width="1.5" />
<line x1="43.4" y1="408.92" x2="44.4" y2="408.92" stroke="#000" stroke-width="1.5" />
<line x1="45.4" y1="532.1" x2="45.4" y2="534.4" stroke="#000" stroke-width="1.8" />
<text x="46.6" y="545.8" font-size="10" text-anchor="middle">550</text>
<line x1="76.08" y1="532.1" x2="76.08" y2="534.4" stroke="#000" stroke-width="1.8" />
<text x="77.28" y="545.8" font-size="10" text-anchor="middle">600</text>
<line x1="106.75" y1="532.1" x2="106.75" y2="534.4" stroke="#000" stroke-width="1.8" />
<text x="107.95" y="545.8" font-size="10" text-anchor="middle">650</text>
<line x1="137.43" y1="532.1" x2="137.43" y2="534.4" stroke="#000" stroke-width="1.8" />
<text x="138.62" y="545.8" font-size="10" text-anchor="middle">700</text>
<line x1="168.1" y1="532.1" x2="168.1" y2="534.4" stroke="#000" stroke-width="1.8" />
<text x="169.3" y="545.8" font-size="10" text-anchor="middle">750</text>
<line x1="198.78" y1="532.1" x2="198.78" y2="534.4" stroke="#000" stroke-width="1.8" />
<text x="199.97" y="545.8" font-size="10" text-anchor="middle">800</text>
<line x1="60.74" y1="532.1" x2="60.74" y2="533.2" stroke="#000" stroke-width="1.5" />
<line x1="91.41" y1="532.1" x2="91.41" y2="533.2" stroke="#000" stroke-width="1.5" />
<line x1="122.09" y1="532.1" x2="122.09" y2="533.2" stroke="#000" stroke-width="1.5" />
<line x1="152.76" y1="532.1" x2="152.76" y2="533.2" stroke="#000" stroke-width="1.5" />
<line x1="183.44" y1="532.1" x2="183.44" y2="533.2" stroke="#000" stroke-width="1.5" />
<line x1="214.11" y1="532.1" x2="214.11" y2="533.2" stroke="#000" stroke-width="1.5" />
<text x="129.2" y="556.6" font-size="11.7" text-anchor="middle">Wavelength (nm)</text>
<text x="19" y="463.4" font-size="10.2" text-anchor="middle" transform="rotate(-90 19 463.4)">Relative FI Int. (&#955;<tspan font-size="6" dy="1.8">ex</tspan><tspan dy="-1.8"> = 490 nm)</tspan></text>
<line x1="53.1" y1="405.7" x2="69.8" y2="405.7" stroke="#585858" stroke-width="1.8" />
<text x="82.8" y="409.2" font-size="10.6" text-anchor="middle">(i)</text>
<line x1="53.1" y1="419.7" x2="69.8" y2="419.7" stroke="#ee4040" stroke-width="1.8" />
<text x="82.8" y="423.2" font-size="10.6" text-anchor="middle">(ii)</text>
<line x1="53.1" y1="433.6" x2="69.8" y2="433.6" stroke="#2864d8" stroke-width="1.8" />
<text x="82.8" y="437.1" font-size="10.6" text-anchor="middle">(iii)</text>
<line x1="53.1" y1="447.6" x2="69.8" y2="447.6" stroke="#3aaa68" stroke-width="1.8" />
<text x="82.8" y="451.1" font-size="10.6" text-anchor="middle">(iv)</text>
<line x1="53.1" y1="461.4" x2="69.8" y2="461.4" stroke="#b57ce0" stroke-width="1.8" />
<text x="82.8" y="464.9" font-size="10.6" text-anchor="middle">(v)</text>
<line x1="53.1" y1="475.3" x2="69.8" y2="475.3" stroke="#c8960c" stroke-width="1.8" />
<text x="82.8" y="478.8" font-size="10.6" text-anchor="middle">(vi)</text>
<line x1="53.1" y1="489.2" x2="69.8" y2="489.2" stroke="#18c4cc" stroke-width="1.8" />
<text x="82.8" y="492.7" font-size="10.6" text-anchor="middle">(vii)</text>
</g>
<g id="pd">
<text x="247.7" y="374.3" font-size="9.6">d</text>
<text x="285.9" y="389.6" font-size="10.2">x10<tspan font-size="5.92" dy="-4.08">5</tspan><tspan dy="4.08"> (arb. units)</tspan></text>
<rect x="289.8" y="514.48" width="15.3" height="17.02" fill="#585858" stroke="#000" stroke-width="1.4" />
<circle cx="293.85" cy="515.43" r="2.15" fill="#fbcfa6" stroke="#111" stroke-width="0.95"/><circle cx="297.45" cy="513.11" r="2.15" fill="#fbcfa6" stroke="#111" stroke-width="0.95"/><circle cx="301.25" cy="514.07" r="2.15" fill="#fbcfa6" stroke="#111" stroke-width="0.95"/>
<rect x="313.7" y="468.85" width="15.3" height="62.65" fill="#ff0000" stroke="#000" stroke-width="1.4" />
<circle cx="317.55" cy="467.49" r="2.15" fill="#fbcfa6" stroke="#111" stroke-width="0.95"/><circle cx="321.35" cy="469.94" r="2.15" fill="#fbcfa6" stroke="#111" stroke-width="0.95"/><circle cx="325.15" cy="468.58" r="2.15" fill="#fbcfa6" stroke="#111" stroke-width="0.95"/>
<rect x="337.6" y="510.8" width="15.3" height="20.7" fill="#0000ff" stroke="#000" stroke-width="1.4" />
<circle cx="341.45" cy="509.98" r="2.15" fill="#fbcfa6" stroke="#111" stroke-width="0.95"/><circle cx="345.25" cy="509.03" r="2.15" fill="#fbcfa6" stroke="#111" stroke-width="0.95"/><circle cx="349.05" cy="509.98" r="2.15" fill="#fbcfa6" stroke="#111" stroke-width="0.95"/>
<rect x="361.8" y="502.63" width="15.3" height="28.87" fill="#00ee00" stroke="#000" stroke-width="1.4" />
<circle cx="365.05" cy="502.63" r="2.15" fill="#fbcfa6" stroke="#111" stroke-width="0.95"/><circle cx="369.25" cy="504.53" r="2.15" fill="#fbcfa6" stroke="#111" stroke-width="0.95"/><circle cx="373.65" cy="499.9" r="2.15" fill="#fbcfa6" stroke="#111" stroke-width="0.95"/>
<rect x="385.8" y="510.66" width="15.3" height="20.84" fill="#ff00ff" stroke="#000" stroke-width="1.4" />
<circle cx="389.25" cy="511.34" r="2.15" fill="#fbcfa6" stroke="#111" stroke-width="0.95"/><circle cx="393.45" cy="507.26" r="2.15" fill="#fbcfa6" stroke="#111" stroke-width="0.95"/><circle cx="397.65" cy="510.39" r="2.15" fill="#fbcfa6" stroke="#111" stroke-width="0.95"/>
<rect x="409.8" y="509.44" width="15.3" height="22.06" fill="#ffff00" stroke="#000" stroke-width="1.4" />
<circle cx="413.05" cy="506.98" r="2.15" fill="#fbcfa6" stroke="#111" stroke-width="0.95"/><circle cx="417.45" cy="508.35" r="2.15" fill="#fbcfa6" stroke="#111" stroke-width="0.95"/><circle cx="421.85" cy="509.44" r="2.15" fill="#fbcfa6" stroke="#111" stroke-width="0.95"/>
<rect x="434" y="424.58" width="15.3" height="106.92" fill="#00ffff" stroke="#000" stroke-width="1.4" />
<path d="M441.65 424.58 V419.13 M438.65 419.13 h6" stroke="#000" stroke-width="0.9" fill="none"/><circle cx="438.05" cy="423.22" r="2.15" fill="#fbcfa6" stroke="#111" stroke-width="0.95"/><circle cx="441.35" cy="419.13" r="2.15" fill="#fbcfa6" stroke="#111" stroke-width="0.95"/><circle cx="445.65" cy="432.07" r="2.15" fill="#fbcfa6" stroke="#111" stroke-width="0.95"/>
<rect x="284.95" y="395.3" width="169.25" height="136.2" fill="none" stroke="#000" stroke-width="1.6" />
<line x1="282.25" y1="531.5" x2="284.35" y2="531.5" stroke="#000" stroke-width="1.8" />
<text x="281.75" y="535.4" font-size="11" text-anchor="end">0.0</text>
<line x1="282.25" y1="504.26" x2="284.35" y2="504.26" stroke="#000" stroke-width="1.8" />
<text x="281.75" y="508.16" font-size="11" text-anchor="end">0.2</text>
<line x1="282.25" y1="477.02" x2="284.35" y2="477.02" stroke="#000" stroke-width="1.8" />
<text x="281.75" y="480.92" font-size="11" text-anchor="end">0.4</text>
<line x1="282.25" y1="449.78" x2="284.35" y2="449.78" stroke="#000" stroke-width="1.8" />
<text x="281.75" y="453.68" font-size="11" text-anchor="end">0.6</text>
<line x1="282.25" y1="422.54" x2="284.35" y2="422.54" stroke="#000" stroke-width="1.8" />
<text x="281.75" y="426.44" font-size="11" text-anchor="end">0.8</text>
<line x1="282.25" y1="395.3" x2="284.35" y2="395.3" stroke="#000" stroke-width="1.8" />
<text x="281.75" y="399.2" font-size="11" text-anchor="end">1.0</text>
<line x1="283.35" y1="517.88" x2="284.35" y2="517.88" stroke="#000" stroke-width="1.5" />
<line x1="283.35" y1="490.64" x2="284.35" y2="490.64" stroke="#000" stroke-width="1.5" />
<line x1="283.35" y1="463.4" x2="284.35" y2="463.4" stroke="#000" stroke-width="1.5" />
<line x1="283.35" y1="436.16" x2="284.35" y2="436.16" stroke="#000" stroke-width="1.5" />
<line x1="283.35" y1="408.92" x2="284.35" y2="408.92" stroke="#000" stroke-width="1.5" />
<line x1="297.45" y1="532.1" x2="297.45" y2="534.4" stroke="#000" stroke-width="1.8" />
<text x="296.8" y="545.6" font-size="11.4" text-anchor="middle">(i)</text>
<line x1="321.35" y1="532.1" x2="321.35" y2="534.4" stroke="#000" stroke-width="1.8" />
<text x="321" y="545.6" font-size="11.4" text-anchor="middle">(ii)</text>
<line x1="345.25" y1="532.1" x2="345.25" y2="534.4" stroke="#000" stroke-width="1.8" />
<text x="345.2" y="545.6" font-size="11.4" text-anchor="middle">(iii)</text>
<line x1="369.45" y1="532.1" x2="369.45" y2="534.4" stroke="#000" stroke-width="1.8" />
<text x="369.3" y="545.6" font-size="11.4" text-anchor="middle">(iv)</text>
<line x1="393.45" y1="532.1" x2="393.45" y2="534.4" stroke="#000" stroke-width="1.8" />
<text x="392.8" y="545.6" font-size="11.4" text-anchor="middle">(v)</text>
<line x1="417.45" y1="532.1" x2="417.45" y2="534.4" stroke="#000" stroke-width="1.8" />
<text x="418.2" y="545.6" font-size="11.4" text-anchor="middle">(vi)</text>
<line x1="441.65" y1="532.1" x2="441.65" y2="534.4" stroke="#000" stroke-width="1.8" />
<text x="441" y="545.6" font-size="11.4" text-anchor="middle">(vii)</text>
<text x="259" y="464.5" font-size="10.2" text-anchor="middle" transform="rotate(-90 259 464.5)">Relative FI Int. (&#955;<tspan font-size="6" dy="1.8">em</tspan><tspan dy="-1.8"> = 690 nm)</tspan></text>
<path d="M298 457.6 H416.2 M359.2 457.6 V408.9 H441.8 V417.4" fill="none" stroke="#000" stroke-width="1.45" />
<text x="402.3" y="408.8" font-size="10.8" text-anchor="middle">****</text>
</g>
<g id="tb2">
<rect x="44.6" y="571.3" width="373.3" height="49.6" fill="#fff" stroke="#e8202c" stroke-width="1.5" />
<text x="232.8" y="585.7" font-size="10.2" text-anchor="middle">Here, (i) to (vii) represents I-43 alone, I-43 + A&#946;<tspan font-size="5.4" dy="2.2">42</tspan><tspan dy="-2.2"> (Fibrils), I-43 + &#945;- Syn (Mono),</tspan></text>
<text x="232.6" y="597.7" font-size="10.2" text-anchor="middle">I-43 + &#945;- Syn (Fibrils), I-43 + Tau (Mono), I-43 + Tau (Fibrils),</text>
<text x="233.7" y="609.8" font-size="10.2" text-anchor="middle">and I-43 + A&#946;<tspan font-size="5.4" dy="2.2">40</tspan><tspan dy="-2.2"> (Fibrils), respectively.</tspan></text>
</g>
<g id="pe">
<text x="474.2" y="373.8" font-size="9.6">e</text>
<text x="518" y="390.3" font-size="9.8" transform="rotate(90 518 390.3)">-6.0</text>
<line x1="521.6" y1="408.7" x2="521.6" y2="413" stroke="#222" stroke-width="1.3" />
<text x="537.3" y="390.3" font-size="9.8" transform="rotate(90 537.3 390.3)">-5.5</text>
<line x1="540.9" y1="408.7" x2="540.9" y2="413" stroke="#222" stroke-width="1.3" />
<text x="556" y="390.3" font-size="9.8" transform="rotate(90 556 390.3)">-5.0</text>
<line x1="559.6" y1="408.7" x2="559.6" y2="413" stroke="#222" stroke-width="1.3" />
<text x="575.6" y="390.3" font-size="9.8" transform="rotate(90 575.6 390.3)">-4.5</text>
<line x1="579.2" y1="408.7" x2="579.2" y2="413" stroke="#222" stroke-width="1.3" />
<text x="594.6" y="390.3" font-size="9.8" transform="rotate(90 594.6 390.3)">-4.0</text>
<line x1="598.2" y1="408.7" x2="598.2" y2="413" stroke="#222" stroke-width="1.3" />
<text x="613.2" y="390.3" font-size="9.8" transform="rotate(90 613.2 390.3)">-3.5</text>
<line x1="616.8" y1="408.7" x2="616.8" y2="413" stroke="#222" stroke-width="1.3" />
<text x="633" y="390.3" font-size="9.8" transform="rotate(90 633 390.3)">-3.0</text>
<line x1="636.6" y1="408.7" x2="636.6" y2="413" stroke="#222" stroke-width="1.3" />
<path d="M500.7 412.9 H642.2 V407.4 L657.2 417.7 L642.2 428.2 V423.2 H500.7 Z" fill="#ea3a2f" />
<text x="581.8" y="420" font-size="10.2" text-anchor="middle">Energy (ev)</text>
<text x="491" y="416.4" font-size="10.2" text-anchor="middle" transform="rotate(-90 491 416.4)">HOMO</text>
<text x="665.9" y="415.2" font-size="10" text-anchor="middle" transform="rotate(-90 665.9 415.2)">LUMO</text>
<line x1="536.6" y1="426.3" x2="536.6" y2="457.2" stroke="#b00f6c" stroke-width="1.5" stroke-dasharray="1.9 2.1"/>
<line x1="626" y1="426.3" x2="626" y2="457.2" stroke="#b00f6c" stroke-width="1.5" stroke-dasharray="1.9 2.1"/>
<text x="547.2" y="453" font-size="9.4" transform="rotate(-90 547.2 453)">-5.691</text>
<text x="621" y="453" font-size="9.4" transform="rotate(-90 621 453)">-3.346</text>
<line x1="548" y1="441.1" x2="605" y2="441.1" stroke="#2b2f9c" stroke-width="1.6" />
<path d="M613.6 441 L600.8 435.3 L603.8 441 L600.8 446.4 Z" fill="#2b2f9c" />
<text x="574.4" y="452.3" font-size="10.1" text-anchor="middle"><tspan font-style="italic">&#916;E</tspan> = 2.351</text>
<g>
<line x1="504.8" y1="433.5" x2="508" y2="431" stroke="#b0b0b0" stroke-width="0.9" />
<line x1="508" y1="431" x2="515" y2="438" stroke="#b0b0b0" stroke-width="0.9" />
<line x1="515" y1="438" x2="519" y2="447" stroke="#b0b0b0" stroke-width="0.9" />
<line x1="519" y1="447" x2="514" y2="452" stroke="#b0b0b0" stroke-width="0.9" />
<line x1="514" y1="452" x2="509" y2="466" stroke="#b0b0b0" stroke-width="0.9" />
<line x1="509" y1="466" x2="515" y2="478" stroke="#b0b0b0" stroke-width="0.9" />
<line x1="515" y1="478" x2="521" y2="491" stroke="#b0b0b0" stroke-width="0.9" />
<line x1="521" y1="491" x2="527" y2="494" stroke="#b0b0b0" stroke-width="0.9" />
<line x1="527" y1="494" x2="531" y2="492" stroke="#b0b0b0" stroke-width="0.9" />
<line x1="521" y1="491" x2="524" y2="503" stroke="#b0b0b0" stroke-width="0.9" />
<line x1="524" y1="503" x2="529.3" y2="514.5" stroke="#b0b0b0" stroke-width="0.9" />
<line x1="529.3" y1="514.5" x2="537.4" y2="517.2" stroke="#b0b0b0" stroke-width="0.9" />
<line x1="537.4" y1="517.2" x2="539.2" y2="524.4" stroke="#b0b0b0" stroke-width="0.9" />
<line x1="539.2" y1="524.4" x2="532.9" y2="528.9" stroke="#b0b0b0" stroke-width="0.9" />
<line x1="532.9" y1="528.9" x2="526.6" y2="527.1" stroke="#b0b0b0" stroke-width="0.9" />
<line x1="526.6" y1="527.1" x2="524.4" y2="519.9" stroke="#b0b0b0" stroke-width="0.9" />
<line x1="524.4" y1="519.9" x2="529.3" y2="514.5" stroke="#b0b0b0" stroke-width="0.9" />
<line x1="528.9" y1="539.8" x2="528.4" y2="548.5" stroke="#b0b0b0" stroke-width="0.9" />
<line x1="526.6" y1="527.1" x2="521.2" y2="534.9" stroke="#d8c070" stroke-width="0.9" />
<line x1="521.2" y1="534.9" x2="528.9" y2="539.8" stroke="#d8c070" stroke-width="0.9" />
<line x1="532.9" y1="528.9" x2="535.1" y2="537.1" stroke="#a8a8d8" stroke-width="0.9" />
<line x1="535.1" y1="537.1" x2="528.9" y2="539.8" stroke="#a8a8d8" stroke-width="0.9" />
<line x1="528.4" y1="548.5" x2="528" y2="554.2" stroke="#a8a8d8" stroke-width="0.9" />
<circle cx="504.8" cy="433.5" r="2.15" fill="url(#gGY)"/><circle cx="508" cy="431" r="2.15" fill="url(#gGY)"/><circle cx="515" cy="438" r="2.15" fill="url(#gGY)"/><circle cx="519" cy="447" r="2.15" fill="url(#gGY)"/><circle cx="514" cy="452" r="2.15" fill="url(#gGY)"/><circle cx="520" cy="455" r="2.15" fill="url(#gGY)"/><circle cx="509" cy="466" r="2.15" fill="url(#gGY)"/><circle cx="515" cy="478" r="2.15" fill="url(#gGY)"/><circle cx="521" cy="491" r="2.15" fill="url(#gGY)"/><circle cx="527" cy="494" r="2.15" fill="url(#gGY)"/><circle cx="531" cy="492" r="2.15" fill="url(#gGY)"/><circle cx="524" cy="503" r="2.15" fill="url(#gGY)"/><circle cx="529.3" cy="514.5" r="2.15" fill="url(#gGY)"/><circle cx="537.4" cy="517.2" r="2.15" fill="url(#gGY)"/><circle cx="539.2" cy="524.4" r="2.15" fill="url(#gGY)"/><circle cx="532.9" cy="528.9" r="2.15" fill="url(#gGY)"/><circle cx="526.6" cy="527.1" r="2.15" fill="url(#gGY)"/><circle cx="524.4" cy="519.9" r="2.15" fill="url(#gGY)"/><circle cx="528.9" cy="539.8" r="2.15" fill="url(#gGY)"/><circle cx="528.4" cy="548.5" r="2.15" fill="url(#gGY)"/><circle cx="541" cy="513.6" r="1.35" fill="url(#gWH)"/><circle cx="544.3" cy="525.7" r="1.35" fill="url(#gWH)"/><circle cx="519.4" cy="519" r="1.35" fill="url(#gWH)"/><circle cx="497.5" cy="445" r="1.35" fill="url(#gWH)"/><circle cx="497" cy="457.5" r="1.35" fill="url(#gWH)"/><circle cx="502" cy="469.5" r="1.35" fill="url(#gWH)"/><circle cx="506.5" cy="482.2" r="1.35" fill="url(#gWH)"/><circle cx="512.2" cy="494.4" r="1.35" fill="url(#gWH)"/><circle cx="527.8" cy="449.7" r="1.35" fill="url(#gWH)"/><circle cx="532.8" cy="445" r="1.35" fill="url(#gWH)"/><circle cx="528.8" cy="452.2" r="1.35" fill="url(#gWH)"/><circle cx="522" cy="460" r="1.35" fill="url(#gWH)"/><circle cx="519.5" cy="427" r="1.35" fill="url(#gWH)"/><circle cx="521.2" cy="534.9" r="2.5" fill="url(#gYE)"/><circle cx="535.1" cy="537.1" r="2.3" fill="url(#gBL)"/><circle cx="528" cy="554.2" r="2.3" fill="url(#gBL)"/>
<ellipse cx="498.6" cy="431.3" rx="3.6" ry="3.4" fill="url(#gGR)" transform="rotate(0 498.6 431.3)"/><ellipse cx="505.3" cy="428.6" rx="2.4" ry="5.2" fill="url(#gDR)" transform="rotate(10 505.3 428.6)"/><ellipse cx="516.2" cy="428.4" rx="2.4" ry="4.2" fill="url(#gDR)" transform="rotate(10 516.2 428.4)"/><ellipse cx="512.2" cy="434.2" rx="6.2" ry="4.8" fill="url(#gGR)" transform="rotate(10 512.2 434.2)"/><ellipse cx="508.8" cy="445.8" rx="10.2" ry="6" fill="url(#gDR)" transform="rotate(18 508.8 445.8)"/><ellipse cx="522.2" cy="444" rx="3.4" ry="3.6" fill="url(#gGR)" transform="rotate(0 522.2 444)"/><ellipse cx="505.8" cy="458.6" rx="9.6" ry="5.8" fill="url(#gGR)" transform="rotate(-8 505.8 458.6)"/><ellipse cx="512.3" cy="471" rx="7.2" ry="5.2" fill="url(#gDR)" transform="rotate(28 512.3 471)"/><ellipse cx="518" cy="484.8" rx="6" ry="5.8" fill="url(#gGR)" transform="rotate(20 518 484.8)"/><ellipse cx="524" cy="498" rx="4.8" ry="6.4" fill="url(#gDR)" transform="rotate(10 524 498)"/><ellipse cx="536.3" cy="491" rx="3.4" ry="3.2" fill="url(#gGR)" transform="rotate(0 536.3 491)"/><ellipse cx="516.7" cy="507.2" rx="2.9" ry="2.6" fill="url(#gGR)" transform="rotate(0 516.7 507.2)"/><ellipse cx="529" cy="508.2" rx="2.2" ry="2.2" fill="url(#gGR)" transform="rotate(0 529 508.2)"/></g>
<g>
<line x1="640.2" y1="435.8" x2="647.5" y2="438" stroke="#b0b0b0" stroke-width="0.9" />
<line x1="647.5" y1="438" x2="652.3" y2="433.1" stroke="#b0b0b0" stroke-width="0.9" />
<line x1="647.5" y1="438" x2="643" y2="449" stroke="#b0b0b0" stroke-width="0.9" />
<line x1="643" y1="449" x2="651" y2="450" stroke="#b0b0b0" stroke-width="0.9" />
<line x1="643" y1="449" x2="644" y2="458" stroke="#b0b0b0" stroke-width="0.9" />
<line x1="644" y1="458" x2="644" y2="468" stroke="#b0b0b0" stroke-width="0.9" />
<line x1="644" y1="468" x2="648.5" y2="480" stroke="#b0b0b0" stroke-width="0.9" />
<line x1="648.5" y1="480" x2="654" y2="492" stroke="#b0b0b0" stroke-width="0.9" />
<line x1="654" y1="492" x2="662" y2="501" stroke="#b0b0b0" stroke-width="0.9" />
<line x1="662" y1="501" x2="667" y2="512" stroke="#b0b0b0" stroke-width="0.9" />
<line x1="667" y1="512" x2="667.3" y2="517.2" stroke="#b0b0b0" stroke-width="0.9" />
<line x1="667.3" y1="517.2" x2="673.6" y2="518.4" stroke="#b0b0b0" stroke-width="0.9" />
<line x1="673.6" y1="518.4" x2="676" y2="525.3" stroke="#b0b0b0" stroke-width="0.9" />
<line x1="676" y1="525.3" x2="670.4" y2="530.7" stroke="#b0b0b0" stroke-width="0.9" />
<line x1="670.4" y1="530.7" x2="663.1" y2="528.6" stroke="#b0b0b0" stroke-width="0.9" />
<line x1="663.1" y1="528.6" x2="661.3" y2="521.7" stroke="#b0b0b0" stroke-width="0.9" />
<line x1="661.3" y1="521.7" x2="667.3" y2="517.2" stroke="#b0b0b0" stroke-width="0.9" />
<line x1="665.5" y1="541.6" x2="665.5" y2="549.2" stroke="#b0b0b0" stroke-width="0.9" />
<line x1="651" y1="450" x2="658.6" y2="447.2" stroke="#b0b0b0" stroke-width="0.9" />
<line x1="658.6" y1="447.2" x2="665.5" y2="450.3" stroke="#b0b0b0" stroke-width="0.9" />
<line x1="663.1" y1="528.6" x2="657.9" y2="536.2" stroke="#d8c070" stroke-width="0.9" />
<line x1="657.9" y1="536.2" x2="665.5" y2="541.6" stroke="#d8c070" stroke-width="0.9" />
<line x1="670.4" y1="530.7" x2="672.2" y2="538" stroke="#a8a8d8" stroke-width="0.9" />
<line x1="672.2" y1="538" x2="665.5" y2="541.6" stroke="#a8a8d8" stroke-width="0.9" />
<line x1="665.5" y1="549.2" x2="664.6" y2="554.6" stroke="#a8a8d8" stroke-width="0.9" />
<circle cx="640.2" cy="435.8" r="2.15" fill="url(#gGY)"/><circle cx="647.5" cy="438" r="2.15" fill="url(#gGY)"/><circle cx="652.3" cy="433.1" r="2.15" fill="url(#gGY)"/><circle cx="643" cy="449" r="2.15" fill="url(#gGY)"/><circle cx="651" cy="450" r="2.15" fill="url(#gGY)"/><circle cx="644" cy="458" r="2.15" fill="url(#gGY)"/><circle cx="644" cy="468" r="2.15" fill="url(#gGY)"/><circle cx="648.5" cy="480" r="2.15" fill="url(#gGY)"/><circle cx="654" cy="492" r="2.15" fill="url(#gGY)"/><circle cx="662" cy="501" r="2.15" fill="url(#gGY)"/><circle cx="667" cy="512" r="2.15" fill="url(#gGY)"/><circle cx="667.3" cy="517.2" r="2.15" fill="url(#gGY)"/><circle cx="673.6" cy="518.4" r="2.15" fill="url(#gGY)"/><circle cx="676" cy="525.3" r="2.15" fill="url(#gGY)"/><circle cx="670.4" cy="530.7" r="2.15" fill="url(#gGY)"/><circle cx="663.1" cy="528.6" r="2.15" fill="url(#gGY)"/><circle cx="661.3" cy="521.7" r="2.15" fill="url(#gGY)"/><circle cx="665.5" cy="541.6" r="2.15" fill="url(#gGY)"/><circle cx="665.5" cy="549.2" r="2.15" fill="url(#gGY)"/><circle cx="652.3" cy="433.1" r="2.15" fill="url(#gGY)"/><circle cx="658.6" cy="447.2" r="2.15" fill="url(#gGY)"/><circle cx="665.5" cy="450.3" r="2.15" fill="url(#gGY)"/><circle cx="636.5" cy="432.5" r="1.35" fill="url(#gWH)"/><circle cx="639.3" cy="439.8" r="1.35" fill="url(#gWH)"/><circle cx="641.5" cy="430" r="1.35" fill="url(#gWH)"/><circle cx="650" cy="430.5" r="1.35" fill="url(#gWH)"/><circle cx="655" cy="434.5" r="1.35" fill="url(#gWH)"/><circle cx="653" cy="428.5" r="1.35" fill="url(#gWH)"/><circle cx="634.5" cy="446.5" r="1.35" fill="url(#gWH)"/><circle cx="633.5" cy="459" r="1.35" fill="url(#gWH)"/><circle cx="655" cy="462" r="1.35" fill="url(#gWH)"/><circle cx="655.5" cy="472" r="1.35" fill="url(#gWH)"/><circle cx="660" cy="484" r="1.35" fill="url(#gWH)"/><circle cx="662.5" cy="444.5" r="1.35" fill="url(#gWH)"/><circle cx="668.3" cy="446" r="1.35" fill="url(#gWH)"/><circle cx="669" cy="454.5" r="1.35" fill="url(#gWH)"/><circle cx="664" cy="455" r="1.35" fill="url(#gWH)"/><circle cx="655.5" cy="519.5" r="1.35" fill="url(#gWH)"/><circle cx="679" cy="515" r="1.35" fill="url(#gWH)"/><circle cx="682" cy="527" r="1.35" fill="url(#gWH)"/><circle cx="658.6" cy="447.2" r="1.9" fill="url(#gRD)"/><circle cx="657.9" cy="536.2" r="2.3" fill="url(#gYE)"/><circle cx="672.2" cy="538" r="2" fill="url(#gBL)"/><circle cx="665.5" cy="541.6" r="1.9" fill="url(#gGRs)"/><circle cx="664.6" cy="554.6" r="1.9" fill="url(#gPU)"/><circle cx="661.3" cy="521.7" r="2" fill="url(#gGRs)"/><circle cx="670.4" cy="530.7" r="1.8" fill="url(#gDRs)"/>
<ellipse cx="647.6" cy="437.6" rx="4" ry="3" fill="url(#gGR)" transform="rotate(0 647.6 437.6)"/><ellipse cx="646.6" cy="446.6" rx="5.6" ry="3.8" fill="url(#gDR)" transform="rotate(25 646.6 446.6)"/><ellipse cx="639" cy="457" rx="4.6" ry="4.4" fill="url(#gGR)" transform="rotate(0 639 457)"/><ellipse cx="651.6" cy="458" rx="4.4" ry="3.4" fill="url(#gGR)" transform="rotate(0 651.6 458)"/><ellipse cx="643.9" cy="468.8" rx="6.4" ry="5.4" fill="url(#gDR)" transform="rotate(0 643.9 468.8)"/><ellipse cx="648.9" cy="480.2" rx="7.8" ry="5.4" fill="url(#gGR)" transform="rotate(-48 648.9 480.2)"/><ellipse cx="653.8" cy="492" rx="8" ry="5" fill="url(#gDR)" transform="rotate(-52 653.8 492)"/><ellipse cx="662.5" cy="501.5" rx="8.6" ry="5.4" fill="url(#gGR)" transform="rotate(-52 662.5 501.5)"/><ellipse cx="673.7" cy="492.5" rx="4" ry="3.8" fill="url(#gDR)" transform="rotate(0 673.7 492.5)"/><ellipse cx="653.3" cy="509" rx="3.9" ry="3.9" fill="url(#gDR)" transform="rotate(0 653.3 509)"/><ellipse cx="666" cy="510.8" rx="2.9" ry="4.5" fill="url(#gDR)" transform="rotate(-10 666 510.8)"/></g>
</g>
<g id="pf">
<text x="2.2" y="656.8" font-size="9.6">f</text>
<mask id="mf" maskUnits="userSpaceOnUse" x="15" y="665" width="235" height="125"><g filter="url(#goo)" fill="#fff"><circle cx="47.3" cy="705" r="11.5"/><circle cx="42.4" cy="724.7" r="10.5"/><circle cx="49.3" cy="738.5" r="10.5"/><circle cx="57" cy="716" r="13"/><circle cx="60" cy="733" r="13"/><circle cx="75.9" cy="689.3" r="11.5"/><circle cx="84.7" cy="697" r="10"/><circle cx="70" cy="703" r="10"/><circle cx="78.8" cy="722" r="24"/><circle cx="78.8" cy="744.5" r="10.5"/><circle cx="66" cy="741" r="10"/><circle cx="92" cy="742" r="10"/><circle cx="102.5" cy="726.7" r="20.5"/><circle cx="122.2" cy="727" r="20.5"/><circle cx="110" cy="744" r="8.5"/><circle cx="126.8" cy="743" r="9.5"/><circle cx="139.6" cy="700.6" r="12"/><circle cx="139.6" cy="722.8" r="21"/><circle cx="145.5" cy="746.4" r="11"/><circle cx="138" cy="708" r="12.5"/><circle cx="158.4" cy="749" r="9.5"/><circle cx="160" cy="728" r="17"/><circle cx="174.1" cy="719.5" r="16"/><circle cx="170" cy="710.8" r="9.8"/><circle cx="183" cy="716" r="10.5"/><circle cx="180" cy="742.5" r="19.5"/><circle cx="180" cy="759.5" r="10"/><circle cx="170" cy="756.5" r="9"/><circle cx="195" cy="731.5" r="11"/><circle cx="188.5" cy="721" r="9.5"/><circle cx="201.7" cy="750.4" r="16"/><circle cx="209.6" cy="760.2" r="12.8"/><circle cx="194" cy="763" r="10"/></g></mask>
<mask id="mf2" maskUnits="userSpaceOnUse" x="15" y="665" width="235" height="125"><rect x="15" y="665" width="235" height="125" fill="#fff"/><g filter="url(#goo2)" fill="#000"><circle cx="47.3" cy="705" r="11.5"/><circle cx="42.4" cy="724.7" r="10.5"/><circle cx="49.3" cy="738.5" r="10.5"/><circle cx="57" cy="716" r="13"/><circle cx="60" cy="733" r="13"/><circle cx="75.9" cy="689.3" r="11.5"/><circle cx="84.7" cy="697" r="10"/><circle cx="70" cy="703" r="10"/><circle cx="78.8" cy="722" r="24"/><circle cx="78.8" cy="744.5" r="10.5"/><circle cx="66" cy="741" r="10"/><circle cx="92" cy="742" r="10"/><circle cx="102.5" cy="726.7" r="20.5"/><circle cx="122.2" cy="727" r="20.5"/><circle cx="110" cy="744" r="8.5"/><circle cx="126.8" cy="743" r="9.5"/><circle cx="139.6" cy="700.6" r="12"/><circle cx="139.6" cy="722.8" r="21"/><circle cx="145.5" cy="746.4" r="11"/><circle cx="138" cy="708" r="12.5"/><circle cx="158.4" cy="749" r="9.5"/><circle cx="160" cy="728" r="17"/><circle cx="174.1" cy="719.5" r="16"/><circle cx="170" cy="710.8" r="9.8"/><circle cx="183" cy="716" r="10.5"/><circle cx="180" cy="742.5" r="19.5"/><circle cx="180" cy="759.5" r="10"/><circle cx="170" cy="756.5" r="9"/><circle cx="195" cy="731.5" r="11"/><circle cx="188.5" cy="721" r="9.5"/><circle cx="201.7" cy="750.4" r="16"/><circle cx="209.6" cy="760.2" r="12.8"/><circle cx="194" cy="763" r="10"/></g></mask>
<g mask="url(#mf)">
<rect x="15" y="665" width="235" height="125" fill="url(#gsurf)" />
<g filter="url(#blur2)"><circle cx="41" cy="724" r="20" fill="#34e0dc" opacity="0.9"/><circle cx="78" cy="691" r="17" fill="#38e4e0" opacity="0.95"/><circle cx="60" cy="744" r="16" fill="#2cd6dc" opacity="0.85"/><circle cx="85" cy="750" r="12" fill="#2cd8cc" opacity="0.8"/><circle cx="110" cy="752" r="10" fill="#24d4c4" opacity="0.8"/><circle cx="125" cy="752" r="12" fill="#24cccc" opacity="0.9"/><circle cx="160" cy="759" r="10" fill="#24d4c4" opacity="0.85"/><circle cx="100" cy="707" r="10" fill="#34dca4" opacity="0.55"/><circle cx="82" cy="726" r="18" fill="#3cec34" opacity="0.85"/><circle cx="110" cy="727" r="16" fill="#40ee38" opacity="0.8"/><circle cx="175" cy="735" r="18" fill="#44ee38" opacity="0.7"/><circle cx="172" cy="708" r="10" fill="#2cdc84" opacity="0.5"/><circle cx="50" cy="704" r="10" fill="#30c48c" opacity="0.6"/><circle cx="65" cy="703" r="8" fill="#54c4a4" opacity="0.4"/><circle cx="128" cy="712" r="8" fill="#40e890" opacity="0.5"/><circle cx="139.6" cy="707" r="14" fill="#e0d024" opacity="0.9"/><circle cx="139.6" cy="698" r="11" fill="#e08420" opacity="0.95"/><circle cx="139.6" cy="691" r="9" fill="#cc4c1c" opacity="0.95"/><circle cx="146" cy="748" r="13" fill="#e8d820" opacity="0.95"/><circle cx="147.5" cy="743" r="6" fill="#e08c18" opacity="0.7"/><circle cx="197" cy="731" r="11" fill="#dcd820" opacity="0.8"/><circle cx="203" cy="750" r="16" fill="#e4cc20" opacity="0.9"/><circle cx="211" cy="764" r="11" fill="#e06c1c" opacity="0.95"/><circle cx="217" cy="769" r="7" fill="#d0441c" opacity="0.85"/><circle cx="184" cy="757" r="9" fill="#bce424" opacity="0.65"/></g>
<rect x="15" y="665" width="235" height="125" fill="#0c3c24" opacity="0.22" mask="url(#mf2)"/>
</g>
<path d="M47.3 707.2 L53 711 M47.3 707.2 L50.5 715.2 M47.3 707.2 L58.8 705.5 M53 711 L50.5 715.2 M53 711 L58.8 705.5 M50.5 715.2 L43.2 722.6 M50.5 715.2 L50 727.2 M43.2 722.6 L50 727.2 M43.2 722.6 L47.8 732.5 M50 727.2 L52.5 731.5 M50 727.2 L47.8 732.5 M52.5 731.5 L47.8 732.5 M73.8 714 L66.5 721.2 M73.8 714 L83 717.5 M66.5 721.2 L69 732 M69 732 L78 735.5 M78 735.5 L85.5 728.5 M78 735.5 L79.5 744 M85.5 728.5 L83 717.5 M85.5 728.5 L94.5 731.5 M83 717.5 L88.5 712.2 M95.5 741 L94.5 731.5 M94.5 731.5 L103 726 M103 726 L103 718 M103 726 L112.5 731 M112.5 731 L112.5 740 M112.5 731 L120.5 725 M120.5 725 L120.5 716.5 M120.5 725 L129.5 731 M120.5 725 L118.5 717 M129.5 731 L129.5 740 M129.5 731 L138.5 726 M129.5 731 L128.8 739.5 M138.5 726 L139 715 M138.5 726 L146.5 731.5 M139 715 L139.2 705.3 M146.5 731.5 L154 726.5 M154 726.5 L161.5 731.5 M161.5 731.5 L166 741 M166 741 L176 741.5 M176 741.5 L182.5 733.5 M182.5 733.5 L179 724 M179 724 L170 721 M179 724 L185 717.5 M170 721 L167.5 714 M192.5 748 L201 753.5 M201 753.5 L207.8 758.3 " stroke="#0a8a1a" stroke-width="4.5" stroke-linecap="round" fill="none" opacity="0.2" filter="url(#blur1)"/>
<path d="M47.3 707.2 L53 711 M47.3 707.2 L50.5 715.2 M47.3 707.2 L58.8 705.5 M53 711 L50.5 715.2 M53 711 L58.8 705.5 M50.5 715.2 L43.2 722.6 M50.5 715.2 L50 727.2 M43.2 722.6 L50 727.2 M43.2 722.6 L47.8 732.5 M50 727.2 L52.5 731.5 M50 727.2 L47.8 732.5 M52.5 731.5 L47.8 732.5 M73.8 714 L66.5 721.2 M73.8 714 L83 717.5 M66.5 721.2 L69 732 M69 732 L78 735.5 M78 735.5 L85.5 728.5 M78 735.5 L79.5 744 M85.5 728.5 L83 717.5 M85.5 728.5 L94.5 731.5 M83 717.5 L88.5 712.2 M95.5 741 L94.5 731.5 M94.5 731.5 L103 726 M103 726 L103 718 M103 726 L112.5 731 M112.5 731 L112.5 740 M112.5 731 L120.5 725 M120.5 725 L120.5 716.5 M120.5 725 L129.5 731 M120.5 725 L118.5 717 M129.5 731 L129.5 740 M129.5 731 L138.5 726 M129.5 731 L128.8 739.5 M138.5 726 L139 715 M138.5 726 L146.5 731.5 M139 715 L139.2 705.3 M146.5 731.5 L154 726.5 M154 726.5 L161.5 731.5 M161.5 731.5 L166 741 M166 741 L176 741.5 M176 741.5 L182.5 733.5 M182.5 733.5 L179 724 M179 724 L170 721 M179 724 L185 717.5 M170 721 L167.5 714 M192.5 748 L201 753.5 M201 753.5 L207.8 758.3 " stroke="#2e7e3a" stroke-width="0.8" fill="none" opacity="0.2"/>
<circle cx="47.3" cy="707.2" r="2.0" fill="url(#gAT2)" opacity="0.9"/><circle cx="53" cy="711" r="2.0" fill="url(#gAT2)" opacity="0.9"/><circle cx="50.5" cy="715.2" r="2.0" fill="url(#gAT2)" opacity="0.9"/><circle cx="43.2" cy="722.6" r="2.0" fill="url(#gAT2)" opacity="0.9"/><circle cx="50" cy="727.2" r="2.0" fill="url(#gAT2)" opacity="0.9"/><circle cx="52.5" cy="731.5" r="2.0" fill="url(#gAT2)" opacity="0.9"/><circle cx="47.8" cy="732.5" r="2.0" fill="url(#gAT2)" opacity="0.9"/><circle cx="58.8" cy="705.5" r="2.0" fill="url(#gAT2)" opacity="0.9"/><circle cx="73.8" cy="714" r="2.0" fill="url(#gAT)" opacity="0.9"/><circle cx="66.5" cy="721.2" r="2.0" fill="url(#gAT)" opacity="0.9"/><circle cx="69" cy="732" r="2.0" fill="url(#gAT)" opacity="0.9"/><circle cx="78" cy="735.5" r="2.0" fill="url(#gAT)" opacity="0.9"/><circle cx="85.5" cy="728.5" r="2.0" fill="url(#gAT)" opacity="0.9"/><circle cx="83" cy="717.5" r="2.0" fill="url(#gAT)" opacity="0.9"/><circle cx="88.5" cy="712.2" r="2.0" fill="url(#gAT)" opacity="0.9"/><circle cx="79.5" cy="744" r="2.0" fill="url(#gAT)" opacity="0.9"/><circle cx="95.5" cy="741" r="2.0" fill="url(#gAT)" opacity="0.9"/><circle cx="94.5" cy="731.5" r="2.0" fill="url(#gAT)" opacity="0.9"/><circle cx="103" cy="726" r="2.0" fill="url(#gAT)" opacity="0.9"/><circle cx="103" cy="718" r="2.0" fill="url(#gAT)" opacity="0.9"/><circle cx="112.5" cy="731" r="2.0" fill="url(#gAT)" opacity="0.9"/><circle cx="112.5" cy="740" r="2.0" fill="url(#gAT)" opacity="0.9"/><circle cx="120.5" cy="725" r="2.0" fill="url(#gAT)" opacity="0.9"/><circle cx="120.5" cy="716.5" r="2.0" fill="url(#gAT)" opacity="0.9"/><circle cx="129.5" cy="731" r="2.0" fill="url(#gAT)" opacity="0.9"/><circle cx="129.5" cy="740" r="2.0" fill="url(#gAT)" opacity="0.9"/><circle cx="138.5" cy="726" r="2.0" fill="url(#gAT)" opacity="0.9"/><circle cx="139" cy="715" r="2.0" fill="url(#gAT)" opacity="0.9"/><circle cx="139.2" cy="705.3" r="2.0" fill="url(#gAT)" opacity="0.9"/><circle cx="146.5" cy="731.5" r="2.0" fill="url(#gAT)" opacity="0.9"/><circle cx="154" cy="726.5" r="2.0" fill="url(#gAT)" opacity="0.9"/><circle cx="161.5" cy="731.5" r="2.0" fill="url(#gAT)" opacity="0.9"/><circle cx="166" cy="741" r="2.0" fill="url(#gAT)" opacity="0.9"/><circle cx="176" cy="741.5" r="2.0" fill="url(#gAT)" opacity="0.9"/><circle cx="182.5" cy="733.5" r="2.0" fill="url(#gAT)" opacity="0.9"/><circle cx="179" cy="724" r="2.0" fill="url(#gAT)" opacity="0.9"/><circle cx="170" cy="721" r="2.0" fill="url(#gAT)" opacity="0.9"/><circle cx="167.5" cy="714" r="2.0" fill="url(#gAT)" opacity="0.9"/><circle cx="185" cy="717.5" r="2.0" fill="url(#gAT)" opacity="0.9"/><circle cx="192.5" cy="748" r="2.0" fill="url(#gAT)" opacity="0.9"/><circle cx="201" cy="753.5" r="2.0" fill="url(#gAT)" opacity="0.9"/><circle cx="207.8" cy="758.3" r="2.0" fill="url(#gAT)" opacity="0.9"/><circle cx="128.8" cy="739.5" r="2.0" fill="url(#gAT)" opacity="0.9"/><circle cx="118.5" cy="717" r="2.0" fill="url(#gAT)" opacity="0.9"/><circle cx="74.8" cy="688.6" r="1.8" fill="url(#gWH)" opacity="0.75"/><circle cx="79" cy="694.5" r="1.8" fill="url(#gWH)" opacity="0.75"/><circle cx="83" cy="696.5" r="1.8" fill="url(#gWH)" opacity="0.75"/><circle cx="63" cy="738" r="1.8" fill="url(#gWH)" opacity="0.75"/><circle cx="44.5" cy="735" r="1.8" fill="url(#gWH)" opacity="0.75"/><circle cx="160.5" cy="747.5" r="1.8" fill="url(#gWH)" opacity="0.75"/><circle cx="57" cy="719" r="2.5" fill="#0e7cc0"/><circle cx="71" cy="704" r="2.4" fill="#8a5a2a"/><circle cx="154.3" cy="726.3" r="2.3" fill="#8a7a10"/><circle cx="146.3" cy="742.3" r="2.2" fill="#c06010"/><circle cx="191.7" cy="737.2" r="2.3" fill="#208880"/><circle cx="181.8" cy="754" r="2.4" fill="#b8d818"/>
<path d="M24.7 697.3 L27.6 692.6 L26.6 691.4 L28.3 691.3 L32.3 685.2 L38.9 697.9 Z" fill="#2a2a98" />
<path d="M25.8 746 L40.2 744.3 L34.6 757 L29.8 752.6 L28.4 753.2 L28.6 751.2 Z" fill="#2a2a98" />
<path d="M135 675.2 L149.6 675.2 L142.3 687 Z" fill="#ee1c24" />
<line x1="142.3" y1="673.4" x2="142.3" y2="676" stroke="#ee1c24" stroke-width="1.2" />
<path d="M221 767.8 L235.3 764.5 L231.4 777.8 Z" fill="#ee1c24" />
<rect x="24" y="790.8" width="205" height="12.3" fill="url(#gbar)" />
<text x="32.8" y="800.6" font-size="9.2" text-anchor="middle" style="fill:#fff" font-weight="bold">(+)</text>
<text x="222.2" y="800.4" font-size="9.2" text-anchor="middle" style="fill:#fff" font-weight="bold">(-)</text>
<text x="125.8" y="815.4" font-size="10.1" text-anchor="middle">Electrostatic potential</text>
</g>
<g id="pg">
<text x="247.6" y="657" font-size="9.6">g</text>
<rect x="284.9" y="653.9" width="214.3" height="142.8" fill="#f2fcfd" />
<rect x="288.6" y="666.8" width="13.8" height="129.9" fill="#fdc795" stroke="#303030" stroke-width="1.35" />
<rect x="310.2" y="668.62" width="13.8" height="128.08" fill="#9bd89b" stroke="#303030" stroke-width="1.35" />
<rect x="331.6" y="683.69" width="13.8" height="113.01" fill="#c4b1d9" stroke="#303030" stroke-width="1.35" />
<rect x="353.1" y="688.1" width="13.8" height="108.6" fill="#ffff9a" stroke="#303030" stroke-width="1.35" />
<rect x="374.3" y="690.7" width="13.8" height="106" fill="#95b5ee" stroke="#303030" stroke-width="1.35" />
<rect x="395.7" y="692.13" width="13.8" height="104.57" fill="#ffb4f6" stroke="#303030" stroke-width="1.35" />
<rect x="417.1" y="693.04" width="13.8" height="103.66" fill="#b2b68c" stroke="#303030" stroke-width="1.35" />
<rect x="438.3" y="697.72" width="13.8" height="98.98" fill="#afe2e9" stroke="#303030" stroke-width="1.35" />
<rect x="459.8" y="704.73" width="13.8" height="91.97" fill="#fdc795" stroke="#303030" stroke-width="1.35" />
<rect x="481.2" y="708.63" width="13.8" height="88.07" fill="#9bd89b" stroke="#303030" stroke-width="1.35" />
<line x1="284.9" y1="692.78" x2="436" y2="692.78" stroke="#111" stroke-width="1.3" stroke-dasharray="6.2 4.7"/>
<line x1="441.2" y1="692.78" x2="499.2" y2="692.78" stroke="#111" stroke-width="1.3" stroke-dasharray="8.4 4.2"/>
<rect x="291.75" y="665.05" width="3.5" height="3.5" fill="#707070" stroke="#2c2c2c" stroke-width="0.9"/><rect x="295.75" y="664.79" width="3.5" height="3.5" fill="#707070" stroke="#2c2c2c" stroke-width="0.9"/>
<rect x="314.35" y="667.65" width="3.5" height="3.5" fill="#707070" stroke="#2c2c2c" stroke-width="0.9"/><rect x="316.85" y="664.79" width="3.5" height="3.5" fill="#707070" stroke="#2c2c2c" stroke-width="0.9"/><rect x="315.85" y="668.95" width="3.5" height="3.5" fill="#707070" stroke="#2c2c2c" stroke-width="0.9"/>
<rect x="334.25" y="683.24" width="3.5" height="3.5" fill="#707070" stroke="#2c2c2c" stroke-width="0.9"/><rect x="337.25" y="681.29" width="3.5" height="3.5" fill="#707070" stroke="#2c2c2c" stroke-width="0.9"/><rect x="339.25" y="679.08" width="3.5" height="3.5" fill="#707070" stroke="#2c2c2c" stroke-width="0.9"/>
<rect x="357.75" y="684.54" width="3.5" height="3.5" fill="#707070" stroke="#2c2c2c" stroke-width="0.9"/><rect x="359.75" y="687.13" width="3.5" height="3.5" fill="#707070" stroke="#2c2c2c" stroke-width="0.9"/>
<rect x="377.95" y="688.43" width="3.5" height="3.5" fill="#707070" stroke="#2c2c2c" stroke-width="0.9"/><rect x="380.45" y="686.35" width="3.5" height="3.5" fill="#707070" stroke="#2c2c2c" stroke-width="0.9"/><rect x="380.95" y="690.38" width="3.5" height="3.5" fill="#707070" stroke="#2c2c2c" stroke-width="0.9"/>
<rect x="398.85" y="691.03" width="3.5" height="3.5" fill="#707070" stroke="#2c2c2c" stroke-width="0.9"/><rect x="401.35" y="689.21" width="3.5" height="3.5" fill="#707070" stroke="#2c2c2c" stroke-width="0.9"/><rect x="402.85" y="688.04" width="3.5" height="3.5" fill="#707070" stroke="#2c2c2c" stroke-width="0.9"/>
<rect x="421.75" y="686.87" width="3.5" height="3.5" fill="#707070" stroke="#2c2c2c" stroke-width="0.9"/><rect x="423.75" y="691.29" width="3.5" height="3.5" fill="#707070" stroke="#2c2c2c" stroke-width="0.9"/><rect x="421.75" y="700.12" width="3.5" height="3.5" fill="#707070" stroke="#2c2c2c" stroke-width="0.9"/>
<rect x="442.95" y="691.55" width="3.5" height="3.5" fill="#707070" stroke="#2c2c2c" stroke-width="0.9"/><rect x="442.95" y="695.71" width="3.5" height="3.5" fill="#707070" stroke="#2c2c2c" stroke-width="0.9"/><rect x="443.95" y="703.76" width="3.5" height="3.5" fill="#707070" stroke="#2c2c2c" stroke-width="0.9"/>
<rect x="466.45" y="698.82" width="3.5" height="3.5" fill="#707070" stroke="#2c2c2c" stroke-width="0.9"/><rect x="465.45" y="704.54" width="3.5" height="3.5" fill="#707070" stroke="#2c2c2c" stroke-width="0.9"/><rect x="464.45" y="707.92" width="3.5" height="3.5" fill="#707070" stroke="#2c2c2c" stroke-width="0.9"/>
<rect x="485.85" y="701.94" width="3.5" height="3.5" fill="#707070" stroke="#2c2c2c" stroke-width="0.9"/><rect x="485.35" y="705.97" width="3.5" height="3.5" fill="#707070" stroke="#2c2c2c" stroke-width="0.9"/><rect x="486.85" y="711.03" width="3.5" height="3.5" fill="#707070" stroke="#2c2c2c" stroke-width="0.9"/><rect x="485.85" y="708.57" width="3.5" height="3.5" fill="#707070" stroke="#2c2c2c" stroke-width="0.9"/>
<rect x="284.9" y="653.9" width="214.3" height="142.8" fill="none" stroke="#000" stroke-width="1.6" />
<line x1="281.7" y1="796.7" x2="284.3" y2="796.7" stroke="#000" stroke-width="1.8" />
<text x="278.4" y="801.8" font-size="10" text-anchor="end">0</text>
<line x1="281.7" y1="770.72" x2="284.3" y2="770.72" stroke="#000" stroke-width="1.8" />
<text x="278.4" y="775.42" font-size="10" text-anchor="end">20</text>
<line x1="281.7" y1="744.74" x2="284.3" y2="744.74" stroke="#000" stroke-width="1.8" />
<text x="278.4" y="749.14" font-size="10" text-anchor="end">40</text>
<line x1="281.7" y1="718.76" x2="284.3" y2="718.76" stroke="#000" stroke-width="1.8" />
<text x="278.4" y="722.86" font-size="10" text-anchor="end">60</text>
<line x1="281.7" y1="692.78" x2="284.3" y2="692.78" stroke="#000" stroke-width="1.8" />
<text x="278.4" y="696.58" font-size="10" text-anchor="end">80</text>
<line x1="281.7" y1="666.8" x2="284.3" y2="666.8" stroke="#000" stroke-width="1.8" />
<text x="278.4" y="670.4" font-size="10" text-anchor="end">100</text>
<line x1="282.8" y1="783.71" x2="284.3" y2="783.71" stroke="#000" stroke-width="1.5" />
<line x1="282.8" y1="757.73" x2="284.3" y2="757.73" stroke="#000" stroke-width="1.5" />
<line x1="282.8" y1="731.75" x2="284.3" y2="731.75" stroke="#000" stroke-width="1.5" />
<line x1="282.8" y1="705.77" x2="284.3" y2="705.77" stroke="#000" stroke-width="1.5" />
<line x1="282.8" y1="679.79" x2="284.3" y2="679.79" stroke="#000" stroke-width="1.5" />
<line x1="496.6" y1="770.72" x2="499.2" y2="770.72" stroke="#000" stroke-width="1.8" />
<line x1="496.6" y1="744.74" x2="499.2" y2="744.74" stroke="#000" stroke-width="1.8" />
<line x1="496.6" y1="718.76" x2="499.2" y2="718.76" stroke="#000" stroke-width="1.8" />
<line x1="496.6" y1="692.78" x2="499.2" y2="692.78" stroke="#000" stroke-width="1.8" />
<line x1="496.6" y1="666.8" x2="499.2" y2="666.8" stroke="#000" stroke-width="1.8" />
<line x1="295.5" y1="797.3" x2="295.5" y2="799.9" stroke="#000" stroke-width="1.8" />
<text x="293.2" y="811.1" font-size="10.1" text-anchor="middle">Ctrl</text>
<line x1="317.1" y1="797.3" x2="317.1" y2="799.9" stroke="#000" stroke-width="1.8" />
<text x="317.2" y="811.1" font-size="10.1" text-anchor="middle">0.4%</text>
<line x1="338.5" y1="797.3" x2="338.5" y2="799.9" stroke="#000" stroke-width="1.8" />
<text x="338.6" y="811.1" font-size="10.1" text-anchor="middle">0.1</text>
<line x1="360" y1="797.3" x2="360" y2="799.9" stroke="#000" stroke-width="1.8" />
<text x="360.2" y="811.1" font-size="10.1" text-anchor="middle">1.0</text>
<line x1="381.2" y1="797.3" x2="381.2" y2="799.9" stroke="#000" stroke-width="1.8" />
<text x="381.9" y="811.1" font-size="10.1" text-anchor="middle">2.5</text>
<line x1="402.6" y1="797.3" x2="402.6" y2="799.9" stroke="#000" stroke-width="1.8" />
<text x="403.2" y="811.1" font-size="10.1" text-anchor="middle">5.0</text>
<line x1="424" y1="797.3" x2="424" y2="799.9" stroke="#000" stroke-width="1.8" />
<text x="424.9" y="811.1" font-size="10.1" text-anchor="middle">7.0</text>
<line x1="445.2" y1="797.3" x2="445.2" y2="799.9" stroke="#000" stroke-width="1.8" />
<text x="447.3" y="811.1" font-size="10.1" text-anchor="middle">10</text>
<line x1="466.7" y1="797.3" x2="466.7" y2="799.9" stroke="#000" stroke-width="1.8" />
<text x="468.4" y="811.1" font-size="10.1" text-anchor="middle">15</text>
<line x1="488.1" y1="797.3" x2="488.1" y2="799.9" stroke="#000" stroke-width="1.8" />
<text x="487.8" y="811.1" font-size="10.1" text-anchor="middle">20</text>
<text x="317.8" y="823.8" font-size="10.1" text-anchor="middle">DMSO</text>
<line x1="338.3" y1="815.6" x2="491.7" y2="816.8" stroke="#222" stroke-width="1.05" />
<text x="414.8" y="827.4" font-size="10" text-anchor="middle">I-43 conc. in &#181;M</text>
<text x="460.4" y="667.2" font-size="10" text-anchor="middle" style="fill:#e8202c">PC12 cells</text>
<text x="263.5" y="725" font-size="10.2" text-anchor="middle" transform="rotate(-90 263.5 725)">Cell viability (%)</text>
</g>
</svg>
</body></html>
